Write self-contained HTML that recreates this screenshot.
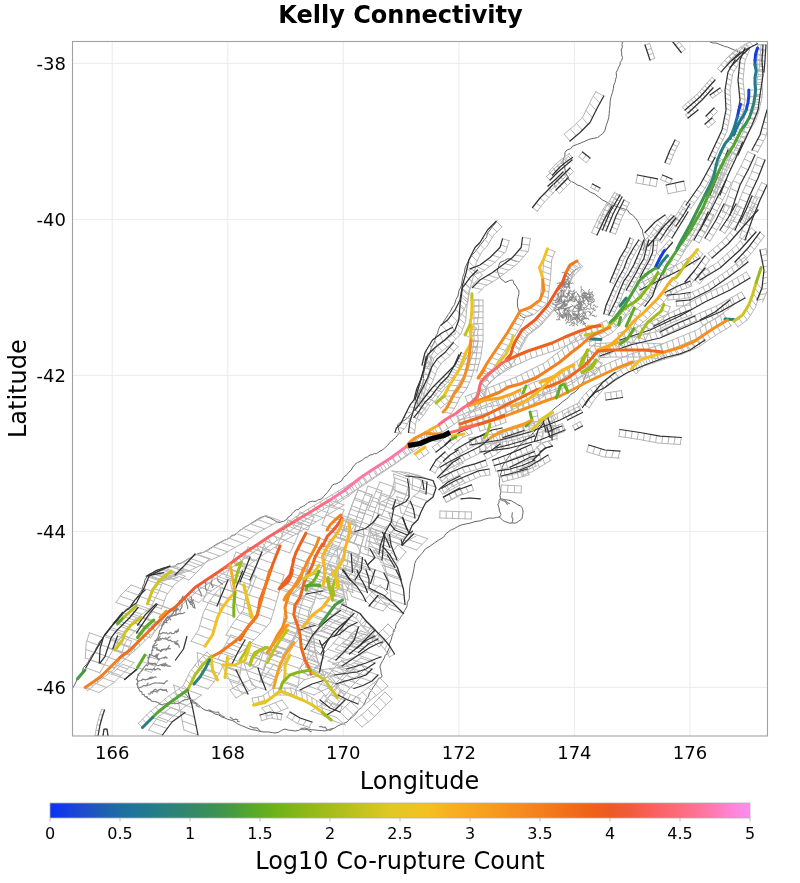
<!DOCTYPE html><html><head><meta charset="utf-8"><title>Kelly Connectivity</title><style>html,body{margin:0;padding:0;background:#fff;}svg{display:block}text{font-family:"DejaVu Sans","Liberation Sans",sans-serif;fill:#000}</style></head><body>
<svg width="800" height="883" viewBox="0 0 800 883">
<defs><linearGradient id="cb" x1="0" x2="1" y1="0" y2="0">
<stop offset="0.0000" stop-color="#0a32f5"/>
<stop offset="0.0500" stop-color="#1e4ec8"/>
<stop offset="0.1000" stop-color="#1d6ea2"/>
<stop offset="0.1500" stop-color="#237e88"/>
<stop offset="0.2000" stop-color="#33886a"/>
<stop offset="0.2500" stop-color="#40964a"/>
<stop offset="0.2860" stop-color="#55a82a"/>
<stop offset="0.3200" stop-color="#6cb21a"/>
<stop offset="0.3800" stop-color="#98ba1a"/>
<stop offset="0.4280" stop-color="#b8c01e"/>
<stop offset="0.4860" stop-color="#e0c824"/>
<stop offset="0.5400" stop-color="#f5c024"/>
<stop offset="0.5720" stop-color="#f8b020"/>
<stop offset="0.6200" stop-color="#f7a01f"/>
<stop offset="0.6800" stop-color="#f48820"/>
<stop offset="0.7140" stop-color="#f27a1c"/>
<stop offset="0.7720" stop-color="#ee621a"/>
<stop offset="0.8000" stop-color="#ec5a24"/>
<stop offset="0.8280" stop-color="#f05c3a"/>
<stop offset="0.8580" stop-color="#f8605a"/>
<stop offset="0.9000" stop-color="#fc6c7e"/>
<stop offset="0.9420" stop-color="#ff78a8"/>
<stop offset="0.9720" stop-color="#ff84d4"/>
<stop offset="1.0000" stop-color="#ff8cf4"/>
</linearGradient><clipPath id="ax"><rect x="72" y="41.5" width="695.5" height="694.5"/></clipPath></defs>
<text x="400.5" y="23" font-size="24" font-weight="bold" text-anchor="middle">Kelly Connectivity</text>
<path d="M112.2 41.5V736M227.8 41.5V736M343.3 41.5V736M458.9 41.5V736M574.4 41.5V736M690.0 41.5V736M72 63.4H767.5M72 219.4H767.5M72 375.4H767.5M72 531.4H767.5M72 687.4H767.5" stroke="#ebebeb" stroke-width="1" fill="none"/>
<g clip-path="url(#ax)" fill="none" stroke-linecap="round" stroke-linejoin="round">
<polyline points="622.5,41.5 622.0,44.4 622.3,47.1 621.2,50.0 621.7,52.6 621.6,55.0 622.5,57.5 621.8,60.4 620.3,62.2 620.0,65.0 618.2,67.9 617.8,69.4 616.2,72.5 616.5,76.5 615.6,79.3 615.0,82.5 613.7,85.2 613.4,88.6 612.5,92.5 611.2,96.3 610.2,100.8 610.0,105.0 609.5,109.6 609.2,113.5 608.8,117.5 607.5,121.9 606.2,125.5 605.0,130.0 603.2,133.2 600.5,135.3 597.5,137.5 593.1,138.4 588.9,139.4 585.0,141.2 581.2,142.8 577.2,144.4 572.5,146.2 570.6,148.8 566.8,150.0 565.0,152.5 564.9,155.0 564.3,157.4 563.0,160.0 563.1,163.5 564.7,166.3 565.0,170.0 565.7,173.1 568.1,177.0 568.8,180.0 571.1,181.3 574.0,182.7 577.5,185.0 581.2,186.2 584.2,188.3 587.5,190.0 589.6,191.7 592.0,192.9 595.0,194.0 597.0,195.9 599.6,197.7 602.5,200.0 607.3,202.4 610.6,204.5 615.0,206.0 618.8,207.2 623.8,208.9 627.5,210.0 629.4,213.2 632.1,214.7 635.0,217.5 637.9,221.4 639.7,225.2 642.5,230.0 642.8,233.4 643.8,236.8 645.0,240.0 644.2,243.3 644.3,246.6 643.0,250.0" stroke="#666" stroke-width="1"/>
<polyline points="709.0,41.5 712.8,43.0 715.9,43.0 720.0,44.5 724.6,46.4 727.6,47.1 732.0,49.0 735.7,50.6 738.2,51.6 742.0,52.0" stroke="#666" stroke-width="1"/>
<polyline points="516.2,261.2 513.9,260.6 510.3,259.0 507.5,258.8 504.4,260.6 502.1,261.5 500.0,262.5 498.8,265.5 498.5,267.2 497.5,270.0 497.9,272.8 498.6,274.6 500.0,277.5 501.7,279.7 503.5,280.5 505.0,282.5 508.1,281.3 509.3,280.5 512.5,280.0 513.3,281.1 513.7,283.1 515.0,285.0 516.4,286.2 517.3,288.9 518.8,290.0 519.0,293.6 518.2,296.8 517.5,300.0 517.4,302.7 517.7,307.2 518.8,310.0 519.4,312.3 518.9,313.5 520.0,315.0 521.6,316.2 523.1,317.4 525.0,317.5 526.7,316.4 530.0,315.7 532.0,314.0" stroke="#666" stroke-width="1"/>
<polyline points="499.5,517.0 496.3,517.6 492.9,518.2 489.0,518.0 484.1,519.4 480.2,520.9 475.0,521.5 470.2,523.1 466.2,523.9 461.0,525.0 457.7,526.6 454.1,528.7 450.5,530.2 446.0,533.7 443.4,537.3 438.8,540.0 434.6,542.8 430.1,546.1 425.2,549.0 422.1,553.3 418.6,557.0 416.1,560.4 414.7,563.6 414.5,566.1 413.8,569.5 412.9,574.0 411.7,579.1 410.4,583.0 409.7,587.6 409.4,593.8 409.3,598.9 407.4,602.2 406.9,606.7 404.8,610.2 402.5,614.5 400.0,618.0 398.0,621.6 396.0,624.5 395.4,628.2 393.4,630.6 393.2,633.5 392.0,636.4 391.2,639.7 389.6,643.5 389.4,647.7 387.8,651.0 387.0,653.9 385.2,655.1 384.4,657.8 382.8,660.5 381.0,663.7 379.9,666.9 380.8,669.9 381.1,673.4 382.1,676.0 381.3,677.4 378.5,678.3 377.6,680.5 376.6,682.1 374.9,685.1 373.1,687.3 371.3,690.7 369.4,692.9 368.5,696.4 366.2,699.5 364.4,703.6 361.7,707.7 358.2,710.1 355.9,713.7 352.7,716.8 349.8,719.3 347.1,721.9 343.6,723.5 340.8,724.6 337.5,726.1 334.5,728.1 330.6,729.0 328.5,729.6 325.0,731.0 321.3,730.5 318.6,730.4 315.0,730.0 311.8,729.7 308.2,729.1 305.0,728.0 302.2,728.4 298.9,730.3 295.0,731.0 291.1,730.3 288.5,730.2 285.0,729.0 281.5,730.4 278.9,732.1 275.0,733.0 272.3,732.6 268.5,731.9 265.0,732.0 262.0,731.8 258.5,731.0 255.0,730.0 251.3,729.6 249.0,728.7 245.0,727.0 241.7,725.7 238.1,724.2 235.0,722.0 232.2,720.5 227.7,719.3 225.0,718.0 221.7,717.0 218.3,714.7 215.0,714.0 212.1,712.1 208.8,710.9 205.0,710.0 201.8,708.1 198.5,704.8 196.0,703.0 193.4,701.3 191.1,699.3 188.0,697.0 186.6,695.3 184.6,693.1 182.0,692.0" stroke="#666" stroke-width="1"/>
<polyline points="499.5,517.0 500.9,518.5 502.7,520.3 504.8,521.5 506.7,522.1 508.7,522.8 510.0,523.2 512.1,522.8 515.2,523.2 517.0,522.4 518.3,521.4 521.2,519.5 522.2,518.0 522.6,515.2 522.9,513.3 523.1,511.0 522.4,508.6 522.0,507.5 520.5,505.8 518.0,505.0 515.9,503.4 513.5,502.2 511.4,500.8 508.9,500.4 506.5,499.6 505.1,499.9 502.1,499.0 500.4,498.8 499.0,500.4 499.1,502.8 497.8,504.0 498.8,507.2 499.5,511.2 501.0,514.5 501.1,514.8 500.4,515.5 499.5,517.0" stroke="#666" stroke-width="1"/>
<polyline points="500.4,498.8 500.0,495.5 500.7,492.7 500.4,490.0 499.9,487.3 499.2,484.5 499.5,481.2 499.6,478.3 500.3,475.0 501.2,472.5 501.9,470.1 502.2,467.7 503.0,465.5 505.4,461.5 507.3,458.7 510.0,455.0 513.5,451.7 517.2,448.5 520.0,445.0 523.8,441.6 527.0,439.4 530.0,436.0 533.9,432.1 536.4,429.3 540.0,425.0 542.3,423.0 545.9,419.2 548.0,417.0 550.0,414.3 552.3,410.4 555.0,408.0 558.8,405.2 562.1,402.1 565.0,400.0 568.2,397.6 571.0,394.2 575.0,392.0 577.9,389.2 581.0,384.8 583.0,382.0 584.7,377.7 586.3,372.9 588.0,368.0 587.6,362.7 587.4,358.0 588.0,354.0" stroke="#666" stroke-width="1"/>
<polyline points="497.0,221.0 494.7,224.0 492.4,226.5 490.0,230.0 487.6,232.9 486.5,237.4 484.0,240.0 482.6,242.1 479.4,246.0 478.0,248.0 475.3,251.7 472.4,254.6 470.0,258.0 468.4,261.2 466.8,264.0 465.0,268.0 464.3,273.1 462.6,277.3 462.0,282.0 461.0,286.5 458.9,290.9 458.0,296.0 456.0,299.3 454.6,304.4 452.0,308.0 450.3,311.8 448.2,314.5 446.0,318.0 444.1,320.7 442.7,323.8 440.0,326.0 438.3,329.9 437.7,333.1 436.0,336.0 435.1,339.2 433.9,343.2 432.0,346.0 430.9,349.7 429.7,352.5 428.0,356.0 427.3,359.4 425.8,364.0 425.0,368.0 423.5,373.5 423.5,379.5 422.5,385.0 420.5,389.0 419.4,391.4 417.5,395.0 417.7,398.4 417.5,401.5 417.5,405.0 416.5,407.7 414.4,410.4 412.5,412.5 410.7,414.3 407.7,417.8 405.0,420.0 402.2,421.5 399.4,422.9 397.5,425.0 398.2,426.9 398.8,430.6 400.0,432.5 397.6,435.0 395.7,437.6 392.5,440.0 392.4,441.0 391.3,441.1 390.0,442.5 387.6,445.4 384.4,448.1 382.5,450.0 379.9,451.2 377.9,452.5 376.2,453.8 374.3,453.5 372.7,454.5 370.0,455.0 367.5,456.8 364.8,458.0 362.5,460.0 361.1,460.9 358.9,462.0 357.5,462.5 355.1,464.3 353.0,466.9 351.2,470.0 348.7,472.4 346.9,474.7 345.0,476.2 343.3,477.7 341.5,481.0 338.8,482.5 336.1,483.9 334.5,484.1 332.5,485.0 330.7,488.0 327.5,492.3 325.0,495.0 323.6,496.5 322.3,498.4 320.0,499.5 318.5,499.6 316.8,500.8 315.0,501.5 312.3,501.2 310.4,501.6 308.0,502.5 306.9,503.7 305.9,504.2 305.0,505.5 303.4,506.1 302.1,506.9 300.0,507.5 298.7,509.5 296.3,509.8 294.0,511.5 292.1,513.5 291.7,514.7 290.0,516.0 288.1,517.2 286.9,519.1 285.0,520.5 283.5,521.4 282.0,521.4 280.0,522.5 277.0,522.0 275.2,520.7 272.0,519.0 269.0,517.4 267.0,516.9 265.0,516.0 261.8,517.1 258.4,518.7 255.0,521.0 251.1,523.2 248.4,525.2 245.0,527.0 242.2,529.0 239.3,530.8 237.0,533.0 235.0,535.0 231.7,535.5 230.0,537.5 227.1,539.3 223.7,540.4 220.0,542.5 215.7,544.7 212.1,547.3 207.5,550.0 203.5,552.4 198.9,553.4 195.0,555.0 192.0,557.6 188.2,558.8 185.0,561.0 181.1,563.2 177.7,563.7 175.0,566.0 171.8,566.6 168.6,567.1 165.0,568.0 162.9,568.1 159.6,569.6 157.5,570.0 154.4,571.1 152.8,572.9 150.0,574.0 148.4,574.8 147.1,577.0 146.0,578.0 144.8,580.1 144.3,583.4 143.0,586.0 141.9,589.9 140.2,592.6 138.0,596.0 136.4,598.4 133.7,601.2 132.0,604.0 129.9,607.2 126.3,609.1 124.0,612.0 121.1,614.5 118.5,617.2 116.0,620.0 113.6,622.8 112.4,625.4 110.0,628.0 108.5,630.8 105.5,633.7 104.0,636.0 102.5,638.7 99.3,642.0 98.0,645.0 96.1,648.4 94.7,651.9 92.0,655.0 90.4,657.7 88.1,662.1 86.0,665.0 83.4,667.7 82.3,672.2 80.0,675.0 78.1,677.5 76.8,680.0 76.0,682.0 74.9,684.3 72.9,687.7 72.0,690.0" stroke="#666" stroke-width="1"/>
<path d="M564.2 134.1 L573.9 125.9 L582.6 117.3 L589.5 103.4 L595.8 91.7 M570.0 141.0 L564.2 134.1 M576.2 135.7 L570.4 128.9 M582.3 130.2 L576.4 123.4 M588.0 124.5 L582.3 117.7 M592.4 117.7 L586.0 110.5 M596.1 110.4 L589.6 103.1 M599.9 103.2 L593.5 96.0 M603.8 96.0 L595.8 91.7 M649.7 43.4 L654.7 58.4 M645.0 45.0 L649.7 43.4 M646.7 50.0 L651.4 48.4 M648.3 55.0 L653.1 53.4 M650.0 60.0 L654.7 58.4 M676.4 38.4 L685.2 49.4 M672.5 41.5 L676.4 38.4 M675.4 45.2 L679.3 42.1 M678.3 48.8 L682.2 45.7 M681.2 52.5 L685.2 49.4 M669.6 164.4 L674.6 152.0 L679.5 142.2 M665.0 162.5 L669.6 164.4 M666.8 157.9 L671.5 159.8 M668.7 153.3 L673.3 155.2 M670.6 148.8 L675.2 150.7 M672.8 144.4 L677.5 146.3 M675.0 140.0 L679.5 142.2 M578.8 156.7 L586.3 162.7 M582.5 152.0 L578.8 156.7 M586.2 155.0 L582.5 159.7 M590.0 158.0 L586.3 162.7 M636.0 182.9 L656.0 186.6 M637.5 175.0 L636.0 182.9 M644.2 176.2 L642.7 184.1 M650.8 177.5 L649.4 185.4 M657.5 178.8 L656.0 186.6 M660.6 179.6 L670.1 183.6 M662.5 175.0 L660.6 179.6 M667.2 177.0 L665.3 181.6 M672.0 179.0 L670.1 183.6 M668.1 193.8 L685.6 190.1 M666.2 185.0 L668.1 193.8 M675.0 183.1 L676.9 191.9 M683.8 181.2 L685.6 190.1 M590.6 187.5 L598.1 191.5 M592.5 184.0 L590.6 187.5 M596.2 186.0 L594.4 189.5 M600.0 188.0 L598.1 191.5 M597.0 227.7 L604.6 209.3 L614.8 192.0 M602.5 230.0 L597.0 227.7 M604.4 225.5 L598.9 223.2 M606.3 220.9 L600.7 218.6 M608.2 216.4 L602.6 214.1 M610.1 211.9 L604.5 209.6 M612.5 207.7 L607.0 205.3 M615.0 203.5 L609.4 201.1 M617.5 199.2 L611.9 196.9 M620.0 195.0 L614.4 192.7 M600.5 228.7 L607.6 211.4 L616.7 194.2 M606.0 231.0 L600.5 228.7 M607.8 226.7 L602.2 224.4 M609.6 222.3 L604.0 220.0 M611.4 218.0 L605.8 215.7 M613.2 213.6 L607.6 211.3 M615.4 209.5 L609.8 207.2 M617.6 205.3 L612.0 203.0 M619.8 201.2 L614.2 198.9 M622.0 197.0 L616.4 194.7 M615.6 234.1 L621.5 218.4 L629.4 202.7 M610.0 232.0 L615.6 234.1 M611.8 227.3 L617.4 229.4 M613.5 222.6 L619.1 224.7 M615.3 218.0 L620.9 220.1 M617.3 213.4 L622.9 215.5 M619.5 208.9 L625.2 211.1 M621.8 204.5 L627.4 206.6 M624.0 200.0 L629.4 202.7 M591.6 232.5 L598.7 217.2 L606.8 203.0 M597.0 235.0 L591.6 232.5 M599.8 229.1 L594.3 226.5 M602.5 223.2 L597.1 220.6 M605.5 217.3 L600.1 214.8 M608.8 211.7 L603.3 209.1 M612.0 206.0 L606.5 203.5 M682.4 107.0 L697.2 94.2 L712.0 77.4 M685.0 110.0 L682.4 107.0 M687.9 107.5 L685.3 104.4 M690.8 104.9 L688.2 101.9 M693.8 102.4 L691.1 99.4 M696.7 99.9 L694.1 96.9 M699.6 97.3 L697.0 94.3 M702.2 94.5 L699.6 91.4 M704.8 91.6 L702.1 88.6 M707.3 88.7 L704.7 85.7 M709.9 85.8 L707.2 82.8 M712.4 82.9 L709.8 79.9 M715.0 80.0 L712.0 77.4 M685.3 110.1 L699.2 97.2 L710.1 85.3 M688.0 113.0 L685.3 110.1 M690.9 110.3 L688.2 107.4 M693.8 107.6 L691.0 104.7 M696.6 105.0 L693.9 102.0 M699.5 102.3 L696.8 99.4 M702.4 99.6 L699.6 96.7 M705.0 96.7 L702.3 93.8 M707.7 93.8 L705.0 90.9 M710.3 90.9 L707.6 88.0 M713.0 88.0 L710.1 85.3 M685.5 114.9 L695.5 106.9 M688.0 118.0 L685.5 114.9 M691.3 115.3 L688.8 112.2 M694.7 112.7 L692.2 109.5 M698.0 110.0 L695.5 106.9 M712.3 98.3 L722.3 91.3 M710.0 95.0 L712.3 98.3 M713.3 92.7 L715.6 95.9 M716.7 90.3 L719.0 93.6 M720.0 88.0 L722.3 91.3 M709.5 119.5 L717.5 111.5 M706.0 116.0 L709.5 119.5 M710.0 112.0 L713.5 115.5 M714.0 108.0 L717.5 111.5 M708.3 127.8 L715.3 121.8 M705.0 124.0 L708.3 127.8 M708.5 121.0 L711.8 124.8 M712.0 118.0 L715.3 121.8 M690.9 208.4 L705.1 188.1 L720.3 160.4 M686.0 205.0 L690.9 208.4 M689.6 199.9 L694.5 203.4 M693.1 194.9 L698.0 198.3 M696.7 189.8 L701.6 193.2 M700.2 184.7 L705.1 188.1 M703.1 179.2 L708.1 182.7 M706.1 173.8 L711.0 177.3 M709.1 168.4 L714.0 171.8 M712.0 162.9 L717.0 166.4 M715.0 157.5 L719.9 161.0 M650.8 238.0 L660.3 228.0 L669.6 221.6 M645.0 232.5 L650.8 238.0 M651.1 226.1 L656.9 231.6 M657.7 220.1 L663.6 225.7 M665.0 215.0 L669.6 221.6 M661.4 242.8 L670.1 231.2 L679.7 221.7 M655.0 238.0 L661.4 242.8 M659.4 232.2 L665.8 237.0 M663.7 226.3 L670.1 231.1 M668.8 221.2 L675.3 226.0 M674.0 216.0 L679.7 221.7 M666.9 234.9 L674.9 221.9 L682.9 208.9 M672.0 238.0 L666.9 234.9 M675.2 232.8 L670.1 229.7 M678.4 227.6 L673.3 224.5 M681.6 222.4 L676.5 219.3 M684.8 217.2 L679.7 214.1 M688.0 212.0 L682.9 208.9 M739.3 62.5 L732.7 73.6 L730.0 90.3 L731.0 110.4 L726.8 131.5 L719.5 147.1 L712.5 162.1 M735.0 60.0 L739.3 62.5 M732.5 64.3 L736.7 66.8 M729.9 68.7 L734.2 71.2 M727.8 73.2 L732.4 75.8 M727.0 78.1 L731.6 80.7 M726.1 83.1 L730.7 85.7 M725.3 88.1 L730.0 90.7 M725.2 93.1 L730.3 95.7 M725.4 98.1 L730.5 100.7 M725.7 103.1 L730.8 105.8 M725.9 108.2 L730.9 110.8 M725.4 113.1 L729.9 115.7 M724.4 118.1 L728.9 120.6 M723.4 123.0 L728.0 125.6 M722.4 127.9 L727.0 130.5 M720.8 132.6 L725.1 135.1 M718.6 137.2 L723.0 139.7 M716.5 141.8 L720.8 144.3 M714.4 146.3 L718.7 148.8 M712.3 150.9 L716.6 153.4 M710.1 155.4 L714.5 158.0 M708.0 160.0 L712.5 162.1 M749.6 49.9 L744.9 61.1 L743.0 80.0 L745.0 100.1 L741.9 118.8 M745.0 48.0 L749.6 49.9 M743.0 52.7 L747.6 54.6 M741.1 57.4 L745.6 59.3 M739.8 62.3 L744.6 64.3 M739.3 67.4 L744.1 69.3 M738.8 72.5 L743.6 74.4 M738.2 77.5 L743.1 79.5 M738.3 82.6 L743.5 84.6 M738.8 87.7 L744.0 89.6 M739.3 92.8 L744.5 94.7 M739.8 97.8 L745.0 99.8 M739.5 102.9 L744.2 104.8 M738.7 107.9 L743.4 109.9 M737.8 113.0 L742.6 114.9 M737.0 118.0 L741.9 118.8 M732.6 151.9 L726.6 166.9 L720.6 181.9 L714.6 196.9 M728.0 150.0 L732.6 151.9 M726.2 154.5 L730.8 156.4 M724.4 159.0 L729.0 160.9 M722.6 163.5 L727.2 165.4 M720.8 168.0 L725.4 169.9 M719.0 172.5 L723.6 174.4 M717.2 177.0 L721.8 178.9 M715.4 181.5 L720.0 183.4 M713.6 186.0 L718.2 187.9 M711.8 190.5 L716.4 192.4 M710.0 195.0 L714.6 196.9 M758.0 44.7 L757.0 60.0 L758.0 74.7 L755.1 94.3 L753.2 108.7 L747.4 123.0 L740.5 137.9 L733.5 152.9 M763.0 45.0 L758.0 44.7 M762.7 50.0 L757.7 49.6 M762.3 55.0 L757.4 54.6 M762.0 59.9 L757.0 59.6 M762.3 64.9 L757.3 64.6 M762.7 69.9 L757.7 69.5 M763.0 74.9 L758.0 74.5 M762.3 79.8 L757.3 79.4 M761.5 84.7 L756.5 84.4 M760.8 89.6 L755.8 89.3 M760.1 94.6 L755.1 94.2 M759.4 99.5 L754.4 99.2 M758.7 104.5 L753.8 104.1 M758.1 109.4 L753.0 109.1 M756.4 114.1 L751.2 113.7 M754.5 118.7 L749.3 118.3 M752.7 123.3 L747.4 122.9 M750.7 127.9 L745.3 127.4 M748.5 132.4 L743.2 132.0 M746.4 136.9 L741.1 136.5 M744.3 141.4 L739.0 141.0 M742.2 146.0 L736.9 145.5 M740.1 150.5 L734.8 150.0 M738.0 155.0 L733.5 152.9 M736.1 139.7 L728.6 157.1 L721.6 172.2 L713.5 192.4 M742.5 142.5 L736.1 139.7 M739.7 149.1 L733.3 146.3 M736.9 155.6 L730.4 152.9 M734.0 162.2 L727.6 159.4 M731.0 168.6 L724.5 165.9 M728.0 175.1 L721.5 172.4 M725.3 181.7 L718.9 179.0 M722.7 188.4 L716.2 185.6 M720.0 195.0 L713.6 192.2 M747.8 151.6 L740.8 166.4 L732.6 182.0 L722.4 212.5 M755.0 155.0 L747.8 151.6 M751.6 162.4 L744.3 159.0 M748.1 169.8 L740.9 166.4 M744.3 177.0 L737.0 173.6 M740.5 184.1 L733.2 180.8 M737.7 191.8 L730.4 188.4 M735.2 199.5 L727.9 196.1 M732.6 207.3 L725.3 203.9 M730.0 215.0 L722.7 211.6 M757.5 157.1 L750.6 174.8 L742.7 191.8 L734.6 211.8 L727.8 226.6 M765.0 160.0 L757.5 157.1 M762.2 167.1 L754.8 164.2 M759.5 174.2 L752.0 171.3 M756.5 181.2 L749.0 178.3 M753.2 188.1 L745.8 185.2 M750.0 195.0 L742.5 192.1 M747.2 202.1 L739.7 199.2 M744.3 209.1 L736.9 206.2 M741.4 216.2 L734.0 213.3 M738.2 223.1 L730.8 220.2 M735.0 230.0 L727.8 226.6 M761.6 182.5 L754.5 197.6 L746.4 217.9 L739.3 238.0 M767.0 185.0 L761.6 182.5 M763.9 191.7 L758.4 189.2 M760.7 198.4 L755.3 195.9 M757.9 205.3 L752.4 202.7 M755.1 212.2 L749.7 209.6 M752.4 219.0 L746.9 216.5 M749.9 226.0 L744.4 223.5 M747.4 233.0 L742.0 230.5 M745.0 240.0 L739.5 237.5 M772.8 111.6 L765.6 137.1 L757.3 152.8 M767.0 110.0 L772.8 111.6 M765.3 115.9 L771.1 117.5 M763.7 121.8 L769.5 123.4 M762.0 127.7 L767.8 129.3 M760.4 133.6 L766.1 135.3 M757.8 139.2 L763.6 140.8 M754.9 144.6 L760.8 146.3 M752.0 150.0 L757.9 151.7 M705.2 232.9 L715.3 214.8 L723.4 198.7 L731.4 182.7 M700.0 230.0 L705.2 232.9 M703.0 224.5 L708.3 227.4 M706.1 219.1 L711.3 222.0 M709.1 213.6 L714.4 216.5 M712.0 208.0 L717.2 210.9 M714.8 202.4 L720.0 205.3 M717.6 196.8 L722.8 199.7 M720.4 191.2 L725.6 194.1 M723.2 185.6 L728.4 188.5 M726.0 180.0 L731.2 182.9 M710.1 241.1 L721.2 222.9 L729.4 206.7 M705.0 238.0 L710.1 241.1 M708.4 232.5 L713.5 235.6 M711.8 226.9 L716.9 230.0 M715.2 221.4 L720.3 224.5 M718.2 215.6 L723.3 218.8 M721.1 209.8 L726.2 212.9 M724.0 204.0 L729.1 207.1 M699.2 243.0 L707.4 228.7 L713.5 214.4 M694.0 240.0 L699.2 243.0 M697.1 234.6 L702.3 237.5 M700.2 229.1 L705.4 232.1 M703.1 223.5 L708.3 226.5 M705.5 217.8 L710.8 220.8 M708.0 212.0 L713.2 215.0 M548.9 171.6 L556.5 163.4 L563.0 158.0 L569.7 153.4 M552.5 175.0 L548.9 171.6 M556.1 171.1 L552.5 167.7 M559.8 167.2 L556.2 163.8 M563.9 163.8 L560.2 160.3 M568.1 160.5 L564.4 157.0 M572.5 157.5 L568.8 154.0 M546.5 176.5 L554.6 168.3 L561.7 162.2 L568.7 156.2 M550.0 180.0 L546.5 176.5 M553.5 176.5 L550.0 173.0 M557.0 173.0 L553.5 169.5 M560.7 169.7 L557.2 166.1 M564.5 166.5 L560.9 162.9 M568.2 163.2 L564.7 159.7 M572.0 160.0 L568.5 156.5 M557.5 187.5 L565.5 179.5 L573.5 171.5 M554.0 184.0 L557.5 187.5 M557.2 180.8 L560.7 184.3 M560.4 177.6 L563.9 181.1 M563.6 174.4 L567.1 177.9 M566.8 171.2 L570.3 174.7 M570.0 168.0 L573.5 171.5 M551.3 189.8 L559.4 182.7 L566.5 175.5 M548.0 186.0 L551.3 189.8 M551.9 182.6 L555.2 186.4 M555.7 179.2 L559.0 183.0 M559.4 175.6 L562.7 179.4 M563.0 172.0 L566.3 175.8 M537.2 211.2 L544.5 201.9 L550.3 196.2 L556.9 189.1 M532.5 207.5 L537.2 211.2 M536.2 202.8 L540.9 206.5 M540.0 198.0 L544.7 201.8 M544.2 193.8 L549.0 197.5 M548.4 189.4 L553.1 193.1 M552.5 185.0 L556.9 189.1 M559.5 193.5 L565.5 187.5 L571.5 181.5 M556.0 190.0 L559.5 193.5 M560.0 186.0 L563.5 189.5 M564.0 182.0 L567.5 185.5 M568.0 178.0 L571.5 181.5 M717.5 68.6 L726.4 58.5 L736.6 48.9 M721.2 71.9 L717.5 68.6 M724.8 67.9 L721.1 64.5 M728.4 63.8 L724.7 60.5 M732.2 59.9 L728.4 56.6 M736.1 56.2 L732.3 52.9 M740.0 52.5 L736.2 49.2 M726.4 64.1 L736.5 53.5 L746.6 43.9 M730.0 67.5 L726.4 64.1 M733.3 64.1 L729.6 60.6 M736.5 60.7 L732.9 57.2 M739.8 57.3 L736.1 53.8 M743.2 54.0 L739.5 50.5 M746.6 50.7 L743.0 47.3 M750.0 47.5 L746.4 44.0 M729.4 56.1 L742.3 45.8 L755.3 39.3 M732.5 60.0 L729.4 56.1 M736.4 56.9 L733.3 53.0 M740.3 53.8 L737.2 49.9 M744.2 50.6 L741.1 46.7 M748.6 48.2 L745.4 44.2 M753.0 46.0 L749.9 42.0 M757.5 43.8 L754.3 39.8 M761.0 44.7 L760.0 59.6 L759.0 71.6 M766.0 45.0 L761.0 44.7 M765.6 50.4 L760.7 50.1 M765.3 55.8 L760.3 55.5 M764.9 61.2 L759.9 60.9 M764.4 66.6 L759.5 66.3 M764.0 72.0 L759.0 71.6 M501.9 226.9 L493.9 234.9 L486.5 247.1 L481.7 251.8 L476.3 262.6 L474.0 274.4 L470.3 286.8 L467.7 302.3 L461.8 314.2 L453.4 325.4 L446.2 331.2 M496.2 221.2 L501.9 226.9 M491.2 226.3 L496.9 231.9 M486.6 231.6 L492.4 237.3 M482.9 237.7 L488.7 243.4 M479.0 243.5 L484.5 249.1 M474.3 248.8 L480.3 254.7 M471.2 255.2 L477.1 261.0 M468.4 261.7 L475.3 267.8 M467.0 268.6 L473.9 274.8 M465.3 275.5 L471.9 281.6 M463.3 282.3 L470.0 288.4 M461.8 289.2 L468.8 295.4 M460.6 296.2 L467.6 302.4 M458.5 302.9 L464.5 308.8 M455.4 309.3 L461.2 315.0 M451.2 315.0 L456.9 320.7 M446.8 320.6 L452.4 326.2 M441.2 325.0 L446.9 330.7 M509.2 240.7 L505.8 251.4 L494.6 262.8 L483.4 271.1 L472.5 275.3 M502.5 238.8 L509.2 240.7 M500.7 245.1 L507.2 247.0 M497.1 250.4 L504.4 252.8 M492.4 255.1 L499.7 257.6 M487.4 259.5 L495.1 262.3 M482.1 263.4 L489.8 266.3 M476.2 266.4 L484.5 270.3 M470.0 268.8 L478.5 273.0 M530.4 238.5 L528.4 251.1 L518.0 263.3 L507.3 271.4 L496.9 279.2 L484.8 286.4 L478.2 293.2 M522.5 237.5 L530.4 238.5 M521.7 244.1 L529.4 245.1 M519.1 250.0 L528.0 251.6 M514.7 255.0 L523.7 256.6 M509.8 259.5 L519.3 261.7 M504.4 263.5 L514.3 266.1 M499.1 267.6 L509.0 270.1 M493.7 271.6 L503.6 274.1 M488.1 275.1 L498.3 278.2 M482.4 278.6 L492.6 281.7 M477.2 282.8 L486.9 285.2 M472.5 287.5 L481.8 289.4 M482.4 274.9 L475.3 282.1 L469.1 289.9 L467.0 305.8 L465.6 321.4 L460.8 334.0 L449.6 345.3 L439.6 352.8 L433.8 358.1 L430.5 371.8 L426.7 384.5 L421.7 401.9 M477.5 270.0 L482.4 274.9 M473.2 274.3 L478.2 279.2 M469.1 278.6 L474.1 283.6 M465.5 283.5 L470.3 288.3 M462.4 288.5 L468.6 293.8 M461.5 294.4 L467.8 299.8 M460.7 300.4 L467.0 305.8 M459.9 306.3 L466.4 311.8 M459.4 312.3 L465.9 317.8 M458.9 318.3 L464.7 323.6 M457.2 324.1 L462.6 329.2 M455.1 329.7 L460.1 334.6 M451.0 334.0 L455.9 338.9 M446.7 338.3 L451.6 343.2 M442.1 342.2 L447.1 347.1 M437.3 345.8 L442.3 350.8 M432.8 349.7 L437.6 354.6 M428.5 354.0 L433.6 358.9 M426.4 359.4 L432.2 364.7 M424.9 365.3 L430.8 370.6 M423.4 371.1 L429.1 376.4 M421.7 376.9 L427.4 382.1 M420.0 382.6 L425.7 387.9 M418.3 388.4 L424.1 393.7 M416.7 394.2 L422.4 399.5 M415.0 400.0 L421.7 401.9 M455.6 333.8 L446.2 338.4 L437.8 344.6 L431.5 355.2 L428.8 366.6 M452.5 327.5 L455.6 333.8 M446.0 330.8 L449.1 337.0 M439.8 334.6 L442.9 340.8 M433.9 338.9 L437.3 345.4 M429.7 344.7 L433.6 351.7 M425.9 351.0 L430.7 358.3 M423.7 357.9 L429.1 365.4 M422.0 365.0 L428.8 366.6 M467.5 355.6 L460.7 369.1 L449.9 379.9 L437.7 392.2 L428.0 404.3 L420.6 414.2 M461.2 352.5 L467.5 355.6 M458.5 358.0 L464.7 361.2 M455.7 363.6 L461.9 366.7 M451.7 368.3 L458.2 371.6 M447.4 372.6 L453.9 376.0 M443.0 377.0 L449.5 380.4 M438.6 381.4 L445.1 384.7 M434.2 385.8 L440.8 389.1 M430.2 390.4 L436.5 393.6 M426.3 395.3 L432.7 398.5 M422.4 400.1 L428.8 403.3 M418.7 405.0 L425.1 408.2 M415.0 410.0 L421.4 413.2 M483.0 300.0 L483.0 320.0 L483.0 340.5 L480.8 356.8 L476.7 372.3 M474.0 300.0 L483.0 300.0 M474.0 305.9 L483.0 305.9 M474.0 311.8 L483.0 311.8 M474.0 317.7 L483.0 317.7 M474.0 323.6 L483.0 323.6 M474.0 329.4 L483.0 329.4 M474.0 335.3 L483.0 335.3 M473.8 341.2 L482.9 341.2 M473.1 347.0 L482.1 347.0 M472.3 352.9 L481.3 352.9 M471.0 358.6 L480.3 358.7 M469.5 364.3 L478.8 364.4 M468.0 370.0 L477.3 370.1 M474.0 300.0 L474.0 320.0 L474.0 340.0 L472.0 355.0 L468.0 370.0 M555.0 251.6 L551.6 260.1 L550.5 278.2 L547.4 303.1 L533.9 314.5 L525.1 317.4 L521.9 324.1 L514.2 336.8 L504.2 351.9 L494.3 366.7 L485.7 381.5 M547.5 248.8 L555.0 251.6 M545.4 254.3 L552.8 257.1 M543.7 259.9 L551.5 262.7 M543.3 265.8 L551.1 268.6 M542.9 271.6 L550.7 274.5 M542.5 277.5 L550.2 280.4 M541.8 283.4 L549.5 286.2 M541.2 289.2 L548.7 292.1 M540.5 295.1 L548.0 297.9 M539.2 300.6 L546.8 303.5 M534.5 304.1 L542.3 307.3 M529.7 307.6 L537.8 311.2 M524.2 309.7 L533.2 314.7 M519.3 312.5 L527.6 316.6 M516.4 317.6 L523.7 320.4 M513.4 322.7 L521.0 325.6 M510.4 327.7 L517.9 330.6 M507.3 332.8 L514.9 335.7 M504.0 337.7 L511.7 340.6 M500.8 342.6 L508.4 345.6 M497.5 347.5 L505.1 350.5 M494.2 352.4 L501.9 355.4 M491.0 357.3 L498.6 360.3 M487.7 362.2 L495.3 365.2 M484.7 367.3 L492.3 370.2 M481.7 372.4 L489.3 375.3 M478.8 377.5 L486.3 380.4 M547.5 248.8 L543.8 258.8 L542.5 277.5 L540.0 300.0 L530.0 307.5 L520.0 311.2 L515.0 320.0 L507.5 332.5 L497.5 347.5 L487.5 362.5 L478.8 377.5 M582.8 266.5 L572.6 277.0 L564.0 293.9 L554.5 309.7 L540.5 325.8 L528.1 335.2 L520.0 349.9 M577.0 261.0 L582.8 266.5 M572.9 265.3 L578.6 270.8 M568.7 269.6 L574.5 275.1 M565.1 274.3 L571.1 280.0 M562.3 279.6 L568.4 285.3 M559.6 285.0 L565.6 290.6 M556.8 290.3 L562.8 295.9 M553.8 295.4 L559.7 301.0 M550.7 300.5 L556.6 306.1 M547.5 305.6 L553.3 311.1 M543.6 310.1 L549.4 315.6 M539.7 314.6 L545.4 320.1 M535.7 319.1 L541.5 324.6 M531.2 323.0 L537.0 328.5 M526.4 326.6 L532.2 332.1 M521.8 330.4 L527.7 335.9 M518.9 335.6 L524.8 341.2 M515.9 340.8 L521.9 346.4 M513.0 346.0 L520.0 349.9 M577.0 261.0 L566.0 272.5 L557.0 290.0 L548.0 305.0 L535.0 320.0 L522.0 330.0 L513.0 346.0 M604.1 332.7 L582.7 338.5 L554.9 350.5 L530.9 358.5 L511.3 367.3 M602.0 325.0 L604.1 332.7 M596.3 326.6 L598.4 334.3 M590.6 328.1 L592.7 335.8 M584.9 329.7 L587.0 337.4 M579.2 331.3 L581.4 339.1 M573.8 333.7 L575.9 341.4 M568.4 336.0 L570.5 343.8 M562.9 338.3 L565.1 346.1 M557.5 340.6 L559.6 348.4 M552.1 343.0 L554.2 350.7 M546.5 344.8 L548.6 352.6 M540.8 346.7 L542.9 354.4 M535.2 348.6 L537.3 356.3 M529.6 350.5 L531.7 358.2 M524.2 352.7 L526.3 360.5 M518.8 355.1 L520.9 363.0 M513.4 357.6 L515.5 365.4 M508.0 360.0 L511.3 367.3 M602.0 325.0 L580.0 331.0 L552.0 343.0 L528.0 351.0 L508.0 360.0 M512.2 366.8 L496.9 376.3 L486.8 386.2 L482.9 400.1 L469.9 413.8 L444.4 430.7 L411.0 453.1 L364.3 484.8 L304.4 520.7 L260.7 552.0 M508.0 360.0 L512.2 366.8 M502.0 363.7 L506.3 370.5 M496.1 367.5 L500.3 374.2 M490.4 371.6 L494.7 378.5 M485.4 376.6 L489.7 383.4 M480.4 381.6 L486.0 389.1 M478.2 388.2 L484.1 395.9 M476.3 394.9 L481.0 402.0 M471.9 400.3 L476.2 407.1 M467.0 405.4 L471.4 412.3 M461.6 409.8 L465.8 416.5 M455.7 413.6 L459.9 420.4 M449.8 417.5 L454.1 424.3 M443.9 421.4 L448.2 428.2 M438.1 425.3 L442.3 432.1 M432.2 429.2 L436.5 436.0 M426.4 433.1 L430.6 439.9 M420.5 437.1 L424.8 443.9 M414.7 441.0 L418.9 447.8 M408.9 444.9 L413.1 451.7 M403.0 448.9 L407.3 455.6 M397.2 452.8 L401.4 459.6 M391.4 456.8 L395.6 463.5 M385.5 460.7 L389.8 467.5 M379.7 464.7 L383.9 471.4 M373.9 468.6 L378.1 475.4 M368.0 472.6 L372.3 479.3 M362.2 476.5 L366.5 483.3 M356.2 480.3 L360.5 487.0 M350.2 483.9 L354.5 490.7 M344.2 487.5 L348.4 494.3 M338.1 491.1 L342.4 497.9 M332.1 494.7 L336.3 501.5 M326.1 498.4 L330.3 505.1 M320.0 502.0 L324.3 508.8 M314.0 505.6 L318.2 512.4 M307.9 509.2 L312.2 516.0 M301.9 512.9 L306.1 519.6 M296.1 516.8 L300.3 523.6 M290.4 520.9 L294.6 527.7 M284.6 525.0 L288.9 531.8 M278.9 529.1 L283.2 535.9 M273.2 533.2 L277.4 540.0 M267.5 537.3 L271.7 544.1 M261.7 541.4 L266.0 548.2 M256.0 545.5 L260.7 552.0 M508.0 360.0 L492.0 370.0 L480.0 382.0 L476.0 396.0 L465.0 407.5 L440.0 424.0 L406.5 446.5 L360.0 478.0 L300.0 514.0 L256.0 545.5 M258.3 548.8 L227.3 570.8 L197.5 590.7 L170.3 615.4 L140.3 645.4 L112.6 670.5 L87.5 690.6 M256.0 545.5 L258.3 548.8 M250.3 549.5 L252.6 552.8 M244.6 553.6 L247.0 556.8 M239.0 557.6 L241.3 560.9 M233.3 561.6 L235.6 564.9 M227.6 565.7 L229.9 568.9 M221.9 569.6 L224.2 572.9 M216.1 573.5 L218.4 576.7 M210.3 577.3 L212.6 580.6 M204.5 581.2 L206.8 584.4 M198.7 585.0 L201.0 588.3 M193.1 589.2 L195.5 592.5 M188.0 593.9 L190.3 597.2 M182.8 598.6 L185.1 601.9 M177.7 603.3 L180.0 606.5 M172.5 607.9 L174.8 611.2 M167.4 612.6 L169.7 615.9 M162.4 617.6 L164.8 620.9 M157.5 622.5 L159.9 625.8 M152.6 627.4 L154.9 630.7 M147.7 632.3 L150.0 635.6 M142.7 637.3 L145.1 640.6 M137.8 642.2 L140.2 645.5 M132.7 646.9 L135.0 650.2 M127.5 651.6 L129.9 654.8 M122.4 656.2 L124.7 659.5 M117.2 660.9 L119.6 664.2 M112.1 665.6 L114.4 668.9 M106.8 670.1 L109.1 673.4 M101.3 674.4 L103.6 677.7 M95.9 678.8 L98.2 682.1 M90.4 683.1 L92.8 686.4 M85.0 687.5 L87.5 690.6 M256.0 545.5 L225.0 567.5 L195.0 587.5 L167.5 612.5 L137.5 642.5 L110.0 667.5 L85.0 687.5 M465.2 396.5 L497.1 384.5 L516.7 376.7 L543.8 363.2 L567.1 345.7 L585.7 330.3 L606.6 320.3 M468.0 404.0 L465.2 396.5 M473.6 401.9 L470.8 394.4 M479.3 399.8 L476.5 392.3 M484.9 397.7 L482.1 390.2 M490.6 395.5 L487.7 388.1 M496.2 393.4 L493.4 385.9 M501.8 391.3 L499.0 383.8 M507.4 389.0 L504.6 381.5 M513.0 386.8 L510.2 379.3 M518.6 384.6 L515.8 377.1 M524.0 382.0 L521.2 374.5 M529.4 379.3 L526.6 371.8 M534.8 376.6 L532.0 369.1 M540.2 373.9 L537.4 366.4 M545.6 371.2 L542.8 363.7 M550.6 368.0 L547.7 360.3 M555.5 364.4 L552.5 356.7 M560.3 360.8 L557.3 353.0 M565.1 357.2 L562.1 349.4 M569.9 353.6 L566.9 345.8 M574.6 349.8 L571.6 342.0 M579.3 346.0 L576.2 338.1 M583.9 342.1 L580.8 334.3 M588.5 338.2 L585.5 330.4 M593.7 335.3 L590.9 327.8 M599.1 332.7 L596.3 325.2 M604.6 330.1 L601.7 322.6 M610.0 327.5 L606.6 320.3 M468.0 404.0 L500.0 392.0 L520.0 384.0 L548.0 370.0 L572.0 352.0 L590.0 337.0 L610.0 327.5 M457.0 416.6 L496.7 400.7 L532.8 382.7 L556.4 374.8 L578.9 359.8 L594.7 343.7 L627.6 342.0 L663.0 344.0 M460.0 424.0 L457.0 416.6 M465.6 421.8 L462.6 414.3 M471.2 419.5 L468.2 412.1 M476.8 417.3 L473.8 409.9 M482.3 415.1 L479.4 407.6 M487.9 412.8 L485.0 405.4 M493.5 410.6 L490.5 403.2 M499.1 408.4 L496.1 400.9 M504.5 405.7 L501.5 398.3 M509.9 403.1 L506.9 395.6 M515.3 400.4 L512.3 392.9 M520.6 397.7 L517.7 390.2 M526.0 395.0 L523.0 387.5 M531.4 392.3 L528.4 384.9 M536.8 389.7 L533.9 382.3 M542.5 387.8 L539.6 380.4 M548.2 385.9 L545.3 378.5 M554.0 384.0 L551.0 376.6 M559.7 382.1 L556.7 374.7 M564.7 378.9 L561.7 371.3 M569.7 375.5 L566.7 368.0 M574.7 372.2 L571.7 364.7 M579.7 368.9 L576.7 361.3 M584.6 365.4 L581.3 357.5 M588.6 360.9 L585.5 353.2 M592.7 356.5 L589.7 348.9 M596.8 352.0 L593.9 344.6 M602.4 351.0 L599.6 343.5 M608.4 350.8 L605.6 343.2 M614.4 350.5 L611.6 342.8 M620.5 350.3 L617.6 342.5 M626.5 350.0 L623.6 342.2 M632.5 350.3 L629.6 342.1 M638.5 350.6 L635.6 342.5 M644.5 351.0 L641.6 342.8 M650.5 351.3 L647.6 343.1 M656.5 351.7 L653.6 343.5 M662.5 352.0 L659.6 343.8 M460.0 424.0 L500.0 408.0 L536.0 390.0 L560.0 382.0 L584.0 366.0 L597.5 351.2 L627.5 350.0 L662.5 352.0 M458.1 420.2 L497.7 410.3 L529.2 398.5 L556.8 388.7 L581.5 375.8 L611.8 361.7 L629.9 354.4 L659.8 345.0 L696.4 330.3 L723.2 313.3 M460.0 428.0 L458.1 420.2 M465.9 426.5 L463.9 418.8 M471.7 425.1 L469.8 417.3 M477.6 423.6 L475.6 415.9 M483.4 422.1 L481.5 414.4 M489.3 420.7 L487.3 412.9 M495.1 419.2 L493.2 411.5 M501.0 417.6 L499.0 409.8 M506.6 415.5 L504.7 407.7 M512.3 413.4 L510.3 405.6 M517.9 411.3 L516.0 403.5 M523.6 409.2 L521.6 401.4 M529.2 407.0 L527.3 399.2 M534.9 405.0 L532.9 397.2 M540.6 402.9 L538.6 395.1 M546.3 400.9 L544.3 393.1 M551.9 398.9 L550.0 391.1 M557.6 396.9 L555.7 389.1 M563.1 394.4 L561.1 386.4 M568.5 391.6 L566.4 383.6 M573.8 388.8 L571.8 380.9 M579.2 386.0 L577.2 378.1 M584.5 383.2 L582.5 375.3 M590.0 380.7 L588.0 372.8 M595.5 378.1 L593.5 370.2 M600.9 375.6 L598.9 367.7 M606.4 373.0 L604.4 365.1 M611.9 370.5 L609.9 362.6 M617.4 368.0 L615.4 360.2 M623.0 365.8 L621.0 358.0 M628.6 363.6 L626.6 355.7 M634.3 361.4 L632.3 353.7 M640.0 359.6 L638.1 351.9 M645.8 357.8 L643.8 350.0 M651.5 356.0 L649.6 348.2 M657.3 354.2 L655.3 346.4 M663.0 352.3 L661.1 344.5 M668.6 350.1 L666.7 342.2 M674.2 347.8 L672.3 340.0 M679.8 345.6 L677.9 337.8 M685.4 343.3 L683.5 335.5 M691.0 341.1 L689.1 333.3 M696.6 338.8 L694.7 331.0 M702.0 336.2 L699.9 328.1 M707.1 333.0 L705.0 324.9 M712.2 329.7 L710.1 321.6 M717.3 326.5 L715.2 318.4 M722.4 323.2 L720.3 315.1 M727.5 320.0 L723.2 313.3 M460.0 428.0 L500.0 418.0 L532.0 406.0 L560.0 396.0 L585.0 383.0 L615.0 369.0 L632.5 362.0 L662.5 352.5 L700.0 337.5 L727.5 320.0 M468.8 438.1 L498.5 433.2 L527.8 425.4 L557.2 413.6 L576.9 403.7 M470.0 445.0 L468.8 438.1 M476.0 444.0 L474.9 437.1 M482.1 443.0 L480.9 436.1 M488.1 442.0 L486.9 435.1 M494.1 441.0 L493.0 434.1 M500.1 440.0 L499.0 433.0 M506.0 438.4 L504.9 431.5 M512.0 436.8 L510.8 429.9 M517.9 435.2 L516.7 428.3 M523.8 433.7 L522.6 426.7 M529.7 432.1 L528.5 425.1 M535.4 429.9 L534.2 422.8 M541.0 427.6 L539.8 420.5 M546.7 425.3 L545.5 418.3 M552.4 423.0 L551.2 416.0 M558.1 420.8 L556.9 413.7 M563.6 418.2 L562.3 411.0 M569.1 415.5 L567.8 408.3 M574.5 412.7 L573.3 405.5 M580.0 410.0 L576.9 403.7 M479.1 445.1 L508.6 441.1 L537.8 433.3 L562.4 423.5 M480.0 452.0 L479.1 445.1 M485.8 451.2 L484.9 444.3 M491.7 450.4 L490.7 443.5 M497.5 449.7 L496.6 442.7 M503.3 448.9 L502.4 442.0 M509.2 448.1 L508.2 441.2 M514.9 446.7 L513.9 439.7 M520.5 445.2 L519.6 438.2 M526.2 443.7 L525.3 436.7 M531.9 442.2 L531.0 435.2 M537.6 440.6 L536.7 433.7 M543.2 438.7 L542.2 431.6 M548.6 436.6 L547.6 429.4 M554.1 434.4 L553.1 427.2 M559.5 432.2 L558.5 425.0 M565.0 430.0 L562.4 423.5 M597.6 349.4 L628.0 338.3 L657.8 331.4 L687.2 318.6 L716.9 305.7 L741.6 291.9 M600.0 356.0 L597.6 349.4 M605.7 353.9 L603.3 347.4 M611.3 351.8 L608.9 345.3 M617.0 349.8 L614.6 343.2 M622.6 347.7 L620.2 341.1 M628.3 345.6 L625.9 339.1 M634.1 344.0 L631.7 337.4 M640.0 342.7 L637.6 336.1 M645.9 341.3 L643.4 334.7 M651.7 339.9 L649.3 333.3 M657.6 338.6 L655.2 332.0 M663.3 336.6 L660.9 330.0 M668.8 334.2 L666.4 327.6 M674.4 331.8 L671.9 325.2 M679.9 329.4 L677.5 322.8 M685.4 327.0 L683.0 320.4 M691.0 324.6 L688.5 318.0 M696.5 322.2 L694.1 315.6 M702.0 319.8 L699.6 313.2 M707.6 317.4 L705.1 310.8 M713.1 315.0 L710.7 308.4 M718.6 312.6 L716.2 306.0 M724.0 309.8 L721.5 303.1 M729.2 306.8 L726.8 300.2 M734.5 303.9 L732.0 297.2 M739.7 300.9 L737.3 294.3 M745.0 298.0 L741.6 291.9 M617.8 333.4 L647.4 323.5 L676.8 309.8 L701.8 295.8 L726.7 283.8 L746.4 272.0 M620.0 340.0 L617.8 333.4 M625.7 338.1 L623.5 331.5 M631.4 336.2 L629.2 329.6 M637.1 334.3 L634.9 327.7 M642.8 332.4 L640.6 325.8 M648.5 330.5 L646.3 323.9 M654.1 328.1 L651.8 321.4 M659.5 325.6 L657.3 318.9 M665.0 323.0 L662.7 316.3 M670.4 320.5 L668.2 313.8 M675.9 317.9 L673.6 311.2 M681.3 315.3 L679.0 308.5 M686.5 312.3 L684.3 305.6 M691.8 309.4 L689.5 302.7 M697.0 306.5 L694.8 299.7 M702.3 303.5 L700.0 296.8 M707.6 300.7 L705.4 294.1 M713.0 298.1 L710.8 291.4 M718.5 295.5 L716.2 288.8 M723.9 292.9 L721.7 286.2 M729.3 290.3 L727.1 283.6 M734.5 287.3 L732.2 280.5 M739.7 284.2 L737.4 277.4 M744.8 281.1 L742.6 274.3 M750.0 278.0 L746.4 272.0 M637.3 284.6 L657.3 274.6 L677.1 264.7 L696.9 252.9 M640.0 290.0 L637.3 284.6 M645.5 287.2 L642.8 281.9 M651.1 284.5 L648.4 279.1 M656.6 281.7 L653.9 276.3 M662.1 278.9 L659.4 273.6 M667.7 276.2 L665.0 270.8 M673.2 273.4 L670.5 268.0 M678.7 270.6 L676.0 265.3 M684.1 267.5 L681.4 262.2 M689.4 264.4 L686.7 259.0 M694.7 261.2 L692.0 255.8 M700.0 258.0 L696.9 252.9 M687.3 294.6 L706.9 284.9 L726.4 271.2 L744.3 257.3 M690.0 300.0 L687.3 294.6 M695.2 297.4 L692.5 292.0 M700.4 294.8 L697.7 289.5 M705.6 292.2 L702.9 286.9 M710.7 289.5 L708.0 284.1 M715.4 286.2 L712.7 280.8 M720.2 282.9 L717.5 277.5 M724.9 279.5 L722.2 274.1 M729.7 276.2 L726.9 270.8 M734.3 272.7 L731.5 267.2 M738.8 269.1 L736.1 263.7 M743.4 265.6 L740.7 260.1 M748.0 262.0 L744.3 257.3 M696.9 274.9 L716.4 263.2 L735.8 245.8 L751.5 228.0 M700.0 280.0 L696.9 274.9 M705.3 276.8 L702.2 271.7 M710.6 273.6 L707.5 268.5 M715.9 270.4 L712.9 265.3 M721.1 267.0 L717.9 261.8 M725.7 262.9 L722.5 257.7 M730.3 258.7 L727.1 253.5 M734.9 254.6 L731.7 249.4 M739.5 250.5 L736.3 245.2 M743.7 245.9 L740.4 240.5 M747.8 241.3 L744.5 235.9 M751.9 236.6 L748.6 231.3 M756.0 232.0 L751.5 228.0 M708.0 253.5 L723.8 239.8 L737.5 224.0 L753.5 206.0 M712.0 258.0 L708.0 253.5 M716.6 254.0 L712.6 249.5 M721.1 250.0 L717.2 245.5 M725.7 246.0 L721.7 241.5 M729.9 241.8 L726.0 237.2 M733.9 237.2 L730.0 232.7 M737.9 232.7 L733.9 228.1 M741.9 228.1 L737.9 223.6 M745.9 223.6 L741.9 219.0 M750.0 219.1 L746.0 214.5 M754.0 214.5 L750.0 210.0 M758.0 210.0 L753.5 206.0 M739.4 266.1 L752.6 251.8 L764.8 235.6 M735.0 262.0 L739.4 266.1 M738.8 257.9 L743.2 262.0 M742.6 253.8 L747.0 257.9 M746.4 249.7 L750.8 253.8 M749.9 245.4 L754.4 249.5 M753.3 240.9 L757.7 245.0 M756.6 236.5 L761.1 240.6 M760.0 232.0 L764.4 236.1 M765.9 248.8 L770.0 269.7 L767.8 289.4 L762.5 302.3 M760.0 250.0 L765.9 248.8 M761.1 255.6 L767.0 254.4 M762.2 261.2 L768.1 260.1 M763.4 266.8 L769.2 265.7 M763.7 272.5 L769.8 271.3 M763.1 278.2 L769.2 277.0 M762.5 283.9 L768.6 282.7 M761.4 289.4 L768.0 288.4 M759.2 294.7 L766.1 293.7 M757.0 300.0 L763.9 299.0 M702.8 325.3 L718.3 317.0 L733.7 304.7 M700.0 320.0 L702.8 325.3 M705.3 317.2 L708.1 322.4 M710.6 314.3 L713.5 319.6 M715.9 311.3 L718.7 316.7 M720.6 307.5 L723.4 312.9 M725.3 303.8 L728.2 309.1 M730.0 300.0 L732.9 305.4 M643.5 242.0 L650.3 234.3 L657.1 224.6 M648.0 246.0 L643.5 242.0 M651.8 241.7 L647.2 237.8 M655.5 237.4 L650.9 233.4 M658.7 232.7 L654.2 228.7 M662.0 228.0 L657.1 224.6 M655.0 236.7 L663.1 224.5 L671.3 214.3 M660.0 240.0 L655.0 236.7 M663.0 235.5 L658.0 232.1 M666.0 230.9 L661.1 227.6 M669.2 226.5 L664.2 223.2 M672.6 222.3 L667.6 218.9 M676.0 218.0 L671.0 214.7 M671.0 222.7 L678.9 210.8 L684.9 200.9 M676.0 226.0 L671.0 222.7 M679.6 220.6 L674.6 217.2 M683.2 215.1 L678.2 211.8 M686.6 209.6 L681.6 206.3 M690.0 204.0 L684.9 200.9 M699.6 283.8 L709.6 271.8 M695.0 280.0 L699.6 283.8 M698.3 276.0 L702.9 279.8 M701.7 272.0 L706.3 275.8 M705.0 268.0 L709.6 271.8 M725.0 233.3 L733.1 221.1 L741.2 207.0 M720.0 230.0 L725.0 233.3 M723.4 224.9 L728.4 228.2 M726.8 219.8 L731.8 223.2 M729.9 214.6 L734.9 217.9 M733.0 209.3 L738.0 212.6 M736.0 204.0 L741.0 207.3 M745.4 224.7 L751.4 212.5 L757.5 198.4 M740.0 222.0 L745.4 224.7 M742.6 216.9 L747.9 219.6 M745.1 211.8 L750.5 214.4 M747.5 206.5 L752.9 209.2 M749.7 201.3 L755.1 204.0 M752.0 196.0 L757.4 198.7 M689.6 285.8 L699.8 273.7 L709.9 259.5 M685.0 282.0 L689.6 285.8 M689.2 277.0 L693.8 280.8 M693.4 271.9 L698.0 275.8 M697.4 266.7 L702.0 270.5 M701.2 261.3 L705.8 265.2 M705.0 256.0 L709.6 259.9 M642.1 242.2 L637.2 249.6 L631.1 260.5 L627.4 270.4 L622.3 279.4 L617.4 289.2 L613.7 297.8 L610.0 306.3 L607.6 314.8 M638.8 240.0 L642.1 242.2 M635.9 244.3 L639.2 246.5 M633.2 248.6 L636.5 250.8 M630.7 253.1 L634.0 255.3 M628.2 257.5 L631.5 259.8 M626.2 262.2 L629.6 264.5 M624.4 267.0 L627.8 269.3 M622.1 271.6 L625.4 273.8 M619.6 276.1 L622.9 278.3 M617.2 280.6 L620.6 282.8 M614.9 285.2 L618.3 287.4 M612.8 289.8 L616.1 292.1 M610.7 294.5 L614.1 296.8 M608.7 299.2 L612.1 301.5 M606.7 303.9 L610.1 306.2 M605.2 308.8 L608.7 311.1 M603.8 313.8 L607.6 314.8 M647.5 241.3 L645.0 248.9 L641.2 257.8 L637.3 266.8 L632.2 275.8 L627.3 283.1 L623.7 291.5 L619.9 301.6 L616.1 309.3 L612.3 316.8 M643.8 240.0 L647.5 241.3 M642.2 244.6 L646.0 245.9 M640.5 249.2 L644.3 250.5 M638.6 253.7 L642.4 255.0 M636.7 258.2 L640.5 259.5 M634.7 262.7 L638.6 263.9 M632.6 267.0 L636.4 268.3 M630.2 271.3 L634.0 272.6 M627.6 275.4 L631.5 276.8 M624.9 279.5 L628.8 280.8 M622.7 283.8 L626.4 285.1 M620.7 288.3 L624.5 289.6 M618.9 292.8 L622.7 294.1 M617.2 297.4 L621.0 298.7 M615.3 301.9 L619.1 303.2 M613.1 306.3 L616.9 307.5 M610.9 310.6 L614.8 311.9 M608.8 315.0 L612.6 316.3 M652.6 241.1 L650.1 249.8 L647.5 260.2 L643.5 266.9 L639.8 274.4 L634.7 283.2 L629.7 292.0 M648.8 240.0 L652.6 241.1 M647.4 244.8 L651.2 245.9 M646.0 249.7 L649.9 250.8 M644.8 254.5 L648.6 255.6 M643.4 259.3 L647.3 260.5 M640.8 263.6 L644.8 264.8 M638.5 268.1 L642.4 269.2 M636.2 272.6 L640.1 273.7 M633.7 276.9 L637.7 278.1 M631.2 281.3 L635.2 282.4 M628.7 285.6 L632.7 286.8 M626.2 290.0 L630.2 291.2 M657.7 240.4 L656.4 253.4 L652.3 263.0 L647.3 271.9 L643.6 279.3 M653.8 240.0 L657.7 240.4 M653.2 245.0 L657.2 245.4 M652.7 250.1 L656.7 250.5 M651.5 254.9 L655.6 255.4 M649.5 259.6 L653.6 260.0 M647.1 264.1 L651.4 264.6 M644.6 268.5 L648.9 269.0 M642.3 273.0 L646.5 273.5 M640.0 277.5 L644.2 278.0 M633.7 239.5 L629.6 249.8 L623.6 259.8 L618.7 271.5 L613.7 283.5 M630.0 238.0 L633.7 239.5 M628.2 242.5 L631.9 244.0 M626.4 247.0 L630.1 248.5 M624.1 251.2 L627.8 252.7 M621.6 255.4 L625.3 256.9 M619.3 259.6 L623.0 261.1 M617.5 264.1 L621.2 265.6 M615.6 268.6 L619.3 270.1 M613.7 273.1 L617.4 274.5 M611.9 277.5 L615.6 279.0 M610.0 282.0 L613.7 283.5 M669.5 239.9 L663.0 247.3 L657.1 253.5 M672.5 242.5 L669.5 239.9 M669.5 246.0 L666.4 243.4 M666.4 249.5 L663.4 246.9 M663.2 252.9 L660.2 250.3 M660.0 256.2 L657.1 253.5 M657.6 273.3 L652.3 284.5 L649.0 294.3 L641.8 303.9 M661.2 275.0 L657.6 273.3 M659.1 279.6 L655.5 277.9 M656.9 284.2 L653.3 282.4 M655.0 288.9 L651.4 287.1 M653.4 293.7 L649.8 292.0 M651.1 298.1 L647.4 296.4 M648.0 302.2 L644.4 300.4 M645.0 306.2 L641.8 303.9 M667.2 297.0 L680.1 290.6 L691.8 285.9 M665.0 292.5 L667.2 297.0 M669.9 290.0 L672.1 294.5 M674.8 287.6 L677.1 292.1 M679.8 285.3 L682.0 289.8 M684.9 283.3 L687.1 287.8 M690.0 281.2 L691.8 285.9 M667.9 300.0 L680.6 299.0 L690.7 297.4 M667.5 295.0 L667.9 300.0 M673.1 294.5 L673.5 299.5 M678.8 294.1 L679.2 299.1 M684.4 293.3 L684.8 298.3 M690.0 292.5 L690.4 297.5 M676.7 306.2 L690.5 305.0 M676.2 301.2 L676.7 306.2 M683.1 300.6 L683.6 305.6 M690.0 300.0 L690.5 305.0 M656.0 330.7 L672.0 322.6 L691.9 314.6 M653.8 326.2 L656.0 330.7 M658.8 323.7 L661.1 328.1 M663.9 321.1 L666.1 325.6 M668.9 318.5 L671.2 323.0 M674.2 316.3 L676.4 320.8 M679.5 314.2 L681.7 318.7 M684.7 312.1 L687.0 316.6 M690.0 310.0 L691.9 314.6 M662.2 336.5 L678.1 328.5 L696.9 320.6 M660.0 332.0 L662.2 336.5 M665.7 329.1 L668.0 333.6 M671.5 326.3 L673.7 330.7 M677.3 323.5 L679.5 328.0 M683.2 321.0 L685.4 325.5 M689.1 318.5 L691.3 323.0 M695.0 316.0 L696.9 320.6 M619.0 436.4 L638.8 439.4 L659.2 443.2 L680.8 444.5 M620.0 429.5 L619.0 436.4 M626.1 430.4 L625.1 437.3 M632.2 431.3 L631.2 438.3 M638.4 432.3 L637.3 439.2 M644.4 433.3 L643.4 440.3 M650.5 434.5 L649.5 441.4 M656.6 435.6 L655.6 442.5 M662.7 436.4 L661.7 443.3 M668.9 436.8 L667.9 443.7 M675.1 437.1 L674.0 444.1 M681.2 437.5 L680.2 444.5 M586.7 451.7 L603.6 456.9 L619.4 458.2 M588.8 445.0 L586.7 451.7 M594.9 446.9 L592.8 453.6 M601.0 448.8 L599.0 455.4 M607.2 450.2 L605.1 457.0 M613.6 450.7 L611.5 457.5 M620.0 451.2 L617.9 458.1 M605.0 393.1 L621.5 390.6 M606.0 400.0 L605.0 393.1 M611.5 399.2 L610.5 392.2 M617.0 398.3 L616.0 391.4 M622.5 397.5 L621.5 390.6 M564.4 413.7 L579.4 406.2 M567.5 420.0 L564.4 413.7 M572.5 417.5 L569.4 411.2 M577.5 415.0 L574.4 408.7 M582.5 412.5 L579.4 406.2 M572.6 425.6 L580.1 421.6 M575.0 430.0 L572.6 425.6 M578.8 428.0 L576.4 423.6 M582.5 426.0 L580.1 421.6 M536.7 447.0 L543.4 442.6 L550.7 440.3 M540.0 452.0 L536.7 447.0 M545.8 448.1 L542.5 443.2 M552.5 446.0 L549.1 440.8 M552.7 416.4 L556.9 429.1 L557.0 440.0 M548.0 418.0 L552.7 416.4 M549.4 422.3 L554.2 420.7 M550.9 426.6 L555.6 425.0 M552.0 430.9 L556.9 429.3 M552.0 435.5 L557.0 433.9 M552.0 440.0 L557.0 438.4 M547.9 418.8 L550.9 430.8 M543.0 420.0 L547.9 418.8 M544.5 426.0 L549.4 424.8 M546.0 432.0 L550.9 430.8 M701.7 335.0 L687.1 344.7 L678.3 348.0 L663.2 351.8 L642.8 359.4 L624.8 367.1 L611.7 375.0 L601.8 382.4 L591.5 387.6 L582.9 396.2 L577.5 404.2 M705.0 340.0 L701.7 335.0 M700.1 343.3 L696.7 338.3 M695.1 346.6 L691.8 341.6 M690.2 349.9 L686.8 344.8 M684.7 352.0 L681.3 346.9 M679.1 354.0 L675.6 348.7 M673.3 355.4 L669.9 350.1 M667.5 356.9 L664.1 351.6 M661.9 358.7 L658.5 353.5 M656.3 360.7 L653.0 355.6 M650.8 362.8 L647.4 357.7 M645.2 364.9 L641.9 359.8 M639.8 367.2 L636.4 362.2 M634.3 369.6 L630.9 364.5 M628.9 371.9 L625.5 366.8 M623.7 374.8 L620.4 369.8 M618.6 377.8 L615.3 372.9 M613.6 381.1 L610.3 376.1 M608.8 384.6 L605.5 379.6 M604.0 388.0 L600.7 383.0 M598.7 390.7 L595.4 385.7 M593.7 393.8 L590.4 388.8 M589.5 398.0 L586.1 392.9 M585.8 402.6 L582.1 397.3 M582.5 407.5 L578.8 402.2 M618.1 376.4 L606.0 386.0 L593.9 400.6 L589.2 407.8 M615.0 372.5 L618.1 376.4 M610.0 376.5 L613.1 380.4 M605.1 380.5 L608.2 384.3 M600.5 384.9 L603.7 388.8 M596.5 389.8 L599.6 393.7 M592.4 394.6 L595.6 398.6 M588.5 399.7 L591.8 403.8 M585.0 405.0 L589.2 407.8 M444.7 493.5 L456.7 486.6 L468.6 481.5 L480.3 476.5 L490.0 474.9 M441.8 488.2 L444.7 493.5 M446.7 485.4 L449.7 490.6 M451.7 482.6 L454.6 487.8 M456.8 480.1 L459.8 485.3 M462.0 477.8 L465.0 483.0 M467.3 475.6 L470.3 480.8 M472.5 473.3 L475.5 478.5 M477.8 471.1 L480.8 476.4 M483.4 469.9 L486.4 475.5 M489.0 469.0 L490.0 474.9 M442.7 483.1 L453.0 477.9 L464.8 472.9 L476.8 469.5 L487.4 465.9 M440.0 477.8 L442.7 483.1 M445.5 475.0 L448.1 480.4 M450.9 472.3 L453.6 477.7 M456.6 469.9 L459.2 475.3 M462.2 467.5 L464.9 472.9 M468.0 465.7 L470.7 471.2 M473.9 464.1 L476.6 469.5 M479.7 462.2 L482.4 467.6 M485.5 460.2 L487.4 465.9 M443.1 472.4 L451.6 467.3 L461.9 462.1 L472.4 456.9 L483.5 451.3 L492.7 443.9 M440.0 467.2 L443.1 472.4 M445.4 464.0 L448.5 469.2 M450.9 460.9 L454.0 466.1 M456.5 458.1 L459.6 463.3 M462.1 455.3 L465.2 460.5 M467.8 452.5 L470.9 457.7 M473.4 449.7 L476.5 454.8 M479.0 446.9 L482.1 452.0 M484.1 443.2 L487.2 448.4 M489.0 439.2 L492.1 444.4 M446.2 502.4 L459.9 495.5 L473.6 490.4 M443.5 497.0 L446.2 502.4 M449.0 494.3 L451.7 499.6 M454.4 491.5 L457.1 496.9 M460.0 489.0 L462.7 494.4 M465.8 486.9 L468.5 492.3 M471.5 484.8 L473.6 490.4 M494.6 465.9 L508.7 460.6 L521.1 455.3 L533.4 450.0 M492.5 460.2 L494.6 465.9 M498.1 458.2 L500.2 463.8 M503.6 456.1 L505.7 461.7 M509.1 453.9 L511.3 459.5 M514.6 451.5 L516.7 457.1 M520.1 449.2 L522.2 454.8 M525.5 446.8 L527.6 452.5 M531.0 444.5 L533.1 450.1 M495.9 471.3 L508.4 467.7 L522.6 462.4 L536.6 457.1 M494.2 465.5 L495.9 471.3 M500.1 463.8 L501.8 469.6 M506.0 462.2 L507.6 467.9 M511.7 460.1 L513.3 465.8 M517.4 457.9 L519.0 463.7 M523.1 455.8 L524.7 461.6 M528.8 453.6 L530.5 459.4 M534.5 451.5 L536.2 457.3 M498.6 476.7 L511.3 474.9 L524.3 471.2 L536.9 465.8 M497.8 470.8 L498.6 476.7 M504.1 469.8 L504.9 475.8 M510.4 468.9 L511.3 474.9 M516.6 467.1 L517.4 473.1 M522.7 465.3 L523.6 471.3 M528.6 462.8 L529.5 468.9 M534.5 460.2 L535.4 466.4 M502.7 481.8 L516.8 478.3 L529.1 474.8 M501.2 476.0 L502.7 481.8 M506.5 474.7 L508.0 480.5 M511.8 473.4 L513.2 479.2 M517.0 472.0 L518.5 477.8 M522.3 470.5 L523.7 476.3 M527.5 469.0 L529.0 474.8 M494.5 442.2 L508.5 438.7 L520.2 435.3 L532.1 430.2 M496.0 448.0 L494.5 442.2 M501.6 446.6 L500.2 440.8 M507.2 445.2 L505.8 439.4 M512.8 443.7 L511.4 437.9 M518.4 442.1 L516.9 436.3 M523.9 440.3 L522.4 434.4 M529.2 438.0 L527.7 432.1 M534.5 435.8 L532.1 430.2 M501.1 431.8 L511.6 428.3 L522.1 424.8 M503.0 437.5 L501.1 431.8 M508.2 435.8 L506.4 430.1 M513.5 434.0 L511.6 428.3 M518.8 432.2 L516.9 426.6 M524.0 430.5 L522.1 424.8 M512.7 472.6 L523.2 467.4 L533.1 462.4 L540.9 460.9 M510.0 467.2 L512.7 472.6 M515.8 464.4 L518.5 469.7 M521.6 461.5 L524.3 466.8 M527.4 458.6 L530.1 463.9 M533.4 456.3 L536.1 461.8 M539.8 455.0 L540.9 460.9 M528.5 456.0 L541.5 443.1 L550.5 440.4 M532.8 460.2 L528.5 456.0 M537.1 455.9 L532.9 451.7 M541.4 451.6 L537.2 447.4 M546.0 447.7 L541.6 443.1 M552.0 446.2 L547.5 441.3 M540.2 442.9 L543.4 433.2 L548.0 427.1 M534.5 441.0 L540.2 442.9 M536.6 434.7 L542.2 436.6 M539.3 428.8 L545.2 430.8 M543.2 423.5 L548.0 427.1 M552.4 425.1 L555.9 435.6 M546.8 427.0 L552.4 425.1 M548.5 432.2 L554.2 430.4 M550.2 437.5 L555.9 435.6 M461.0 498.8 L470.0 498.0 L480.2 498.8 M461.0 498.8 L461.0 498.8 M480.2 498.8 L480.2 498.8 M439.8 518.0 L471.3 519.0 M440.0 511.0 L439.8 518.0 M446.3 511.2 L446.1 518.2 M452.6 511.4 L452.4 518.4 M458.9 511.6 L458.7 518.6 M465.2 511.8 L465.0 518.8 M471.5 512.0 L471.3 519.0 M440.0 511.0 L471.5 512.0 M500.9 492.0 L521.1 493.0 M501.2 485.0 L500.9 492.0 M508.0 485.3 L507.6 492.3 M514.7 485.7 L514.3 492.7 M521.4 486.0 L521.1 493.0 M501.2 485.0 L521.4 486.0 M449.2 449.2 L455.9 442.5 L462.9 437.2 L472.2 433.6 M445.0 445.0 L449.2 449.2 M449.3 440.7 L453.6 444.9 M453.9 436.6 L458.2 440.8 M458.8 432.9 L463.1 437.2 M464.3 430.3 L468.8 434.9 M470.0 428.0 L472.2 433.6 M458.1 455.1 L468.0 449.2 L478.6 443.4 L488.2 439.6 M455.0 450.0 L458.1 455.1 M460.0 447.0 L463.1 452.1 M465.0 444.0 L468.1 449.2 M470.1 441.2 L473.2 446.4 M475.2 438.4 L478.3 443.6 M480.6 436.2 L483.7 441.4 M486.0 434.0 L488.2 439.6 M472.2 445.6 L482.5 441.5 L494.1 435.6 L503.2 433.9 M470.0 440.0 L472.2 445.6 M475.3 437.9 L477.5 443.4 M480.6 435.7 L482.9 441.3 M485.7 433.1 L488.0 438.7 M490.9 430.6 L493.1 436.1 M496.4 429.1 L498.6 434.8 M502.0 428.0 L503.2 433.9 M486.7 459.4 L495.2 455.1 L503.6 448.8 M484.0 454.0 L486.7 459.4 M489.6 451.2 L492.3 456.5 M494.9 447.8 L497.7 453.2 M500.0 444.0 L502.7 449.4 M435.1 473.1 L440.6 463.8 L449.0 456.5 M430.0 470.0 L435.1 473.1 M433.0 464.9 L438.2 468.0 M436.1 459.9 L441.4 463.1 M440.6 455.9 L445.9 459.2 M445.0 452.0 L449.0 456.5 M522.2 475.6 L532.7 471.4 L543.1 465.1 L551.2 460.1 M520.0 470.0 L522.2 475.6 M525.9 467.6 L528.1 473.2 M531.7 465.0 L534.0 470.6 M537.2 461.7 L539.4 467.3 M542.6 458.4 L544.9 464.0 M548.0 455.0 L550.3 460.7 M550.7 437.4 L558.4 433.5 L563.9 431.7 M548.0 432.0 L550.7 437.4 M552.6 429.7 L555.2 435.1 M557.2 427.6 L559.9 433.0 M562.0 426.0 L563.9 431.7 M385.3 527.5 L391.8 535.0 L407.1 541.0 L416.1 536.0 M390.0 523.8 L385.3 527.5 M394.3 529.2 L389.8 532.8 M400.4 532.2 L395.4 536.5 M406.9 534.7 L401.9 539.0 M412.5 531.2 L408.3 540.3 M388.5 512.5 L393.5 525.0 M402.5 517.5 L388.5 512.5 M407.5 530.0 L393.5 525.0 M368.5 527.5 L372.2 533.8 L376.0 542.5 M382.5 532.5 L368.5 527.5 M386.7 539.8 L372.7 534.8 M390.0 547.5 L376.0 542.5 M368.5 541.2 L376.0 550.0 L383.5 562.5 L387.2 575.0 M382.5 546.2 L368.5 541.2 M388.9 553.7 L374.9 548.7 M394.1 561.9 L380.1 556.9 M398.4 570.6 L384.4 565.6 M401.2 580.0 L387.2 575.0 M373.5 550.0 L381.0 562.5 M387.5 555.0 L373.5 550.0 M391.2 561.2 L377.2 556.2 M395.0 567.5 L381.0 562.5 M356.0 543.8 L361.0 552.5 L353.5 560.0 M370.0 548.8 L356.0 543.8 M374.8 557.7 L360.8 552.7 M367.5 565.0 L353.5 560.0 M337.2 548.8 L338.5 567.5 M351.2 553.8 L337.2 548.8 M351.9 563.1 L337.9 558.1 M352.5 572.5 L338.5 567.5 M348.5 552.5 L347.2 565.0 L341.0 575.0 M362.5 557.5 L348.5 552.5 M361.7 565.6 L347.7 560.6 M359.3 573.1 L345.3 568.1 M355.0 580.0 L341.0 575.0 M351.0 555.0 L356.0 565.0 M365.0 560.0 L351.0 555.0 M370.0 570.0 L356.0 565.0 M328.5 565.0 L336.0 575.0 M342.5 570.0 L328.5 565.0 M350.0 580.0 L336.0 575.0 M387.2 535.0 L388.5 540.0 M401.2 540.0 L387.2 535.0 M402.5 545.0 L388.5 540.0 M416.5 550.0 L427.8 538.8 M402.5 545.0 L416.5 550.0 M408.1 539.4 L422.1 544.4 M413.8 533.8 L427.8 538.8 M372.0 495.0 L366.0 510.0 L360.0 527.0 L354.0 543.0 M358.0 490.0 L372.0 495.0 M354.2 499.5 L368.2 504.5 M350.6 509.1 L364.6 514.1 M347.1 518.8 L361.1 523.8 M343.6 528.4 L357.6 533.4 M340.0 538.0 L354.0 543.0 M358.0 490.0 L352.0 505.0 L346.0 522.0 L340.0 538.0 M394.0 487.0 L388.0 501.0 L382.0 515.0 M380.0 482.0 L394.0 487.0 M376.0 491.3 L390.0 496.3 M372.0 500.7 L386.0 505.7 M368.0 510.0 L382.0 515.0 M380.0 482.0 L374.0 496.0 L368.0 510.0 M409.0 483.0 L406.0 495.0 L402.0 505.0 M395.0 478.0 L409.0 483.0 M392.2 489.2 L406.2 494.2 M388.0 500.0 L402.0 505.0 M395.0 478.0 L392.0 490.0 L388.0 500.0 M392.0 471.0 L407.0 472.5 L419.0 475.5 L422.0 483.0 L419.0 492.0 L411.5 498.0 L407.0 507.0 L404.0 514.5 L398.0 520.5 L395.0 528.0 L390.5 534.0 L387.5 540.0 M406.0 476.0 L392.0 471.0 M414.6 476.9 L400.6 471.9 M423.1 478.0 L409.1 473.0 M431.5 480.1 L417.5 475.1 M435.6 487.1 L421.6 482.1 M433.6 495.2 L419.6 490.2 M427.7 501.2 L413.7 496.2 M422.9 508.2 L408.9 503.2 M419.4 516.0 L405.4 511.0 M414.5 523.0 L400.5 518.0 M410.1 530.2 L396.1 525.2 M405.7 537.5 L391.7 532.5 M401.5 545.0 L387.5 540.0 M393.5 474.0 L395.0 483.0 L395.0 492.0 L392.0 496.5 L386.0 499.5 L380.0 502.5 L378.5 510.0 L377.0 517.5 L372.5 525.0 L369.5 531.0 L366.5 540.0 L365.0 549.0 M407.5 479.0 L393.5 474.0 M408.9 487.5 L394.9 482.5 M409.0 496.1 L395.0 491.1 M403.9 502.6 L389.9 497.6 M396.2 506.4 L382.2 501.4 M392.8 513.6 L378.8 508.6 M391.1 522.0 L377.1 517.0 M386.8 529.5 L372.8 524.5 M383.1 537.3 L369.1 532.3 M380.4 545.5 L366.4 540.5 M379.0 554.0 L365.0 549.0 M381.5 495.0 L378.5 504.0 M395.5 500.0 L381.5 495.0 M392.5 509.0 L378.5 504.0 M393.0 520.0 L387.0 527.5 L379.5 533.5 L369.0 536.5 M379.0 515.0 L393.0 520.0 M372.7 522.8 L386.7 527.8 M364.7 528.7 L378.7 533.7 M355.0 531.5 L369.0 536.5 M389.0 513.0 L392.0 522.0 L395.0 528.0 M403.0 518.0 L389.0 513.0 M405.6 525.7 L391.6 520.7 M409.0 533.0 L395.0 528.0 M396.5 496.5 L399.5 504.0 L401.0 513.0 M410.5 501.5 L396.5 496.5 M413.6 509.5 L399.6 504.5 M415.0 518.0 L401.0 513.0 M408.5 475.5 L410.0 484.5 M422.5 480.5 L408.5 475.5 M424.0 489.5 L410.0 484.5 M413.0 477.0 L412.0 489.0 M427.0 482.0 L413.0 477.0 M426.0 494.0 L412.0 489.0 M441.7 481.7 L449.2 474.2 L456.2 467.2 L463.1 463.1 M437.5 477.5 L441.7 481.7 M441.7 473.3 L446.0 477.5 M446.0 469.0 L450.2 473.3 M450.2 464.8 L454.4 469.0 M454.9 461.1 L459.2 465.4 M460.0 458.0 L463.1 463.1 M442.8 494.1 L451.2 487.0 L462.7 481.4 M439.0 489.5 L442.8 494.1 M443.8 485.5 L447.7 490.1 M448.8 481.6 L452.7 486.3 M454.4 478.8 L458.3 483.5 M460.0 476.0 L462.7 481.4 M446.5 502.2 L456.9 496.3 L462.7 493.4 M443.5 497.0 L446.5 502.2 M448.9 493.9 L451.9 499.1 M454.4 490.8 L457.4 496.0 M460.0 488.0 L462.7 493.4 M447.6 465.4 L453.6 459.8 L461.2 455.1 M443.5 461.0 L447.6 465.4 M448.0 456.9 L452.0 461.3 M452.8 453.2 L457.0 457.7 M458.0 450.0 L461.2 455.1 M432.4 447.2 L440.3 441.3 L447.1 435.4 M436.0 452.0 L432.4 447.2 M441.1 448.2 L437.5 443.4 M446.1 444.2 L442.5 439.4 M451.0 440.0 L447.1 435.4 M371.0 528.0 L369.5 540.0 L368.0 555.0 M385.0 533.0 L371.0 528.0 M383.9 542.0 L369.9 537.0 M382.9 551.0 L368.9 546.0 M382.0 560.0 L368.0 555.0 M375.5 529.5 L377.0 540.0 L383.0 555.0 M389.5 534.5 L375.5 529.5 M390.8 543.3 L376.8 538.3 M393.7 551.7 L379.7 546.7 M397.0 560.0 L383.0 555.0 M432.1 357.5 L429.3 371.3 L426.4 381.4 L422.4 390.8 L419.5 402.1 L415.1 408.2 L409.9 418.8 L405.4 427.5 L401.3 431.6 L400.7 434.2 M426.2 356.3 L432.1 357.5 M425.0 362.1 L430.9 363.3 M423.9 368.0 L429.8 369.2 M422.4 373.8 L428.3 374.9 M420.8 379.5 L426.7 380.7 M418.4 385.0 L424.4 386.2 M416.3 390.5 L422.2 391.7 M414.9 396.3 L420.7 397.5 M412.6 401.7 L418.8 403.1 M409.2 406.6 L415.3 407.9 M406.6 411.9 L412.6 413.2 M403.9 417.3 L410.0 418.5 M401.2 422.6 L407.3 423.8 M397.5 427.1 L404.1 428.8 M395.0 432.4 L400.9 433.5 M457.9 346.6 L449.4 356.4 L441.5 363.0 L437.0 369.9 L433.1 380.4 L428.9 388.9 L424.8 396.8 L421.0 405.9 L418.3 415.2 L415.8 422.8 L414.5 433.2 M453.4 342.7 L457.9 346.6 M449.5 347.3 L454.0 351.2 M445.5 351.8 L450.0 355.7 M440.9 355.8 L445.5 359.7 M436.5 359.8 L441.1 363.8 M433.2 364.9 L437.7 368.8 M430.5 370.2 L435.3 374.3 M428.4 375.9 L433.3 380.0 M425.9 381.4 L430.6 385.4 M423.2 386.8 L427.9 390.8 M420.5 392.2 L425.2 396.2 M418.0 397.6 L422.8 401.7 M415.6 403.2 L420.6 407.3 M413.9 409.0 L418.9 413.1 M412.2 414.7 L417.1 418.9 M410.2 420.5 L415.5 424.7 M409.3 426.4 L414.8 430.6 M408.5 432.4 L414.5 433.2 M464.3 357.4 L458.8 369.9 L452.6 380.4 L444.4 388.7 L436.2 399.6 L429.5 406.3 L424.3 414.2 L418.7 421.2 M458.8 355.0 L464.3 357.4 M456.4 360.4 L461.9 362.9 M454.0 365.9 L459.5 368.3 M451.1 371.1 L456.6 373.6 M448.1 376.3 L453.6 378.7 M444.0 380.6 L449.8 383.2 M439.8 384.8 L445.6 387.4 M436.2 389.5 L441.8 392.0 M432.7 394.3 L438.3 396.8 M428.6 398.7 L434.4 401.3 M424.5 403.0 L430.2 405.5 M421.2 407.9 L426.8 410.4 M417.7 412.8 L423.4 415.3 M414.0 417.4 L419.7 419.9 M183.8 571.3 L172.7 576.1 L163.2 580.8 L158.5 592.0 L153.7 601.5 L150.6 607.8 L144.2 612.5 L137.9 617.3 L131.5 625.2 L125.2 631.6 L118.9 639.5 L112.5 650.6 L106.2 661.7 L99.8 672.8 M169.8 566.3 L183.8 571.3 M161.5 569.9 L175.5 574.9 M153.3 573.8 L167.3 578.8 M147.5 580.0 L161.5 585.0 M143.9 588.3 L157.9 593.3 M139.8 596.4 L153.8 601.4 M135.1 603.9 L149.1 608.9 M127.8 609.3 L141.8 614.3 M121.3 615.5 L135.3 620.5 M115.3 622.4 L129.3 627.4 M109.2 629.1 L123.2 634.1 M103.8 636.3 L117.8 641.3 M99.3 644.2 L113.3 649.2 M94.8 652.1 L108.8 657.1 M90.3 659.9 L104.3 664.9 M85.8 667.8 L99.8 672.8 M161.7 580.8 L177.5 577.7 M147.7 575.8 L161.7 580.8 M155.6 574.2 L169.6 579.2 M163.5 572.7 L177.5 577.7 M152.1 612.5 L144.2 622.0 L136.3 630.0 L130.0 636.3 L125.2 642.7 L122.0 652.2 L118.9 661.7 L114.1 668.0 M138.1 607.5 L152.1 612.5 M132.6 614.1 L146.6 619.1 M126.9 620.4 L140.9 625.4 M120.8 626.5 L134.8 631.5 M115.0 632.7 L129.0 637.7 M110.5 639.9 L124.5 644.9 M107.8 648.0 L121.8 653.0 M105.1 656.1 L119.1 661.1 M100.1 663.0 L114.1 668.0 M171.2 609.4 L163.2 618.9 L156.9 628.4 L150.6 637.9 M157.2 604.4 L171.2 609.4 M151.5 611.1 L165.5 616.1 M146.3 618.2 L160.3 623.2 M141.5 625.6 L155.5 630.6 M136.6 632.9 L150.6 637.9 M126.8 653.7 L131.5 641.0 M112.8 648.7 L126.8 653.7 M115.2 642.4 L129.2 647.4 M117.5 636.0 L131.5 641.0 M122.6 664.3 L111.5 673.9 M136.6 669.3 L122.6 664.3 M131.1 674.1 L117.0 669.1 M125.5 678.9 L111.5 673.9 M89.3 632.7 L86.1 643.7 L85.3 658.0 M103.3 637.7 L89.3 632.7 M100.9 646.0 L86.9 641.0 M99.8 654.4 L85.8 649.4 M99.3 663.0 L85.3 658.0 M280.0 520.6 L259.0 532.0 L246.5 541.0 L234.0 548.0 L221.5 555.5 L209.0 560.5 L199.0 566.0 L189.0 571.0 L179.0 574.0 L164.0 580.6 M266.0 515.6 L280.0 520.6 M258.3 519.8 L272.3 524.8 M250.6 523.9 L264.6 528.9 M243.1 528.4 L257.1 533.4 M236.0 533.5 L250.0 538.5 M228.7 538.1 L242.7 543.1 M221.0 542.4 L235.0 547.4 M213.5 546.9 L227.5 551.9 M205.9 551.1 L219.9 556.1 M197.8 554.4 L211.8 559.4 M190.0 558.3 L204.0 563.3 M182.3 562.4 L196.3 567.4 M174.4 566.2 L188.4 571.2 M166.0 568.7 L180.0 573.7 M158.0 572.1 L172.0 577.1 M150.0 575.6 L164.0 580.6 M266.0 515.6 L245.0 527.0 L232.5 536.0 L220.0 543.0 L207.5 550.5 L195.0 555.5 L185.0 561.0 L175.0 566.0 L165.0 569.0 L150.0 575.6 M209.0 559.0 L199.0 570.0 L189.0 580.0 M195.0 554.0 L209.0 559.0 M188.5 561.2 L202.5 566.2 M181.8 568.2 L195.8 573.2 M175.0 575.0 L189.0 580.0 M160.2 581.2 L171.5 575.0 L184.0 571.2 M146.2 576.2 L160.2 581.2 M153.8 572.1 L167.8 577.1 M161.7 568.7 L175.7 573.7 M170.0 566.2 L184.0 571.2 M131.0 585.0 L121.0 595.0 L116.0 602.5 M145.0 590.0 L131.0 585.0 M139.5 595.5 L125.5 590.5 M134.3 601.1 L120.3 596.1 M130.0 607.5 L116.0 602.5 M136.5 617.5 L126.5 630.0 L119.0 640.0 M122.5 612.5 L136.5 617.5 M116.6 619.9 L130.6 624.9 M110.7 627.4 L124.7 632.4 M105.0 635.0 L119.0 640.0 M170.2 608.8 L159.0 620.0 L151.5 630.0 M156.2 603.8 L170.2 608.8 M149.6 610.4 L163.6 615.4 M143.2 617.4 L157.2 622.4 M137.5 625.0 L151.5 630.0 M256.5 576.2 L249.0 595.0 M242.5 571.2 L256.5 576.2 M238.8 580.6 L252.8 585.6 M235.0 590.0 L249.0 595.0 M320.0 538.0 L310.0 557.5 L306.5 575.0 L301.5 587.5 L293.0 594.0 M306.0 533.0 L320.0 538.0 M301.8 541.1 L315.8 546.1 M297.7 549.3 L311.7 554.3 M294.9 557.9 L308.9 562.9 M293.1 566.8 L307.1 571.8 M290.3 575.5 L304.3 580.5 M286.3 583.5 L300.3 588.5 M279.0 589.0 L293.0 594.0 M306.0 533.0 L296.0 552.5 L292.5 570.0 L287.5 582.5 L279.0 589.0 M333.0 543.0 L326.5 557.5 L316.5 577.5 L302.8 600.0 L299.0 612.5 L296.5 632.5 L281.5 657.5 M319.0 538.0 L333.0 543.0 M315.3 546.3 L329.3 551.3 M311.5 554.5 L325.5 559.5 M307.4 562.6 L321.4 567.6 M303.4 570.7 L317.4 575.7 M298.8 578.6 L312.8 583.6 M294.1 586.3 L308.1 591.3 M289.3 594.0 L303.3 599.0 M286.5 602.6 L300.5 607.6 M284.5 611.4 L298.5 616.4 M283.4 620.4 L297.4 625.4 M281.5 629.2 L295.5 634.2 M276.8 636.9 L290.8 641.9 M272.2 644.7 L286.2 649.7 M267.5 652.5 L281.5 657.5 M319.0 538.0 L312.5 552.5 L302.5 572.5 L288.8 595.0 L285.0 607.5 L282.5 627.5 L267.5 652.5 M356.5 525.0 L349.0 541.0 L340.0 554.0 L338.0 570.0 L338.0 586.0 M342.5 520.0 L356.5 525.0 M338.5 528.5 L352.5 533.5 M334.4 536.9 L348.4 541.9 M329.1 544.6 L343.1 549.6 M325.5 553.0 L339.5 558.0 M324.3 562.3 L338.3 567.3 M324.0 571.6 L338.0 576.6 M324.0 581.0 L338.0 586.0 M342.5 520.0 L335.0 536.0 L326.0 549.0 L324.0 565.0 L324.0 581.0 M363.0 528.0 L364.0 536.0 L359.0 554.0 L354.0 570.0 L346.5 579.0 M349.0 523.0 L363.0 528.0 M349.7 532.1 L363.7 537.1 M347.2 541.0 L361.2 546.0 M344.7 549.8 L358.7 554.8 M342.0 558.6 L356.0 563.6 M338.4 566.9 L352.4 571.9 M332.5 574.0 L346.5 579.0 M349.0 523.0 L350.0 531.0 L345.0 549.0 L340.0 565.0 L332.5 574.0 M266.0 541.0 L258.5 560.0 L253.5 575.0 L246.0 595.0 L243.5 610.0 L233.5 622.5 L226.0 635.0 M280.0 546.0 L266.0 541.0 M276.5 554.7 L262.5 549.7 M273.1 563.5 L259.1 558.5 M270.0 572.4 L256.0 567.4 M267.0 581.3 L253.0 576.3 M263.7 590.1 L249.7 585.1 M260.4 598.9 L246.4 593.9 M258.7 608.1 L244.7 603.1 M256.0 616.9 L242.0 611.9 M250.1 624.2 L236.1 619.2 M244.8 631.9 L230.8 626.9 M240.0 640.0 L226.0 635.0 M280.0 546.0 L272.5 565.0 L267.5 580.0 L260.0 600.0 L257.5 615.0 L247.5 627.5 L240.0 640.0 M284.0 575.0 L279.0 592.5 L274.0 610.0 L270.2 622.5 L261.5 632.5 L244.0 650.0 L225.0 662.0 M270.0 570.0 L284.0 575.0 M267.5 578.8 L281.5 583.8 M265.0 587.6 L279.0 592.6 M262.4 596.4 L276.4 601.4 M259.9 605.2 L273.9 610.2 M257.3 614.0 L271.3 619.0 M252.6 621.7 L266.6 626.7 M246.5 628.5 L260.5 633.5 M240.0 635.0 L254.0 640.0 M233.5 641.5 L247.5 646.5 M226.5 647.2 L240.5 652.2 M218.7 652.1 L232.7 657.1 M211.0 657.0 L225.0 662.0 M270.0 570.0 L265.0 587.5 L260.0 605.0 L256.2 617.5 L247.5 627.5 L230.0 645.0 L211.0 657.0 M221.0 587.5 L216.0 592.5 L208.5 602.5 L203.5 612.5 L198.5 630.0 L191.0 641.2 M235.0 592.5 L221.0 587.5 M228.9 599.0 L214.9 594.0 M223.5 606.1 L209.5 601.1 M219.3 613.9 L205.3 608.9 M216.1 622.3 L202.1 617.3 M213.7 630.8 L199.7 625.8 M210.0 638.8 L196.0 633.8 M205.0 646.2 L191.0 641.2 M235.0 592.5 L230.0 597.5 L222.5 607.5 L217.5 617.5 L212.5 635.0 L205.0 646.2 M238.5 612.5 L233.5 595.0 L229.8 580.0 M252.5 617.5 L238.5 612.5 M250.2 609.4 L236.2 604.4 M247.9 601.3 L233.9 596.3 M245.8 593.2 L231.8 588.2 M243.8 585.0 L229.8 580.0 M252.5 617.5 L247.5 600.0 L243.8 585.0 M219.8 611.2 L219.8 600.0 L221.0 587.5 M233.8 616.2 L219.8 611.2 M233.8 608.3 L219.8 603.3 M234.2 600.4 L220.2 595.4 M235.0 592.5 L221.0 587.5 M233.8 616.2 L233.8 605.0 L235.0 592.5 M314.0 602.5 L307.8 620.0 L311.5 630.0 L314.0 640.0 L315.2 652.5 L319.0 665.0 L324.0 675.0 M300.0 597.5 L314.0 602.5 M296.8 606.5 L310.8 611.5 M293.9 615.5 L307.9 620.5 M297.3 624.4 L311.3 629.4 M299.7 633.7 L313.7 638.7 M300.8 643.1 L314.8 648.1 M302.7 652.4 L316.7 657.4 M305.7 661.5 L319.7 666.5 M310.0 670.0 L324.0 675.0 M300.0 597.5 L293.8 615.0 L297.5 625.0 L300.0 635.0 L301.2 647.5 L305.0 660.0 L310.0 670.0 M252.2 698.2 L262.0 696.2 L273.0 688.3 L291.3 688.1 L305.8 693.8 L326.2 706.6 M253.8 705.0 L252.2 698.2 M259.5 703.7 L258.0 697.0 M265.1 702.4 L263.4 695.2 M269.8 698.9 L268.2 691.8 M274.5 695.4 L272.9 688.3 M280.2 695.0 L278.8 688.2 M286.1 695.0 L284.6 688.2 M291.8 695.7 L290.5 688.1 M297.2 697.9 L296.0 690.0 M302.7 700.1 L301.4 692.1 M307.6 703.2 L306.8 694.4 M312.6 706.3 L311.7 697.5 M317.5 709.4 L316.7 700.6 M322.5 712.5 L321.7 703.7 M253.8 705.0 L265.0 702.5 L275.0 695.0 L290.0 695.0 L302.5 700.0 L322.5 712.5 M197.2 652.5 L198.5 665.0 L203.5 675.0 M211.2 657.5 L197.2 652.5 M212.0 665.4 L198.0 660.4 M214.0 672.9 L200.0 667.9 M217.5 680.0 L203.5 675.0 M211.2 657.5 L212.5 670.0 L217.5 680.0 M207.0 652.0 L198.0 661.1 L189.9 671.9 L183.1 686.0 L166.3 697.8 L148.5 713.1 L138.3 723.3 M211.2 656.2 L207.0 652.0 M207.1 660.4 L202.8 656.2 M202.9 664.6 L198.7 660.4 M199.3 669.3 L195.0 665.0 M195.8 674.0 L191.5 669.7 M192.9 679.1 L188.5 674.8 M190.3 684.4 L185.9 680.1 M187.6 689.7 L183.3 685.4 M183.0 693.2 L178.8 689.0 M178.2 696.7 L173.9 692.4 M173.4 700.1 L169.1 695.8 M168.7 703.7 L164.4 699.4 M164.2 707.5 L159.9 703.2 M159.7 711.3 L155.5 707.1 M155.2 715.2 L151.0 710.9 M150.8 719.2 L146.6 714.9 M146.7 723.3 L142.5 719.1 M142.5 727.5 L138.3 723.2 M211.2 656.2 L202.5 665.0 L195.0 675.0 L187.5 690.0 L170.0 702.5 L152.5 717.5 L142.5 727.5 M262.2 672.5 L259.8 682.5 L266.0 660.0 L271.0 650.0 M276.2 677.5 L262.2 672.5 M274.1 686.2 L260.1 681.2 M275.8 680.2 L261.8 675.2 M278.2 671.5 L264.2 666.5 M281.0 663.0 L267.0 658.0 M285.0 655.0 L271.0 650.0 M276.2 677.5 L273.8 687.5 L280.0 665.0 L285.0 655.0 M316.1 666.5 L329.9 675.1 L343.2 693.4 M312.5 672.5 L316.1 666.5 M317.7 675.6 L321.2 669.7 M322.8 678.7 L326.3 672.8 M327.0 682.8 L331.0 676.5 M330.5 687.7 L334.5 681.4 M334.0 692.6 L338.0 686.2 M337.5 697.5 L341.5 691.1 M312.5 672.5 L325.0 680.0 L337.5 697.5 M372.0 495.0 L366.0 510.0 L360.0 527.0 L354.0 543.0 M358.0 490.0 L372.0 495.0 M354.8 497.9 L368.8 502.9 M351.7 505.9 L365.7 510.9 M348.8 513.9 L362.8 518.9 M346.0 522.0 L360.0 527.0 M343.0 530.0 L357.0 535.0 M340.0 538.0 L354.0 543.0 M358.0 490.0 L352.0 505.0 L346.0 522.0 L340.0 538.0 M382.0 491.0 L376.0 507.0 L370.0 525.0 M368.0 486.0 L382.0 491.0 M364.8 494.4 L378.8 499.4 M361.7 502.9 L375.7 507.9 M358.9 511.4 L372.9 516.4 M356.0 520.0 L370.0 525.0 M368.0 486.0 L362.0 502.0 L356.0 520.0 M344.0 510.0 L340.0 520.0 L336.0 530.0 M330.0 505.0 L344.0 510.0 M326.0 515.0 L340.0 520.0 M322.0 525.0 L336.0 530.0 M330.0 505.0 L326.0 515.0 L322.0 525.0 M302.0 525.0 L296.0 540.0 L290.0 553.0 M288.0 520.0 L302.0 525.0 M284.2 529.4 L298.2 534.4 M280.3 538.8 L294.3 543.8 M276.0 548.0 L290.0 553.0 M288.0 520.0 L282.0 535.0 L276.0 548.0 M314.0 517.0 L308.0 530.0 M300.0 512.0 L314.0 517.0 M297.0 518.5 L311.0 523.5 M294.0 525.0 L308.0 530.0 M300.0 512.0 L294.0 525.0 M248.0 547.0 L242.0 561.0 L236.0 575.0 M262.0 552.0 L248.0 547.0 M258.0 561.3 L244.0 556.3 M254.0 570.7 L240.0 565.7 M250.0 580.0 L236.0 575.0 M236.0 552.0 L231.0 565.0 L226.0 577.0 M250.0 557.0 L236.0 552.0 M246.8 565.4 L232.8 560.4 M243.5 573.7 L229.5 568.7 M240.0 582.0 L226.0 577.0 M214.0 575.0 L208.0 589.0 L203.0 601.0 M228.0 580.0 L214.0 575.0 M224.3 588.6 L210.3 583.6 M220.6 597.3 L206.6 592.3 M217.0 606.0 L203.0 601.0 M231.0 635.0 L224.0 647.0 L218.0 659.0 M245.0 640.0 L231.0 635.0 M240.4 647.9 L226.4 642.9 M236.1 655.9 L222.1 650.9 M232.0 664.0 L218.0 659.0 M222.0 665.0 L228.0 677.0 L234.0 689.0 M236.0 670.0 L222.0 665.0 M240.0 678.0 L226.0 673.0 M244.0 686.0 L230.0 681.0 M248.0 694.0 L234.0 689.0 M244.0 663.0 L248.0 675.0 L252.0 685.0 M258.0 668.0 L244.0 663.0 M260.5 675.4 L246.5 670.4 M263.1 682.8 L249.1 677.8 M266.0 690.0 L252.0 685.0 M173.5 685.0 L178.0 700.0 L181.0 715.0 L184.0 730.0 M187.5 690.0 L173.5 685.0 M190.2 698.9 L176.2 693.9 M192.6 707.8 L178.6 702.8 M194.4 716.9 L180.4 711.9 M196.2 725.9 L182.2 720.9 M198.0 735.0 L184.0 730.0 M148.5 730.0 L158.0 717.0 L171.0 707.5 M162.5 735.0 L148.5 730.0 M167.2 728.5 L153.2 723.5 M172.0 722.0 L158.0 717.0 M178.5 717.2 L164.5 712.2 M185.0 712.5 L171.0 707.5 M95.0 735.5 L97.1 724.3 L99.6 715.1 L101.7 709.1 M98.0 736.0 L95.0 735.5 M99.0 730.7 L96.0 730.2 M99.9 725.4 L97.0 724.9 M101.3 720.3 L98.4 719.7 M102.8 715.1 L99.8 714.5 M104.5 710.0 L101.5 709.5 M103.0 736.0 L104.0 729.0 L107.0 729.0 L108.0 736.0 M103.0 736.0 L103.0 736.0 M108.0 736.0 L108.0 736.0 M329.5 565.0 L335.5 574.0 L343.0 581.5 L349.0 590.5 L352.0 596.5 M343.5 570.0 L329.5 565.0 M348.9 578.1 L334.9 573.1 M355.6 585.1 L341.6 580.1 M361.3 593.0 L347.3 588.0 M366.0 601.5 L352.0 596.5 M339.3 609.9 L348.3 614.4 L356.3 618.2 L361.6 625.0 L370.8 634.2 L379.6 643.0 L385.1 649.9 L389.4 657.1 M342.0 604.5 L339.3 609.9 M347.5 607.2 L344.8 612.6 M353.0 610.0 L350.3 615.3 M358.4 612.7 L355.8 618.0 M362.7 616.9 L359.7 622.6 M366.6 621.6 L363.8 627.2 M371.0 626.0 L368.1 631.6 M375.3 630.3 L372.4 635.9 M379.6 634.6 L376.8 640.2 M384.0 639.0 L380.9 644.7 M387.8 643.8 L384.7 649.5 M391.3 648.7 L387.9 654.7 M394.5 654.0 L389.4 657.1 M352.0 565.0 L355.0 574.0 L355.0 583.0 L361.0 586.0 L370.0 590.5 L379.0 598.0 L389.5 608.5 M366.0 570.0 L352.0 565.0 M368.8 578.4 L354.8 573.4 M369.0 587.2 L355.0 582.2 M376.2 591.6 L362.2 586.6 M384.1 595.5 L370.1 590.5 M390.8 601.2 L376.8 596.2 M397.3 607.3 L383.3 602.3 M403.5 613.5 L389.5 608.5 M343.0 565.0 L346.0 572.5 L350.5 580.0 L353.5 587.5 M357.0 570.0 L343.0 565.0 M360.1 577.7 L346.1 572.7 M364.4 584.8 L350.4 579.8 M367.5 592.5 L353.5 587.5 M361.0 565.0 L358.0 574.0 L356.5 578.5 M375.0 570.0 L361.0 565.0 M372.8 576.8 L358.8 571.8 M370.5 583.5 L356.5 578.5 M370.0 568.0 L374.5 577.0 L373.0 584.5 M384.0 573.0 L370.0 568.0 M388.0 580.9 L374.0 575.9 M387.0 589.5 L373.0 584.5 M382.0 565.0 L386.5 574.0 L389.5 584.5 L391.0 599.5 M396.0 570.0 L382.0 565.0 M400.0 578.1 L386.0 573.1 M402.7 586.7 L388.7 581.7 M404.1 595.5 L390.1 590.5 M405.0 604.5 L391.0 599.5 M383.0 611.0 L392.0 600.5 M369.0 606.0 L383.0 611.0 M373.5 600.8 L387.5 605.8 M378.0 595.5 L392.0 600.5 M290.5 644.5 L298.0 631.0 L305.5 622.0 L316.0 613.0 L326.5 605.5 M304.5 649.5 L290.5 644.5 M308.9 641.6 L294.9 636.6 M313.6 634.1 L299.6 629.1 M319.4 627.2 L305.4 622.2 M326.2 621.3 L312.2 616.3 M333.2 615.7 L319.2 610.7 M340.5 610.5 L326.5 605.5 M307.0 649.0 L313.0 637.0 L319.0 628.0 L325.0 622.0 L334.0 614.5 L340.0 608.5 M321.0 654.0 L307.0 649.0 M324.9 646.1 L310.9 641.1 M329.3 638.5 L315.3 633.5 M334.6 631.4 L320.6 626.4 M341.0 625.4 L327.0 620.4 M347.7 619.7 L333.7 614.7 M354.0 613.5 L340.0 608.5 M320.5 631.0 L328.0 622.0 L335.5 613.0 M334.5 636.0 L320.5 631.0 M339.5 630.0 L325.5 625.0 M344.5 624.0 L330.5 619.0 M349.5 618.0 L335.5 613.0 M308.5 640.0 L316.0 632.5 L325.0 629.5 L334.0 622.0 L343.0 617.5 M322.5 645.0 L308.5 640.0 M328.4 639.1 L314.4 634.1 M335.8 635.6 L321.8 630.6 M342.9 631.3 L328.9 626.3 M349.5 626.2 L335.5 621.2 M357.0 622.5 L343.0 617.5 M322.0 655.0 L331.0 646.0 L340.0 635.5 L344.5 622.0 M336.0 660.0 L322.0 655.0 M341.8 654.2 L327.8 649.2 M347.3 648.3 L333.3 643.3 M352.6 642.1 L338.6 637.1 M355.9 634.7 L341.9 629.7 M358.5 627.0 L344.5 622.0 M328.0 661.0 L337.0 655.0 L346.0 649.0 L355.0 643.0 L364.0 638.5 L368.5 637.0 M342.0 666.0 L328.0 661.0 M349.9 660.8 L335.9 655.8 M357.7 655.5 L343.7 650.5 M365.6 650.3 L351.6 645.3 M373.8 645.6 L359.8 640.6 M382.5 642.0 L368.5 637.0 M335.5 649.0 L346.0 640.0 L355.0 631.0 L361.0 625.0 M349.5 654.0 L335.5 649.0 M356.2 648.3 L342.2 643.3 M362.6 642.4 L348.6 637.4 M368.8 636.2 L354.8 631.2 M375.0 630.0 L361.0 625.0 M343.0 643.0 L352.0 635.5 L361.0 631.0 M357.0 648.0 L343.0 643.0 M365.4 641.0 L351.4 636.0 M375.0 636.0 L361.0 631.0 M344.5 647.5 L355.0 638.5 L364.0 634.0 M358.5 652.5 L344.5 647.5 M364.5 647.3 L350.5 642.3 M370.9 642.6 L356.9 637.6 M378.0 639.0 L364.0 634.0 M332.5 664.0 L343.0 661.0 L352.0 658.0 L362.5 653.5 L367.0 652.0 M346.5 669.0 L332.5 664.0 M355.3 666.5 L341.3 661.5 M364.0 663.7 L350.0 658.7 M372.5 660.2 L358.5 655.2 M381.0 657.0 L367.0 652.0 M320.5 670.0 L331.0 668.5 L343.0 667.0 L352.0 664.0 L361.0 658.0 M334.5 675.0 L320.5 670.0 M343.0 673.8 L329.0 668.8 M351.5 672.7 L337.5 667.7 M359.9 671.0 L345.9 666.0 M367.8 667.8 L353.8 662.8 M375.0 663.0 L361.0 658.0 M322.0 679.0 L331.0 676.0 L343.0 673.0 L352.0 670.0 L358.0 664.0 M336.0 684.0 L322.0 679.0 M345.5 680.9 L331.5 675.9 M355.1 678.5 L341.1 673.5 M364.6 675.5 L350.6 670.5 M372.0 669.0 L358.0 664.0 M340.0 683.5 L349.0 680.5 L358.0 676.0 L364.0 670.0 M354.0 688.5 L340.0 683.5 M362.9 685.5 L348.9 680.5 M371.2 681.4 L357.2 676.4 M378.0 675.0 L364.0 670.0 M305.5 635.5 L310.0 646.0 L305.5 667.0 M319.5 640.5 L305.5 635.5 M322.7 648.1 L308.7 643.1 M322.9 655.9 L308.9 650.9 M321.2 664.0 L307.2 659.0 M319.5 672.0 L305.5 667.0 M286.0 625.0 L295.0 622.0 L301.0 620.5 M300.0 630.0 L286.0 625.0 M307.4 627.5 L293.4 622.5 M315.0 625.5 L301.0 620.5 M320.0 599.0 L336.5 596.0 M306.0 594.0 L320.0 599.0 M314.2 592.5 L328.2 597.5 M322.5 591.0 L336.5 596.0 M340.7 689.6 L350.5 694.5 L360.2 698.4 M338.0 695.0 L340.7 689.6 M342.9 697.5 L345.6 692.1 M347.8 699.9 L350.5 694.5 M352.9 702.0 L355.6 696.6 M358.0 704.0 L360.2 698.4 M323.7 695.3 L333.1 702.9 L342.2 706.4 M320.0 700.0 L323.7 695.3 M324.6 703.7 L328.3 699.0 M329.2 707.4 L332.9 702.7 M334.5 709.8 L338.4 704.9 M340.0 712.0 L342.2 706.4 M314.0 695.0 L326.0 689.0 L339.0 685.0 M300.0 690.0 L314.0 695.0 M308.1 686.0 L322.1 691.0 M316.4 682.6 L330.4 687.6 M325.0 680.0 L339.0 685.0 M286.9 717.1 L297.5 723.5 L310.1 727.7 M290.0 712.0 L286.9 717.1 M295.2 715.1 L292.1 720.3 M300.5 718.2 L297.4 723.4 M306.2 720.1 L303.1 725.3 M312.0 722.0 L308.9 727.3 M261.7 720.7 L270.3 718.0 L281.0 719.9 M260.0 715.0 L261.7 720.7 M265.4 713.4 L267.1 719.0 M270.9 712.1 L272.6 718.4 M276.4 713.1 L278.1 719.4 M282.0 714.0 L281.0 719.9 M331.0 695.0 L321.0 705.0 L311.0 711.0 M345.0 700.0 L331.0 695.0 M338.9 706.1 L324.9 701.1 M332.4 711.6 L318.4 706.6 M325.0 716.0 L311.0 711.0 M334.0 708.0 L342.0 698.0 L350.0 688.0 L358.0 680.0 L368.0 672.0 M326.0 700.0 L334.0 708.0 M331.2 693.5 L339.2 701.5 M336.4 687.1 L344.4 695.1 M341.5 680.6 L349.5 688.6 M347.3 674.7 L355.3 682.7 M353.5 669.2 L361.5 677.2 M360.0 664.0 L368.0 672.0 M326.0 700.0 L334.0 690.0 L342.0 680.0 L350.0 672.0 L360.0 664.0 M348.0 720.0 L358.0 710.0 L368.0 702.0 L378.0 694.0 L388.0 686.0 M340.0 712.0 L348.0 720.0 M345.3 706.7 L353.3 714.7 M350.7 701.5 L358.7 709.5 M356.5 696.8 L364.5 704.8 M362.4 692.1 L370.4 700.1 M368.3 687.4 L376.3 695.4 M374.1 682.7 L382.1 690.7 M380.0 678.0 L388.0 686.0 M340.0 712.0 L350.0 702.0 L360.0 694.0 L370.0 686.0 L380.0 678.0 M326.0 696.0 L334.0 686.0 L342.0 676.0 L350.0 668.0 M318.0 688.0 L326.0 696.0 M322.6 682.2 L330.6 690.2 M327.2 676.5 L335.2 684.5 M331.8 670.7 L339.8 678.7 M336.8 665.2 L344.8 673.2 M342.0 660.0 L350.0 668.0 M318.0 688.0 L326.0 678.0 L334.0 668.0 L342.0 660.0 M362.0 727.0 L372.0 719.0 L382.0 709.0 L392.0 699.0 M355.0 720.0 L362.0 727.0 M361.4 714.9 L368.4 721.9 M367.6 709.4 L374.6 716.4 M373.4 703.6 L380.4 710.6 M379.2 697.8 L386.2 704.8 M385.0 692.0 L392.0 699.0 M355.0 720.0 L365.0 712.0 L375.0 702.0 L385.0 692.0 M308.0 676.0 L316.0 668.0 L324.0 658.0 M300.0 668.0 L308.0 676.0 M305.7 662.3 L313.7 670.3 M311.0 656.3 L319.0 664.3 M316.0 650.0 L324.0 658.0 M300.0 668.0 L308.0 660.0 L316.0 650.0 M268.0 716.0 L278.0 712.0 L288.0 708.0 M262.0 708.0 L268.0 716.0 M268.7 705.3 L274.7 713.3 M275.3 702.7 L281.3 710.7 M282.0 700.0 L288.0 708.0 M262.0 708.0 L272.0 704.0 L282.0 700.0 M236.0 698.0 L246.0 692.0 L256.0 688.0 M230.0 690.0 L236.0 698.0 M236.4 686.2 L242.4 694.2 M243.1 682.8 L249.1 690.8 M250.0 680.0 L256.0 688.0 M230.0 690.0 L240.0 684.0 L250.0 680.0 M270.0 686.0 L276.0 678.0 L282.0 670.0 M262.0 680.0 L270.0 686.0 M268.0 672.0 L276.0 678.0 M274.0 664.0 L282.0 670.0 M262.0 680.0 L268.0 672.0 L274.0 664.0 M358.0 643.0 L366.0 636.0 L374.0 628.0 M350.0 635.0 L358.0 643.0 M355.5 630.2 L363.5 638.2 M360.8 625.2 L368.8 633.2 M366.0 620.0 L374.0 628.0 M350.0 635.0 L358.0 628.0 L366.0 620.0 M379.0 647.0 L387.0 639.0 L395.0 631.0 M372.0 640.0 L379.0 647.0 M377.3 634.7 L384.3 641.7 M382.7 629.3 L389.7 636.3 M388.0 624.0 L395.0 631.0 M372.0 640.0 L380.0 632.0 L388.0 624.0 M373.0 608.0 L380.0 600.0 L388.0 593.0 M365.0 600.0 L373.0 608.0 M369.7 594.7 L377.7 602.7 M374.7 589.7 L382.7 597.7 M380.0 585.0 L388.0 593.0 M365.0 600.0 L372.0 592.0 L380.0 585.0 M393.0 567.0 L400.0 559.0 L406.0 552.0 M385.0 560.0 L393.0 567.0 M391.5 552.5 L399.5 559.5 M398.0 545.0 L406.0 552.0 M385.0 560.0 L392.0 552.0 L398.0 545.0 M764.2 50.1 L762.5 55.4 L762.0 60.7 M757.5 48.0 L764.2 50.1 M755.6 53.9 L762.4 56.0 M755.0 60.0 L762.0 60.7 M757.5 48.0 L755.6 54.0 L755.0 60.0 M761.9 63.6 L763.2 71.0 L762.0 78.2 L762.0 83.7 L762.6 90.0 L762.0 96.7 M755.0 65.0 L761.9 63.6 M756.2 71.1 L763.0 69.7 M755.0 77.3 L762.4 75.9 M755.0 83.5 L762.0 82.1 M755.6 89.8 L762.4 88.4 M755.0 96.0 L762.2 94.6 M755.0 65.0 L756.2 71.0 L755.0 77.5 L755.0 84.0 L755.6 90.0 L755.0 96.0 M761.9 97.3 L760.6 104.0 L758.6 111.9 L756.0 119.7 M755.0 96.0 L761.9 97.3 M753.9 101.5 L760.8 102.8 M752.7 106.9 L759.6 108.2 M751.2 112.2 L758.1 113.6 M749.4 117.5 L756.3 118.8 M755.0 96.0 L753.8 102.5 L751.9 110.0 L749.4 117.5 M755.4 121.0 L750.9 128.8 L746.9 134.2 M749.4 117.5 L755.4 121.0 M745.6 123.9 L751.7 127.5 M741.2 130.0 L747.3 133.6 M749.4 117.5 L745.0 125.0 L741.2 130.0 M747.5 133.1 L743.8 140.6 L739.9 148.4 L735.9 155.0 L731.0 162.3 L727.5 169.4 L723.9 176.7 L720.2 185.3 L716.4 194.0 L712.7 202.8 L708.8 211.9 L703.6 221.0 L698.6 229.6 L696.5 233.8 L689.5 244.0 L685.8 248.9 L682.2 255.0 L677.1 262.6 L672.3 269.8 L668.8 276.9 M741.2 130.0 L747.5 133.1 M738.5 135.4 L744.8 138.6 M735.8 140.9 L742.1 144.0 M733.0 146.3 L739.3 149.4 M729.8 151.5 L736.1 154.6 M726.5 156.6 L732.8 159.7 M723.5 161.8 L729.7 165.0 M720.7 167.3 L727.0 170.4 M718.0 172.7 L724.3 175.9 M715.6 178.3 L721.8 181.4 M713.2 183.9 L719.4 187.0 M710.8 189.5 L717.0 192.6 M708.4 195.1 L714.6 198.2 M706.0 200.7 L712.2 203.8 M703.6 206.3 L709.8 209.4 M700.8 211.7 L707.1 214.8 M697.8 217.0 L704.1 220.1 M694.8 222.3 L701.1 225.4 M691.8 227.6 L698.1 230.7 M688.7 232.8 L695.0 235.9 M685.3 237.8 L691.6 241.0 M681.7 242.7 L688.0 245.9 M678.3 247.8 L684.6 250.9 M675.1 253.0 L681.4 256.1 M671.7 258.0 L678.0 261.2 M668.4 263.1 L674.7 266.3 M665.2 268.3 L671.5 271.4 M662.5 273.8 L668.8 276.9 M741.2 130.0 L737.5 137.5 L733.8 145.0 L730.0 151.2 L725.0 158.8 L721.2 166.2 L717.5 173.8 L713.8 182.5 L710.0 191.2 L706.2 200.0 L702.5 208.8 L697.5 217.5 L692.5 226.2 L690.6 230.0 L683.8 240.0 L680.0 245.0 L676.2 251.2 L671.2 258.8 L666.2 266.2 L662.5 273.8 M755.8 90.0 L755.7 96.4 L754.9 103.7 L753.1 111.6 M748.8 90.0 L755.8 90.0 M748.7 96.7 L755.7 96.7 M747.8 103.4 L754.9 103.4 M746.2 110.0 L753.4 110.0 M748.8 90.0 L748.8 96.0 L748.0 102.5 L746.2 110.0 M747.2 106.6 L745.5 111.8 L744.4 117.6 M740.6 104.4 L747.2 106.6 M738.7 110.2 L745.4 112.4 M737.5 116.2 L744.4 117.6 M740.6 104.4 L738.8 110.0 L737.5 116.2 M744.2 118.2 L741.7 127.1 L739.1 134.9 L736.5 141.3 M737.5 116.2 L744.2 118.2 M735.9 122.0 L742.6 123.9 M734.1 127.6 L740.9 129.6 M732.2 133.2 L739.0 135.2 M730.0 138.8 L736.8 140.7 M737.5 116.2 L735.0 125.0 L732.5 132.5 L730.0 138.8 M740.0 133.1 L735.9 141.3 L730.9 147.5 L727.6 154.2 L724.1 162.3 L722.4 169.1 L720.6 177.7 M733.8 130.0 L740.0 133.1 M730.9 135.7 L737.1 138.8 M727.3 140.9 L733.6 144.1 M723.8 146.2 L730.0 149.3 M721.0 151.9 L727.2 155.0 M718.5 157.8 L724.7 160.9 M716.5 163.8 L722.9 167.0 M715.1 170.0 L721.5 173.2 M713.8 176.2 L720.6 177.7 M733.8 130.0 L730.0 137.5 L725.0 143.8 L721.2 151.2 L717.5 160.0 L715.6 167.5 L713.8 176.2 M720.2 179.0 L716.3 188.0 L711.3 198.1 M713.8 176.2 L720.2 179.0 M711.0 182.6 L717.5 185.3 M708.1 188.8 L714.5 191.6 M705.0 195.0 L711.4 197.8 M713.8 176.2 L710.0 185.0 L705.0 195.0 M711.3 198.1 L706.3 208.1 L701.3 218.1 L696.2 228.3 L691.1 237.4 L686.2 246.3 L683.3 252.1 M705.0 195.0 L711.3 198.1 M702.3 200.4 L708.5 203.6 M699.6 205.9 L705.8 209.0 M696.8 211.3 L703.1 214.5 M694.1 216.8 L700.4 219.9 M691.4 222.2 L697.7 225.3 M688.6 227.6 L694.8 230.7 M685.6 232.9 L691.9 236.0 M682.7 238.2 L688.9 241.4 M679.7 243.6 L686.0 246.7 M677.0 249.0 L683.3 252.1 M705.0 195.0 L700.0 205.0 L695.0 215.0 L690.0 225.0 L685.0 234.0 L680.0 243.0 L677.0 249.0 M664.1 276.0 L659.6 283.9 L654.2 290.6 L649.3 296.8 L644.9 302.4 L637.8 308.2 L631.4 312.1 L627.4 314.9 L623.0 320.6 L618.0 326.9 M658.0 272.5 L664.1 276.0 M654.9 277.9 L661.0 281.4 M651.4 283.0 L657.5 286.5 M647.5 287.8 L653.6 291.3 M643.6 292.7 L649.8 296.2 M639.8 297.6 L646.0 301.1 M635.0 301.5 L641.4 305.3 M629.8 304.9 L636.4 309.0 M624.6 308.4 L631.1 312.3 M620.3 312.8 L626.4 316.3 M616.4 317.6 L622.5 321.1 M612.5 322.5 L618.7 326.0 M658.0 272.5 L653.8 280.0 L648.8 286.2 L643.8 292.5 L640.0 297.5 L633.8 302.5 L627.5 306.2 L622.5 310.0 L617.5 316.2 L612.5 322.5 M617.4 327.4 L611.7 333.1 L605.6 336.3 L600.0 339.1 L593.9 340.6 L586.2 341.9 M612.5 322.5 L617.4 327.4 M608.1 326.9 L613.0 331.8 M602.7 329.9 L607.8 335.1 M597.2 332.6 L602.3 337.9 M591.1 334.0 L596.5 339.9 M585.0 335.0 L590.4 341.2 M612.5 322.5 L607.5 327.5 L602.5 330.0 L597.5 332.5 L592.5 333.8 L585.0 335.0 M672.8 260.2 L667.6 266.3 L663.8 271.9 M667.5 255.6 L672.8 260.2 M664.1 259.6 L669.4 264.1 M660.9 263.7 L666.2 268.2 M658.0 268.0 L663.8 271.9 M667.5 255.6 L662.0 262.0 L658.0 268.0 M659.4 273.9 L652.9 278.2 L647.1 282.8 L644.4 285.3 L642.4 289.6 L638.5 296.1 L634.8 302.4 L630.7 309.0 L625.5 315.6 L620.2 322.2 L614.9 327.4 M655.6 268.0 L659.4 273.9 M650.6 271.3 L654.4 277.1 M645.8 274.9 L649.6 280.7 M641.2 278.8 L645.1 284.7 M637.6 283.5 L642.2 289.9 M634.7 288.8 L639.1 295.0 M631.7 293.9 L636.0 300.2 M628.6 299.1 L633.0 305.3 M625.5 304.2 L629.7 310.3 M621.8 309.0 L625.9 315.0 M618.1 313.6 L622.2 319.7 M614.2 318.3 L618.2 324.2 M610.0 322.5 L614.9 327.4 M655.6 268.0 L648.8 272.5 L642.5 277.5 L638.8 281.2 L636.2 286.2 L632.5 292.5 L628.8 298.8 L625.0 305.0 L620.0 311.2 L615.0 317.5 L610.0 322.5 M631.8 302.3 L625.5 310.3 M626.2 298.0 L631.8 302.3 M623.1 302.0 L628.6 306.3 M620.0 306.0 L625.5 310.3 M626.2 298.0 L620.0 306.0 M702.9 253.9 L698.4 259.5 L694.1 264.5 M697.5 249.5 L702.9 253.9 M693.2 254.8 L698.6 259.2 M688.8 260.0 L694.2 264.4 M697.5 249.5 L693.0 255.0 L688.8 260.0 M678.0 283.1 L673.2 289.1 L668.2 296.6 L662.7 303.4 L657.4 308.7 L652.4 313.7 L647.1 319.0 L642.1 322.8 L637.7 327.2 L632.7 333.4 L626.2 339.9 L621.0 345.2 L610.8 353.7 L599.2 356.8 M672.5 278.8 L678.0 283.1 M668.8 283.3 L674.3 287.7 M665.4 288.1 L670.9 292.5 M662.2 292.9 L667.6 297.3 M658.5 297.5 L664.0 301.9 M654.5 301.7 L660.0 306.1 M650.4 305.9 L655.9 310.3 M646.2 310.0 L651.7 314.4 M642.0 314.1 L647.6 318.5 M637.4 317.6 L643.0 322.1 M633.2 321.8 L638.7 326.1 M629.5 326.2 L635.0 330.6 M625.6 330.6 L631.1 335.0 M621.5 334.8 L627.0 339.2 M617.4 338.9 L622.9 343.3 M613.0 342.8 L618.5 347.2 M608.6 346.6 L614.0 351.0 M603.2 348.6 L609.2 354.1 M597.5 350.0 L603.6 355.6 M672.5 278.8 L667.5 285.0 L662.5 292.5 L657.5 298.8 L652.5 303.8 L647.5 308.8 L642.5 313.8 L637.5 317.5 L632.5 322.5 L627.5 328.8 L621.2 335.0 L616.2 340.0 L607.5 347.5 L597.5 350.0 M640.8 310.9 L632.6 329.1 M634.4 308.0 L640.8 310.9 M631.7 314.1 L638.1 316.9 M629.0 320.2 L635.4 323.0 M626.2 326.2 L632.6 329.1 M634.4 308.0 L626.2 326.2 M639.7 332.5 L632.7 343.4 L624.0 349.7 M633.8 328.8 L639.7 332.5 M630.0 334.7 L635.9 338.4 M625.7 340.0 L631.9 344.0 M620.0 344.0 L626.3 348.1 M633.8 328.8 L627.5 338.8 L620.0 344.0 M670.3 306.8 L666.9 315.4 L659.4 321.7 L652.7 327.2 L648.5 333.5 L645.0 340.6 M663.8 304.4 L670.3 306.8 M661.7 310.1 L668.1 312.4 M657.5 314.3 L664.7 317.2 M652.8 318.1 L660.0 321.1 M648.1 322.0 L655.4 325.0 M644.6 326.9 L651.3 329.4 M641.5 332.1 L648.1 334.5 M638.8 337.5 L645.4 339.9 M663.8 304.4 L661.2 311.2 L655.0 316.2 L647.5 322.5 L642.5 330.0 L638.8 337.5 M589.6 345.7 L600.6 346.4 M590.0 338.8 L589.6 345.7 M595.5 339.1 L595.1 346.1 M601.0 339.4 L600.6 346.4 M590.0 338.8 L601.0 339.4 M737.8 326.9 L747.6 319.7 L755.0 308.1 L759.1 297.2 L763.0 284.5 M733.8 321.2 L737.8 326.9 M738.5 317.9 L742.5 323.5 M742.9 314.3 L747.2 320.1 M746.0 309.4 L750.4 315.4 M749.0 304.4 L753.5 310.5 M751.0 299.0 L756.1 305.3 M752.9 293.6 L758.1 299.9 M754.6 288.0 L760.0 294.5 M756.2 282.5 L761.6 288.9 M733.8 321.2 L742.5 315.0 L748.8 305.0 L752.5 295.0 L756.2 282.5 M731.1 326.0 L718.7 333.4 L708.9 339.8 L698.3 347.2 L682.3 354.1 L664.4 359.2 M727.5 320.0 L731.1 326.0 M722.3 323.1 L725.9 329.1 M717.0 326.3 L720.6 332.3 M711.9 329.5 L715.5 335.5 M706.7 332.9 L710.4 338.9 M701.7 336.3 L705.3 342.3 M696.7 339.8 L700.3 345.8 M691.3 342.6 L694.9 348.6 M685.7 345.0 L689.3 351.1 M680.1 347.5 L683.7 353.5 M674.2 349.1 L677.9 355.4 M668.4 350.8 L672.1 357.0 M662.5 352.5 L666.2 358.7 M727.5 320.0 L715.0 327.5 L705.0 334.0 L695.0 341.0 L680.0 347.5 L662.5 352.5 M664.7 359.1 L657.2 361.6 L643.5 366.1 L636.2 373.7 M662.5 352.5 L664.7 359.1 M656.8 354.4 L659.0 361.0 M651.1 356.3 L653.3 362.9 M645.4 358.2 L647.6 364.8 M639.8 360.2 L642.3 367.3 M635.5 364.5 L638.1 371.7 M631.2 368.8 L636.2 373.7 M662.5 352.5 L655.0 355.0 L640.0 360.0 L631.2 368.8 M594.1 352.5 L590.2 362.8 L586.3 370.6 M587.5 350.0 L594.1 352.5 M585.3 356.0 L591.8 358.4 M582.8 361.8 L589.4 364.3 M580.0 367.5 L586.6 370.0 M587.5 350.0 L583.8 360.0 L580.0 367.5 M601.6 364.5 L594.7 372.7 L586.4 378.3 M596.2 360.0 L601.6 364.5 M592.2 364.8 L597.6 369.3 M587.7 369.0 L593.2 373.7 M582.5 372.5 L588.0 377.2 M596.2 360.0 L590.0 367.5 L582.5 372.5 M575.6 371.3 L566.2 375.9 L555.9 383.6 L542.6 389.0 M572.5 365.0 L575.6 371.3 M567.0 367.8 L570.1 374.0 M561.5 370.7 L564.7 377.0 M556.6 374.4 L559.8 380.7 M551.5 377.9 L554.6 384.1 M545.7 380.2 L548.9 386.5 M540.0 382.5 L543.1 388.8 M572.5 365.0 L562.5 370.0 L552.5 377.5 L540.0 382.5 M543.6 426.0 L556.1 418.5 M540.0 420.0 L543.6 426.0 M546.2 416.2 L549.9 422.3 M552.5 412.5 L556.1 418.5 M540.0 420.0 L552.5 412.5 M462.2 430.6 L474.2 426.6 L486.8 422.4 L503.1 414.3 L515.1 408.3 L527.1 402.3 L538.5 396.5 L552.2 392.6 L562.8 388.4 L571.7 383.9 L580.2 377.6 L588.6 371.3 L597.2 362.7 L600.3 357.6 L610.3 357.0 L627.5 357.0 L644.6 357.0 L661.7 359.0 M460.0 424.0 L462.2 430.6 M465.7 422.1 L467.9 428.7 M471.4 420.2 L473.6 426.8 M477.1 418.3 L479.4 424.9 M482.9 416.4 L485.1 423.0 M488.3 413.8 L490.6 420.5 M493.7 411.1 L495.9 417.8 M499.1 408.5 L501.3 415.2 M504.5 405.8 L506.7 412.5 M509.9 403.1 L512.1 409.8 M515.3 400.4 L517.5 407.1 M520.6 397.7 L522.9 404.4 M526.0 395.0 L528.3 401.7 M531.4 392.3 L533.7 399.0 M536.9 389.8 L539.1 396.4 M542.7 388.1 L544.9 394.7 M548.5 386.4 L550.7 393.1 M554.1 384.4 L556.3 391.0 M559.7 382.1 L561.9 388.8 M565.1 379.5 L567.3 386.1 M570.2 376.3 L572.6 383.3 M575.0 372.7 L577.4 379.7 M579.9 369.1 L582.3 376.0 M584.6 365.4 L587.1 372.4 M588.9 361.1 L591.5 368.4 M593.0 356.8 L595.8 364.1 M596.8 352.1 L599.3 359.3 M602.4 350.8 L604.4 357.4 M608.4 350.2 L610.4 357.0 M614.4 350.0 L616.5 357.0 M620.4 350.0 L622.5 357.0 M626.5 350.0 L628.5 357.0 M632.5 350.0 L634.5 357.0 M638.5 350.0 L640.6 357.0 M644.5 350.0 L646.6 357.2 M650.5 350.6 L652.6 357.9 M656.5 351.3 L658.5 358.6 M662.5 352.0 L661.7 359.0 M460.0 424.0 L472.0 420.0 L484.0 416.0 L500.0 408.0 L512.0 402.0 L524.0 396.0 L536.0 390.0 L550.0 386.0 L560.0 382.0 L568.0 378.0 L576.0 372.0 L584.0 366.0 L592.0 358.0 L597.5 351.2 L610.0 350.0 L627.5 350.0 L645.0 350.0 L662.5 352.0 M513.7 412.8 L522.8 410.4 L534.0 403.7 L544.7 395.2 L552.6 387.3 L560.2 381.6 L567.7 376.0 L577.1 371.3 M512.0 406.0 L513.7 412.8 M517.6 404.6 L519.3 411.3 M522.9 402.3 L524.7 409.3 M527.8 399.3 L529.6 406.3 M532.5 396.0 L534.5 403.3 M537.0 392.4 L539.1 399.7 M541.4 388.6 L543.6 396.1 M545.5 384.5 L547.8 392.1 M549.8 380.6 L551.9 388.0 M554.4 377.2 L556.4 384.4 M559.1 373.7 L561.0 381.0 M563.7 370.2 L565.6 377.5 M568.8 367.6 L570.6 374.5 M574.0 365.0 L575.8 371.9 M512.0 406.0 L520.0 404.0 L530.0 398.0 L540.0 390.0 L548.0 382.0 L556.0 376.0 L564.0 370.0 L574.0 365.0 M470.2 412.6 L487.7 406.8 L501.6 404.8 L514.6 400.5 L523.1 396.3 M468.0 406.0 L470.2 412.6 M473.8 404.1 L476.0 410.7 M479.5 402.2 L481.7 408.8 M485.3 400.2 L487.5 406.9 M491.3 399.2 L493.5 406.0 M497.3 398.4 L499.5 405.1 M503.2 396.9 L505.4 403.6 M509.0 395.0 L511.2 401.6 M514.6 392.7 L516.8 399.4 M520.0 390.0 L522.2 396.7 M468.0 406.0 L486.0 400.0 L500.0 398.0 L512.0 394.0 L520.0 390.0 M511.4 364.5 L517.3 357.1 L519.6 348.4 L522.1 343.4 L527.1 334.8 L539.7 325.2 L547.3 316.6 L553.6 309.2 L557.0 303.6 L562.8 293.8 L568.7 285.7 L572.6 274.8 M506.0 360.0 L511.4 364.5 M509.8 355.4 L515.1 359.8 M512.0 349.9 L517.9 354.6 M513.9 344.3 L519.5 348.8 M516.6 338.9 L522.1 343.4 M519.7 333.8 L525.1 338.2 M523.3 329.0 L528.7 333.6 M528.0 325.4 L533.5 329.9 M532.8 321.7 L538.3 326.3 M537.1 317.6 L542.5 322.0 M541.1 313.1 L546.4 317.5 M545.0 308.5 L550.4 313.0 M548.7 303.8 L554.1 308.3 M551.8 298.7 L557.2 303.2 M554.9 293.5 L560.3 298.1 M558.1 288.5 L563.5 293.0 M561.7 283.6 L567.0 288.1 M564.0 278.2 L569.8 282.8 M566.0 272.5 L571.8 277.2 M506.0 360.0 L511.0 354.0 L513.0 346.0 L516.0 340.0 L522.0 330.0 L535.0 320.0 L542.0 312.0 L548.0 305.0 L551.0 300.0 L557.0 290.0 L562.5 282.5 L566.0 272.5 M572.2 275.8 L575.1 269.8 L580.5 267.1 M566.0 272.5 L572.2 275.8 M568.6 267.6 L574.6 270.8 M572.2 263.7 L579.0 267.8 M577.0 261.0 L580.5 267.1 M566.0 272.5 L570.0 265.0 L577.0 261.0 M594.0 353.6 L588.3 363.1 L586.6 368.2 M588.0 350.0 L594.0 353.6 M584.9 355.1 L590.9 358.7 M581.9 360.3 L588.0 364.0 M580.0 366.0 L586.6 368.2 M588.0 350.0 L582.0 360.0 L580.0 366.0 M602.3 363.1 L596.6 373.3 L584.6 378.5 M596.0 360.0 L602.3 363.1 M593.1 365.9 L599.0 368.9 M588.1 369.6 L595.2 373.9 M582.0 372.0 L589.2 376.5 M596.0 360.0 L592.0 368.0 L582.0 372.0 M536.8 410.3 L538.7 421.9 L530.9 430.9 M530.0 412.0 L536.8 410.3 M531.4 417.4 L537.7 415.8 M529.9 422.1 L538.6 421.3 M526.0 426.0 L535.5 425.7 M530.0 412.0 L532.0 420.0 L526.0 426.0 M493.6 444.0 L502.9 438.4 L514.2 434.6 L526.6 430.5 L535.1 426.3 M490.0 438.0 L493.6 444.0 M494.9 435.0 L498.5 441.0 M499.8 432.1 L503.5 438.2 M505.3 430.2 L508.9 436.4 M510.7 428.4 L514.4 434.6 M516.2 426.6 L519.8 432.8 M521.6 424.8 L525.3 430.9 M526.9 422.6 L530.5 428.6 M532.0 420.0 L535.1 426.3 M490.0 438.0 L500.0 432.0 L512.0 428.0 L524.0 424.0 L532.0 420.0 M99.0 692.5 L106.5 687.5 L114.0 682.5 L124.0 672.5 L134.0 662.5 M85.0 687.5 L99.0 692.5 M92.7 682.4 L106.7 687.4 M100.4 677.1 L114.4 682.1 M106.9 670.6 L120.9 675.6 M113.5 664.0 L127.5 669.0 M120.0 657.5 L134.0 662.5 M85.0 687.5 L92.5 682.5 L100.0 677.5 L110.0 667.5 L120.0 657.5 M199.0 602.5 L209.0 592.5 L224.0 582.5 L239.0 572.5 M185.0 597.5 L199.0 602.5 M190.9 591.6 L204.9 596.6 M197.2 586.1 L211.2 591.1 M204.1 581.4 L218.1 586.4 M211.1 576.8 L225.1 581.8 M218.0 572.1 L232.0 577.1 M225.0 567.5 L239.0 572.5 M185.0 597.5 L195.0 587.5 L210.0 577.5 L225.0 567.5 M239.0 572.5 L259.0 557.5 L270.0 550.5 M225.0 567.5 L239.0 572.5 M232.6 561.8 L246.6 566.8 M240.2 556.1 L254.2 561.1 M248.0 550.6 L262.0 555.6 M256.0 545.5 L270.0 550.5 M225.0 567.5 L245.0 552.5 L256.0 545.5 M270.0 550.5 L284.0 541.0 L296.5 533.8 L309.0 526.0 M256.0 545.5 L270.0 550.5 M263.6 540.3 L277.6 545.3 M271.3 535.2 L285.3 540.2 M279.3 530.6 L293.3 535.6 M287.2 525.9 L301.2 530.9 M295.0 521.0 L309.0 526.0 M256.0 545.5 L270.0 536.0 L282.5 528.8 L295.0 521.0 M309.0 526.0 L321.5 518.8 L334.0 511.0 L344.0 505.0 M295.0 521.0 L309.0 526.0 M302.1 516.9 L316.1 521.9 M309.1 512.8 L323.1 517.8 M316.0 508.5 L330.0 513.5 M323.0 504.2 L337.0 509.2 M330.0 500.0 L344.0 505.0 M295.0 521.0 L307.5 513.8 L320.0 506.0 L330.0 500.0 M333.9 505.8 L349.1 495.6 L364.1 483.6 L378.8 473.9 L393.9 464.3 L410.6 452.2 M330.0 500.0 L333.9 505.8 M334.9 496.8 L338.7 502.6 M339.7 493.5 L343.6 499.3 M344.6 490.3 L348.5 496.1 M349.2 486.7 L353.1 492.5 M353.7 483.0 L357.6 488.9 M358.3 479.4 L362.2 485.2 M363.0 476.0 L366.9 481.8 M367.9 472.7 L371.8 478.6 M372.7 469.5 L376.6 475.3 M377.6 466.3 L381.5 472.2 M382.6 463.2 L386.5 469.0 M387.5 460.1 L391.4 465.9 M392.3 456.8 L396.2 462.6 M397.1 453.4 L400.9 459.2 M401.8 449.9 L405.7 455.8 M406.5 446.5 L410.4 452.3 M330.0 500.0 L345.0 490.0 L360.0 478.0 L375.0 468.0 L390.0 458.5 L406.5 446.5 M412.0 450.8 L414.9 446.9 L418.8 443.9 L424.1 441.3 L428.1 439.3 M406.5 446.5 L412.0 450.8 M410.1 441.9 L415.7 446.3 M414.6 438.3 L420.5 443.1 M419.8 435.6 L425.7 440.5 M425.0 433.0 L428.1 439.3 M406.5 446.5 L410.0 442.0 L415.0 438.0 L421.0 435.0 L425.0 433.0 M428.6 439.0 L433.6 436.0 L438.4 433.1 L442.1 431.3 M425.0 433.0 L428.6 439.0 M429.6 430.2 L433.2 436.2 M434.2 427.5 L437.8 433.5 M439.0 425.0 L442.1 431.3 M425.0 433.0 L430.0 430.0 L435.0 427.0 L439.0 425.0 M424.1 439.9 L432.6 441.0 L441.0 441.0 M425.0 433.0 L424.1 439.9 M430.3 433.7 L429.4 440.6 M435.6 434.0 L434.8 441.0 M441.0 434.0 L440.1 441.0 M425.0 433.0 L433.0 434.0 L441.0 434.0 M476.5 407.7 L482.4 401.6 L485.8 394.1 L486.6 387.8 L487.3 385.3 L489.9 382.2 L495.4 377.4 L501.4 372.9 L505.9 368.8 L511.1 366.3 M471.5 402.8 L476.5 407.7 M475.6 398.6 L480.6 403.5 M478.5 393.6 L483.7 398.7 M479.6 387.8 L485.9 393.2 M481.1 382.2 L486.7 387.4 M484.7 377.6 L489.7 382.5 M489.1 373.7 L494.1 378.6 M493.7 370.0 L498.7 375.0 M498.3 366.4 L503.2 371.3 M502.7 362.6 L507.9 367.8 M508.0 360.0 L511.1 366.3 M471.5 402.8 L476.8 397.5 L479.0 392.3 L479.8 386.3 L481.2 381.8 L485.0 377.2 L491.0 372.0 L497.0 367.5 L502.0 363.0 L508.0 360.0 M480.1 431.2 L494.3 426.6 L506.5 422.1 M478.0 424.5 L480.1 431.2 M483.2 422.8 L485.4 429.5 M488.5 421.1 L490.6 427.8 M493.7 419.4 L495.8 426.0 M498.8 417.4 L501.0 424.1 M504.0 415.5 L506.1 422.2 M478.0 424.5 L492.0 420.0 L504.0 415.5 M419.0 459.7 L429.0 452.7 M415.0 454.0 L419.0 459.7 M420.0 450.5 L424.0 456.2 M425.0 447.0 L429.0 452.7 M415.0 454.0 L425.0 447.0 M478.9 300.0 L478.9 310.3 L478.2 318.5 L477.0 323.2 L478.9 325.8 L477.6 332.8 L478.2 340.3 L476.4 347.8 L472.3 355.0 L469.5 362.5 L465.3 373.1 L460.0 381.7 L454.1 391.4 L450.3 399.1 M471.9 300.0 L478.9 300.0 M471.9 306.1 L478.9 306.1 M471.7 312.2 L478.7 312.2 M471.1 318.2 L478.2 318.2 M470.3 324.1 L477.5 324.0 M471.2 329.6 L478.2 329.6 M470.9 335.6 L477.8 335.6 M470.8 341.6 L477.9 341.6 M468.7 347.3 L476.5 347.5 M465.8 352.6 L473.5 352.9 M463.6 358.3 L471.1 358.4 M461.4 364.0 L468.9 364.1 M459.2 369.6 L466.6 369.8 M456.0 374.8 L464.0 375.2 M452.8 380.0 L460.8 380.4 M449.7 385.2 L457.6 385.6 M446.7 390.6 L454.5 390.8 M444.0 396.0 L451.7 396.2 M471.9 300.0 L471.9 310.0 L471.2 317.5 L470.0 323.8 L471.9 326.2 L470.6 332.5 L471.2 340.0 L470.0 345.0 L466.0 352.0 L463.0 360.0 L459.0 370.0 L454.0 378.0 L448.0 388.0 L444.0 396.0 M448.6 401.3 L440.6 408.3 M444.0 396.0 L448.6 401.3 M440.0 399.5 L444.6 404.8 M436.0 403.0 L440.6 408.3 M444.0 396.0 L436.0 403.0 M476.3 328.1 L471.3 338.1 M470.0 325.0 L476.3 328.1 M467.5 330.0 L473.8 333.1 M465.0 335.0 L471.3 338.1 M470.0 325.0 L465.0 335.0 M478.0 340.7 L477.0 350.8 L475.9 359.1 L474.9 364.4 L473.3 371.8 L470.5 380.6 L465.9 389.7 L459.9 397.7 L456.2 405.3 L451.7 413.0 L447.9 416.9 M471.0 340.0 L478.0 340.7 M470.4 346.0 L477.4 346.7 M469.7 352.1 L476.7 352.8 M469.0 358.1 L476.0 358.8 M467.8 364.1 L474.8 364.8 M466.5 370.0 L473.5 370.7 M464.7 375.8 L471.8 376.5 M462.3 381.4 L469.7 382.2 M459.5 386.7 L467.0 387.6 M455.8 391.6 L463.7 392.7 M452.6 396.7 L460.0 397.6 M449.9 402.1 L457.3 403.0 M446.9 407.4 L454.4 408.3 M443.0 412.0 L451.3 413.5 M471.0 340.0 L470.0 350.0 L469.0 358.0 L468.0 363.0 L466.5 370.0 L464.0 378.0 L460.0 386.0 L454.0 394.0 L450.0 402.0 L446.0 409.0 L443.0 412.0 M483.6 382.2 L489.6 374.2 M478.0 378.0 L483.6 382.2 M481.0 374.0 L486.6 378.2 M484.0 370.0 L489.6 374.2 M478.0 378.0 L484.0 370.0 M320.0 538.0 L315.0 547.5 L310.0 557.5 L307.0 566.0 L307.8 565.0 L304.0 580.0 L294.0 592.5 M306.0 533.0 L320.0 538.0 M301.8 541.0 L315.8 546.0 M297.7 549.2 L311.7 554.2 M294.2 557.6 L308.2 562.6 M292.7 564.1 L306.7 569.1 M290.5 572.9 L304.5 577.9 M285.7 580.4 L299.7 585.4 M280.0 587.5 L294.0 592.5 M306.0 533.0 L301.0 542.5 L296.0 552.5 L293.0 561.0 L293.8 560.0 L290.0 575.0 L280.0 587.5 M317.0 574.0 L315.0 582.5 L311.5 589.0 L305.0 595.0 L300.0 601.0 L298.0 605.0 M303.0 569.0 L317.0 574.0 M300.7 578.0 L314.7 583.0 M295.7 585.7 L309.7 590.7 M289.1 592.3 L303.1 597.3 M284.0 600.0 L298.0 605.0 M303.0 569.0 L301.0 577.5 L297.5 584.0 L291.0 590.0 L286.0 596.0 L284.0 600.0 M336.5 549.0 L333.0 555.0 L329.0 562.5 L326.5 570.0 L324.0 575.0 L319.0 585.0 L314.0 602.5 L309.0 610.0 L307.8 620.0 L311.5 630.0 L314.0 640.0 L315.2 652.5 L319.0 665.0 L324.0 675.0 L325.2 678.8 M322.5 544.0 L336.5 549.0 M317.9 552.1 L331.9 557.1 M314.0 560.4 L328.0 565.4 M310.5 569.0 L324.5 574.0 M306.3 577.3 L320.3 582.3 M303.3 586.0 L317.3 591.0 M300.7 594.9 L314.7 599.9 M296.3 603.0 L310.3 608.0 M294.1 611.8 L308.1 616.8 M295.9 620.7 L309.9 625.7 M298.6 629.5 L312.6 634.5 M300.4 638.6 L314.4 643.6 M301.4 647.8 L315.4 652.8 M304.0 656.7 L318.0 661.7 M307.6 665.2 L321.6 670.2 M311.2 673.8 L325.2 678.8 M322.5 544.0 L319.0 550.0 L315.0 557.5 L312.5 565.0 L310.0 570.0 L305.0 580.0 L300.0 597.5 L295.0 605.0 L293.8 615.0 L297.5 625.0 L300.0 635.0 L301.2 647.5 L305.0 660.0 L310.0 670.0 L311.2 673.8 M355.0 520.0 L349.0 525.0 L344.0 530.0 L341.0 535.0 M341.0 515.0 L355.0 520.0 M333.2 521.8 L347.2 526.8 M327.0 530.0 L341.0 535.0 M341.0 515.0 L335.0 520.0 L330.0 525.0 L327.0 530.0 M356.0 523.0 L351.5 530.0 L346.5 536.0 L341.5 541.0 L339.0 546.0 L337.0 551.0 M342.0 518.0 L356.0 523.0 M337.4 525.2 L351.4 530.2 M331.8 531.7 L345.8 536.7 M326.4 538.2 L340.4 543.2 M323.0 546.0 L337.0 551.0 M342.0 518.0 L337.5 525.0 L332.5 531.0 L327.5 536.0 L325.0 541.0 L323.0 546.0 M356.5 525.0 L354.0 534.0 L349.0 541.0 L344.0 547.5 L340.0 554.0 L336.5 561.0 L338.0 570.0 L339.0 577.5 L338.0 586.0 L337.0 591.0 M342.5 520.0 L356.5 525.0 M340.1 528.7 L354.1 533.7 M335.0 536.0 L349.0 541.0 M329.6 543.2 L343.6 548.2 M325.0 551.0 L339.0 556.0 M323.1 559.3 L337.1 564.3 M324.4 568.2 L338.4 573.2 M324.5 577.1 L338.5 582.1 M323.0 586.0 L337.0 591.0 M342.5 520.0 L340.0 529.0 L335.0 536.0 L330.0 542.5 L326.0 549.0 L322.5 556.0 L324.0 565.0 L325.0 572.5 L324.0 581.0 L323.0 586.0 M363.0 528.0 L364.0 536.0 L361.5 545.0 L359.0 554.0 L358.0 562.5 L354.0 570.0 L349.0 576.0 L346.5 579.0 M349.0 523.0 L363.0 528.0 M349.7 532.1 L363.7 537.1 M347.2 541.1 L361.2 546.1 M344.9 550.0 L358.9 555.0 M343.2 559.0 L357.2 564.0 M338.4 566.9 L352.4 571.9 M332.5 574.0 L346.5 579.0 M349.0 523.0 L350.0 531.0 L347.5 540.0 L345.0 549.0 L344.0 557.5 L340.0 565.0 L335.0 571.0 L332.5 574.0 M346.5 579.0 L351.5 585.0 L353.0 592.5 M332.5 574.0 L346.5 579.0 M337.4 579.9 L351.4 584.9 M339.0 587.5 L353.0 592.5 M332.5 574.0 L337.5 580.0 L339.0 587.5 M333.0 570.0 L330.0 575.0 L326.5 579.0 L321.5 581.0 L318.0 584.0 M319.0 565.0 L333.0 570.0 M312.9 573.6 L326.9 578.6 M304.0 579.0 L318.0 584.0 M319.0 565.0 L316.0 570.0 L312.5 574.0 L307.5 576.0 L304.0 579.0 M333.0 576.0 L330.0 582.5 L326.5 587.5 L321.5 591.0 L320.0 595.0 M319.0 571.0 L333.0 576.0 M315.6 578.1 L329.6 583.1 M310.5 583.9 L324.5 588.9 M306.0 590.0 L320.0 595.0 M319.0 571.0 L316.0 577.5 L312.5 582.5 L307.5 586.0 L306.0 590.0 M320.0 591.0 L326.0 590.0 L334.0 590.6 M306.0 586.0 L320.0 591.0 M313.0 585.1 L327.0 590.1 M320.0 585.6 L334.0 590.6 M306.0 586.0 L312.0 585.0 L320.0 585.6 M342.0 582.5 L343.0 590.0 L345.0 597.5 L346.5 605.0 M328.0 577.5 L342.0 582.5 M329.0 585.1 L343.0 590.1 M331.0 592.5 L345.0 597.5 M332.5 600.0 L346.5 605.0 M328.0 577.5 L329.0 585.0 L331.0 592.5 L332.5 600.0 M349.0 585.0 L346.5 592.5 L348.0 600.0 M335.0 580.0 L349.0 585.0 M332.5 587.4 L346.5 592.4 M334.0 595.0 L348.0 600.0 M335.0 580.0 L332.5 587.5 L334.0 595.0 M341.5 585.0 L344.0 595.0 L346.5 605.0 M327.5 580.0 L341.5 585.0 M330.0 590.0 L344.0 595.0 M332.5 600.0 L346.5 605.0 M327.5 580.0 L330.0 590.0 L332.5 600.0 M344.0 602.5 L336.5 612.5 L326.5 620.0 L316.5 632.5 M330.0 597.5 L344.0 602.5 M325.1 604.1 L339.1 609.1 M319.4 609.8 L333.4 614.8 M312.8 614.8 L326.8 619.8 M307.6 621.1 L321.6 626.1 M302.5 627.5 L316.5 632.5 M330.0 597.5 L322.5 607.5 L312.5 615.0 L302.5 627.5 M301.5 630.0 L294.0 640.0 L286.5 650.0 L281.5 657.5 M287.5 625.0 L301.5 630.0 M282.4 631.8 L296.4 636.8 M277.3 638.6 L291.3 643.6 M272.2 645.4 L286.2 650.4 M267.5 652.5 L281.5 657.5 M287.5 625.0 L280.0 635.0 L272.5 645.0 L267.5 652.5 M301.5 635.0 L294.0 645.0 L286.5 657.5 L281.5 667.5 M287.5 630.0 L301.5 635.0 M281.8 637.7 L295.8 642.7 M276.6 645.7 L290.6 650.7 M271.8 653.9 L285.8 658.9 M267.5 662.5 L281.5 667.5 M287.5 630.0 L280.0 640.0 L272.5 652.5 L267.5 662.5 M279.0 652.5 L269.0 657.5 L265.2 665.0 L264.0 670.0 M265.0 647.5 L279.0 652.5 M257.6 651.2 L271.6 656.2 M252.6 657.2 L266.6 662.2 M250.0 665.0 L264.0 670.0 M265.0 647.5 L255.0 652.5 L251.2 660.0 L250.0 665.0 M264.0 647.5 L259.0 657.5 L254.0 665.0 M250.0 642.5 L264.0 647.5 M245.5 651.5 L259.5 656.5 M240.0 660.0 L254.0 665.0 M250.0 642.5 L245.0 652.5 L240.0 660.0 M304.0 660.0 L299.0 670.0 L299.0 680.0 L297.8 687.5 M290.0 655.0 L304.0 660.0 M285.7 663.6 L299.7 668.6 M285.0 673.0 L299.0 678.0 M283.8 682.5 L297.8 687.5 M290.0 655.0 L285.0 665.0 L285.0 675.0 L283.8 682.5 M324.0 675.0 L311.5 677.5 L304.0 680.0 L296.5 687.5 L294.0 695.0 M310.0 670.0 L324.0 675.0 M300.4 671.9 L314.4 676.9 M291.0 674.7 L305.0 679.7 M283.8 681.2 L297.8 686.2 M280.0 690.0 L294.0 695.0 M310.0 670.0 L297.5 672.5 L290.0 675.0 L282.5 682.5 L280.0 690.0 M336.5 717.5 L345.2 725.0 M322.5 712.5 L336.5 717.5 M331.2 720.0 L345.2 725.0 M322.5 712.5 L331.2 720.0 M129.0 655.0 L136.5 645.0 L139.0 637.5 L145.2 630.0 L155.2 622.5 M115.0 650.0 L129.0 655.0 M120.1 643.2 L134.1 648.2 M123.9 635.7 L137.9 640.7 M128.3 628.5 L142.3 633.5 M134.4 622.6 L148.4 627.6 M141.2 617.5 L155.2 622.5 M115.0 650.0 L122.5 640.0 L125.0 632.5 L131.2 625.0 L141.2 617.5 M161.5 608.8 L166.5 595.0 L174.0 585.0 L185.2 576.2 M147.5 603.8 L161.5 608.8 M150.3 596.0 L164.3 601.0 M153.7 588.5 L167.7 593.5 M158.6 581.8 L172.6 586.8 M164.7 576.3 L178.7 581.3 M171.2 571.2 L185.2 576.2 M147.5 603.8 L152.5 590.0 L160.0 580.0 L171.2 571.2 M151.5 672.5 L159.0 660.0 M137.5 667.5 L151.5 672.5 M141.2 661.2 L155.2 666.2 M145.0 655.0 L159.0 660.0 M137.5 667.5 L145.0 655.0 M255.2 567.5 L251.5 577.5 L249.0 587.5 M241.2 562.5 L255.2 567.5 M237.6 572.3 L251.6 577.3 M235.0 582.5 L249.0 587.5 M241.2 562.5 L237.5 572.5 L235.0 582.5 M241.5 662.5 L239.0 682.5 M227.5 657.5 L241.5 662.5 M226.2 667.5 L240.2 672.5 M225.0 677.5 L239.0 682.5 M227.5 657.5 L225.0 677.5 M236.5 670.0 L249.0 670.0 L259.0 665.0 L264.0 650.0 M222.5 665.0 L236.5 670.0 M232.4 665.0 L246.4 670.0 M241.5 661.8 L255.5 666.8 M246.9 654.4 L260.9 659.4 M250.0 645.0 L264.0 650.0 M222.5 665.0 L235.0 665.0 L245.0 660.0 L250.0 645.0 M264.0 670.0 L266.5 662.5 L274.0 655.0 L281.5 652.5 M250.0 665.0 L264.0 670.0 M253.1 656.9 L267.1 661.9 M259.4 650.6 L273.4 655.6 M267.5 647.5 L281.5 652.5 M250.0 665.0 L252.5 657.5 L260.0 650.0 L267.5 647.5 M223.5 665.0 L219.5 673.0 L214.0 682.0 L208.0 689.0 M209.5 660.0 L223.5 665.0 M205.2 668.5 L219.2 673.5 M200.2 676.7 L214.2 681.7 M194.0 684.0 L208.0 689.0 M209.5 660.0 L205.5 668.0 L200.0 677.0 L194.0 684.0 M201.5 695.0 L184.0 707.5 L171.5 717.5 L166.5 722.5 M187.5 690.0 L201.5 695.0 M180.2 695.2 L194.2 700.2 M173.0 700.4 L187.0 705.4 M165.9 705.8 L179.9 710.8 M158.9 711.3 L172.9 716.3 M152.5 717.5 L166.5 722.5 M187.5 690.0 L170.0 702.5 L157.5 712.5 L152.5 717.5" stroke="#b6b6b6" stroke-width="1"/>
<polyline points="570.0,141.0 580.0,132.5 590.0,122.5 597.5,107.5 603.8,96.0" stroke="#333" stroke-width="1.25"/>
<polyline points="645.0,45.0 650.0,60.0" stroke="#333" stroke-width="1.25"/>
<polyline points="672.5,41.5 681.2,52.5" stroke="#333" stroke-width="1.25"/>
<polyline points="665.0,162.5 670.0,150.0 675.0,140.0" stroke="#333" stroke-width="1.25"/>
<polyline points="582.5,152.0 590.0,158.0" stroke="#333" stroke-width="1.25"/>
<polyline points="637.5,175.0 657.5,178.8" stroke="#333" stroke-width="1.25"/>
<polyline points="662.5,175.0 672.0,179.0" stroke="#333" stroke-width="1.25"/>
<polyline points="666.2,185.0 683.8,181.2" stroke="#333" stroke-width="1.25"/>
<polyline points="592.5,184.0 600.0,188.0" stroke="#333" stroke-width="1.25"/>
<polyline points="602.5,230.0 610.0,212.0 620.0,195.0" stroke="#333" stroke-width="1.25"/>
<polyline points="606.0,231.0 613.0,214.0 622.0,197.0" stroke="#333" stroke-width="1.25"/>
<polyline points="610.0,232.0 616.0,216.0 624.0,200.0" stroke="#333" stroke-width="1.25"/>
<polyline points="597.0,235.0 604.0,220.0 612.0,206.0" stroke="#333" stroke-width="1.25"/>
<polyline points="685.0,110.0 700.0,97.0 715.0,80.0" stroke="#333" stroke-width="1.25"/>
<polyline points="688.0,113.0 702.0,100.0 713.0,88.0" stroke="#333" stroke-width="1.25"/>
<polyline points="688.0,118.0 698.0,110.0" stroke="#333" stroke-width="1.25"/>
<polyline points="710.0,95.0 720.0,88.0" stroke="#333" stroke-width="1.25"/>
<polyline points="706.0,116.0 714.0,108.0" stroke="#333" stroke-width="1.25"/>
<polyline points="705.0,124.0 712.0,118.0" stroke="#333" stroke-width="1.25"/>
<polyline points="686.0,205.0 700.0,185.0 715.0,157.5" stroke="#333" stroke-width="1.25"/>
<polyline points="645.0,232.5 655.0,222.0 665.0,215.0" stroke="#333" stroke-width="1.25"/>
<polyline points="655.0,238.0 664.0,226.0 674.0,216.0" stroke="#333" stroke-width="1.25"/>
<polyline points="672.0,238.0 680.0,225.0 688.0,212.0" stroke="#333" stroke-width="1.25"/>
<polyline points="735.0,60.0 728.0,72.0 725.0,90.0 726.0,110.0 722.0,130.0 715.0,145.0 708.0,160.0" stroke="#333" stroke-width="1.25"/>
<polyline points="745.0,48.0 740.0,60.0 738.0,80.0 740.0,100.0 737.0,118.0" stroke="#333" stroke-width="1.25"/>
<polyline points="728.0,150.0 722.0,165.0 716.0,180.0 710.0,195.0" stroke="#333" stroke-width="1.25"/>
<polyline points="763.0,45.0 762.0,60.0 763.0,75.0 760.0,95.0 758.0,110.0 752.0,125.0 745.0,140.0 738.0,155.0" stroke="#333" stroke-width="1.25"/>
<polyline points="742.5,142.5 735.0,160.0 728.0,175.0 720.0,195.0" stroke="#333" stroke-width="1.25"/>
<polyline points="755.0,155.0 748.0,170.0 740.0,185.0 730.0,215.0" stroke="#333" stroke-width="1.25"/>
<polyline points="765.0,160.0 758.0,178.0 750.0,195.0 742.0,215.0 735.0,230.0" stroke="#333" stroke-width="1.25"/>
<polyline points="767.0,185.0 760.0,200.0 752.0,220.0 745.0,240.0" stroke="#333" stroke-width="1.25"/>
<polyline points="767.0,110.0 760.0,135.0 752.0,150.0" stroke="#333" stroke-width="1.25"/>
<polyline points="700.0,230.0 710.0,212.0 718.0,196.0 726.0,180.0" stroke="#333" stroke-width="1.25"/>
<polyline points="705.0,238.0 716.0,220.0 724.0,204.0" stroke="#333" stroke-width="1.25"/>
<polyline points="694.0,240.0 702.0,226.0 708.0,212.0" stroke="#333" stroke-width="1.25"/>
<polyline points="552.5,175.0 560.0,167.0 566.0,162.0 572.5,157.5" stroke="#333" stroke-width="1.25"/>
<polyline points="550.0,180.0 558.0,172.0 565.0,166.0 572.0,160.0" stroke="#333" stroke-width="1.25"/>
<polyline points="554.0,184.0 562.0,176.0 570.0,168.0" stroke="#333" stroke-width="1.25"/>
<polyline points="548.0,186.0 556.0,179.0 563.0,172.0" stroke="#333" stroke-width="1.25"/>
<polyline points="532.5,207.5 540.0,198.0 546.0,192.0 552.5,185.0" stroke="#333" stroke-width="1.25"/>
<polyline points="556.0,190.0 562.0,184.0 568.0,178.0" stroke="#333" stroke-width="1.25"/>
<polyline points="721.2,71.9 730.0,62.0 740.0,52.5" stroke="#333" stroke-width="1.25"/>
<polyline points="730.0,67.5 740.0,57.0 750.0,47.5" stroke="#333" stroke-width="1.25"/>
<polyline points="732.5,60.0 745.0,50.0 757.5,43.8" stroke="#333" stroke-width="1.25"/>
<polyline points="766.0,45.0 765.0,60.0 764.0,72.0" stroke="#333" stroke-width="1.25"/>
<polyline points="496.2,221.2 487.5,230.0 480.0,242.5 475.0,247.5 468.8,260.0 466.2,272.5 462.5,285.0 460.0,300.0 455.0,310.0 447.5,320.0 441.2,325.0" stroke="#333" stroke-width="1.25"/>
<polyline points="502.5,238.8 500.0,247.5 490.0,257.5 480.0,265.0 470.0,268.8" stroke="#333" stroke-width="1.25"/>
<polyline points="522.5,237.5 521.2,247.5 512.5,257.5 502.5,265.0 492.5,272.5 480.0,280.0 472.5,287.5" stroke="#333" stroke-width="1.25"/>
<polyline points="477.5,270.0 470.0,277.5 462.5,287.5 460.0,305.0 458.8,320.0 455.0,330.0 445.0,340.0 435.0,347.5 427.5,355.0 423.8,370.0 420.0,382.5 415.0,400.0" stroke="#333" stroke-width="1.25"/>
<polyline points="452.5,327.5 442.5,332.5 432.5,340.0 425.0,352.5 422.0,365.0" stroke="#333" stroke-width="1.25"/>
<polyline points="461.2,352.5 455.0,365.0 445.0,375.0 432.5,387.5 422.5,400.0 415.0,410.0" stroke="#333" stroke-width="1.25"/>
<polyline points="470.0,445.0 500.0,440.0 530.0,432.0 560.0,420.0 580.0,410.0" stroke="#333" stroke-width="1.25"/>
<polyline points="480.0,452.0 510.0,448.0 540.0,440.0 565.0,430.0" stroke="#333" stroke-width="1.25"/>
<polyline points="600.0,356.0 630.0,345.0 660.0,338.0 690.0,325.0 720.0,312.0 745.0,298.0" stroke="#333" stroke-width="1.25"/>
<polyline points="620.0,340.0 650.0,330.0 680.0,316.0 705.0,302.0 730.0,290.0 750.0,278.0" stroke="#333" stroke-width="1.25"/>
<polyline points="640.0,290.0 660.0,280.0 680.0,270.0 700.0,258.0" stroke="#333" stroke-width="1.25"/>
<polyline points="690.0,300.0 710.0,290.0 730.0,276.0 748.0,262.0" stroke="#333" stroke-width="1.25"/>
<polyline points="700.0,280.0 720.0,268.0 740.0,250.0 756.0,232.0" stroke="#333" stroke-width="1.25"/>
<polyline points="712.0,258.0 728.0,244.0 742.0,228.0 758.0,210.0" stroke="#333" stroke-width="1.25"/>
<polyline points="735.0,262.0 748.0,248.0 760.0,232.0" stroke="#333" stroke-width="1.25"/>
<polyline points="760.0,250.0 764.0,270.0 762.0,288.0 757.0,300.0" stroke="#333" stroke-width="1.25"/>
<polyline points="700.0,320.0 715.0,312.0 730.0,300.0" stroke="#333" stroke-width="1.25"/>
<polyline points="648.0,246.0 655.0,238.0 662.0,228.0" stroke="#333" stroke-width="1.25"/>
<polyline points="660.0,240.0 668.0,228.0 676.0,218.0" stroke="#333" stroke-width="1.25"/>
<polyline points="676.0,226.0 684.0,214.0 690.0,204.0" stroke="#333" stroke-width="1.25"/>
<polyline points="695.0,280.0 705.0,268.0" stroke="#333" stroke-width="1.25"/>
<polyline points="720.0,230.0 728.0,218.0 736.0,204.0" stroke="#333" stroke-width="1.25"/>
<polyline points="740.0,222.0 746.0,210.0 752.0,196.0" stroke="#333" stroke-width="1.25"/>
<polyline points="685.0,282.0 695.0,270.0 705.0,256.0" stroke="#333" stroke-width="1.25"/>
<polyline points="638.8,240.0 633.8,247.5 627.5,258.8 623.8,268.8 618.8,277.5 613.8,287.5 610.0,296.2 606.2,305.0 603.8,313.8" stroke="#333" stroke-width="1.25"/>
<polyline points="643.8,240.0 641.2,247.5 637.5,256.2 633.8,265.0 628.8,273.8 623.8,281.2 620.0,290.0 616.2,300.0 612.5,307.5 608.8,315.0" stroke="#333" stroke-width="1.25"/>
<polyline points="648.8,240.0 646.2,248.8 643.8,258.8 640.0,265.0 636.2,272.5 631.2,281.2 626.2,290.0" stroke="#333" stroke-width="1.25"/>
<polyline points="653.8,240.0 652.5,252.5 648.8,261.2 643.8,270.0 640.0,277.5" stroke="#333" stroke-width="1.25"/>
<polyline points="630.0,238.0 626.0,248.0 620.0,258.0 615.0,270.0 610.0,282.0" stroke="#333" stroke-width="1.25"/>
<polyline points="672.5,242.5 666.0,250.0 660.0,256.2" stroke="#333" stroke-width="1.25"/>
<polyline points="661.2,275.0 656.0,286.0 652.5,296.2 645.0,306.2" stroke="#333" stroke-width="1.25"/>
<polyline points="665.0,292.5 678.0,286.0 690.0,281.2" stroke="#333" stroke-width="1.25"/>
<polyline points="667.5,295.0 680.0,294.0 690.0,292.5" stroke="#333" stroke-width="1.25"/>
<polyline points="676.2,301.2 690.0,300.0" stroke="#333" stroke-width="1.25"/>
<polyline points="653.8,326.2 670.0,318.0 690.0,310.0" stroke="#333" stroke-width="1.25"/>
<polyline points="660.0,332.0 676.0,324.0 695.0,316.0" stroke="#333" stroke-width="1.25"/>
<polyline points="620.0,429.5 640.0,432.5 660.0,436.2 681.2,437.5" stroke="#333" stroke-width="1.25"/>
<polyline points="588.8,445.0 605.0,450.0 620.0,451.2" stroke="#333" stroke-width="1.25"/>
<polyline points="606.0,400.0 622.5,397.5" stroke="#333" stroke-width="1.25"/>
<polyline points="567.5,420.0 582.5,412.5" stroke="#333" stroke-width="1.25"/>
<polyline points="575.0,430.0 582.5,426.0" stroke="#333" stroke-width="1.25"/>
<polyline points="540.0,452.0 546.0,448.0 552.5,446.0" stroke="#333" stroke-width="1.25"/>
<polyline points="548.0,418.0 552.0,430.0 552.0,440.0" stroke="#333" stroke-width="1.25"/>
<polyline points="543.0,420.0 546.0,432.0" stroke="#333" stroke-width="1.25"/>
<polyline points="705.0,340.0 690.0,350.0 680.0,353.8 665.0,357.5 645.0,365.0 627.5,372.5 615.0,380.0 605.0,387.5 595.0,392.5 587.5,400.0 582.5,407.5" stroke="#333" stroke-width="1.25"/>
<polyline points="615.0,372.5 602.5,382.5 590.0,397.5 585.0,405.0" stroke="#333" stroke-width="1.25"/>
<polyline points="441.8,488.2 454.0,481.2 466.2,476.0 478.5,470.8 489.0,469.0" stroke="#333" stroke-width="1.25"/>
<polyline points="440.0,477.8 450.5,472.5 462.8,467.2 475.0,463.8 485.5,460.2" stroke="#333" stroke-width="1.25"/>
<polyline points="440.0,467.2 448.8,462.0 459.2,456.8 469.8,451.5 480.2,446.2 489.0,439.2" stroke="#333" stroke-width="1.25"/>
<polyline points="443.5,497.0 457.5,490.0 471.5,484.8" stroke="#333" stroke-width="1.25"/>
<polyline points="492.5,460.2 506.5,455.0 518.8,449.8 531.0,444.5" stroke="#333" stroke-width="1.25"/>
<polyline points="494.2,465.5 506.5,462.0 520.5,456.8 534.5,451.5" stroke="#333" stroke-width="1.25"/>
<polyline points="497.8,470.8 510.0,469.0 522.2,465.5 534.5,460.2" stroke="#333" stroke-width="1.25"/>
<polyline points="501.2,476.0 515.2,472.5 527.5,469.0" stroke="#333" stroke-width="1.25"/>
<polyline points="496.0,448.0 510.0,444.5 522.2,441.0 534.5,435.8" stroke="#333" stroke-width="1.25"/>
<polyline points="503.0,437.5 513.5,434.0 524.0,430.5" stroke="#333" stroke-width="1.25"/>
<polyline points="510.0,467.2 520.5,462.0 531.0,456.8 539.8,455.0" stroke="#333" stroke-width="1.25"/>
<polyline points="532.8,460.2 545.0,448.0 552.0,446.2" stroke="#333" stroke-width="1.25"/>
<polyline points="534.5,441.0 538.0,430.5 543.2,423.5" stroke="#333" stroke-width="1.25"/>
<polyline points="546.8,427.0 550.2,437.5" stroke="#333" stroke-width="1.25"/>
<polyline points="461.0,498.8 470.0,498.0 480.2,498.8" stroke="#333" stroke-width="1.25"/>
<polyline points="445.0,445.0 452.0,438.0 460.0,432.0 470.0,428.0" stroke="#333" stroke-width="1.25"/>
<polyline points="455.0,450.0 465.0,444.0 476.0,438.0 486.0,434.0" stroke="#333" stroke-width="1.25"/>
<polyline points="470.0,440.0 480.0,436.0 492.0,430.0 502.0,428.0" stroke="#333" stroke-width="1.25"/>
<polyline points="484.0,454.0 492.0,450.0 500.0,444.0" stroke="#333" stroke-width="1.25"/>
<polyline points="430.0,470.0 436.0,460.0 445.0,452.0" stroke="#333" stroke-width="1.25"/>
<polyline points="520.0,470.0 530.0,466.0 540.0,460.0 548.0,455.0" stroke="#333" stroke-width="1.25"/>
<polyline points="548.0,432.0 556.0,428.0 562.0,426.0" stroke="#333" stroke-width="1.25"/>
<polyline points="390.0,523.8 395.0,530.0 407.5,535.0 412.5,531.2" stroke="#333" stroke-width="1.25"/>
<polyline points="402.5,517.5 407.5,530.0" stroke="#333" stroke-width="1.25"/>
<polyline points="382.5,532.5 386.2,538.8 390.0,547.5" stroke="#333" stroke-width="1.25"/>
<polyline points="382.5,546.2 390.0,555.0 397.5,567.5 401.2,580.0" stroke="#333" stroke-width="1.25"/>
<polyline points="387.5,555.0 395.0,567.5" stroke="#333" stroke-width="1.25"/>
<polyline points="370.0,548.8 375.0,557.5 367.5,565.0" stroke="#333" stroke-width="1.25"/>
<polyline points="351.2,553.8 352.5,572.5" stroke="#333" stroke-width="1.25"/>
<polyline points="362.5,557.5 361.2,570.0 355.0,580.0" stroke="#333" stroke-width="1.25"/>
<polyline points="365.0,560.0 370.0,570.0" stroke="#333" stroke-width="1.25"/>
<polyline points="342.5,570.0 350.0,580.0" stroke="#333" stroke-width="1.25"/>
<polyline points="401.2,540.0 402.5,545.0" stroke="#333" stroke-width="1.25"/>
<polyline points="402.5,545.0 413.8,533.8" stroke="#333" stroke-width="1.25"/>
<polyline points="406.0,476.0 421.0,477.5 433.0,480.5 436.0,488.0 433.0,497.0 425.5,503.0 421.0,512.0 418.0,519.5 412.0,525.5 409.0,533.0 404.5,539.0 401.5,545.0" stroke="#333" stroke-width="1.25"/>
<polyline points="407.5,479.0 409.0,488.0 409.0,497.0 406.0,501.5 400.0,504.5 394.0,507.5 392.5,515.0 391.0,522.5 386.5,530.0 383.5,536.0 380.5,545.0 379.0,554.0" stroke="#333" stroke-width="1.25"/>
<polyline points="395.5,500.0 392.5,509.0" stroke="#333" stroke-width="1.25"/>
<polyline points="379.0,515.0 373.0,522.5 365.5,528.5 355.0,531.5" stroke="#333" stroke-width="1.25"/>
<polyline points="403.0,518.0 406.0,527.0 409.0,533.0" stroke="#333" stroke-width="1.25"/>
<polyline points="410.5,501.5 413.5,509.0 415.0,518.0" stroke="#333" stroke-width="1.25"/>
<polyline points="422.5,480.5 424.0,489.5" stroke="#333" stroke-width="1.25"/>
<polyline points="427.0,482.0 426.0,494.0" stroke="#333" stroke-width="1.25"/>
<polyline points="437.5,477.5 445.0,470.0 452.5,462.5 460.0,458.0" stroke="#333" stroke-width="1.25"/>
<polyline points="439.0,489.5 448.0,482.0 460.0,476.0" stroke="#333" stroke-width="1.25"/>
<polyline points="443.5,497.0 454.0,491.0 460.0,488.0" stroke="#333" stroke-width="1.25"/>
<polyline points="443.5,461.0 450.0,455.0 458.0,450.0" stroke="#333" stroke-width="1.25"/>
<polyline points="436.0,452.0 444.0,446.0 451.0,440.0" stroke="#333" stroke-width="1.25"/>
<polyline points="385.0,533.0 383.5,545.0 382.0,560.0" stroke="#333" stroke-width="1.25"/>
<polyline points="389.5,534.5 391.0,545.0 397.0,560.0" stroke="#333" stroke-width="1.25"/>
<polyline points="426.2,356.3 423.5,369.9 420.8,379.4 416.7,388.9 414.0,399.8 409.9,405.2 404.5,416.1 400.4,424.2 396.3,428.3 395.0,432.4" stroke="#333" stroke-width="1.25"/>
<polyline points="453.4,342.7 445.2,352.2 437.1,359.0 431.6,367.2 427.6,378.0 423.5,386.2 419.4,394.3 415.3,403.9 412.6,413.4 409.9,421.5 408.5,432.4" stroke="#333" stroke-width="1.25"/>
<polyline points="458.8,355.0 453.4,367.2 447.9,376.7 439.8,384.8 431.6,395.7 424.8,402.5 419.4,410.7 414.0,417.4" stroke="#333" stroke-width="1.25"/>
<polyline points="169.8,566.3 158.7,571.1 149.2,575.8 144.5,587.0 139.7,596.5 136.6,602.8 130.2,607.5 123.9,612.3 117.5,620.2 111.2,626.6 104.9,634.5 98.5,645.6 92.2,656.7 85.8,667.8" stroke="#333" stroke-width="1.25"/>
<polyline points="147.7,575.8 163.5,572.7" stroke="#333" stroke-width="1.25"/>
<polyline points="138.1,607.5 130.2,617.0 122.3,625.0 116.0,631.3 111.2,637.7 108.0,647.2 104.9,656.7 100.1,663.0" stroke="#333" stroke-width="1.25"/>
<polyline points="157.2,604.4 149.2,613.9 142.9,623.4 136.6,632.9" stroke="#333" stroke-width="1.25"/>
<polyline points="112.8,648.7 117.5,636.0" stroke="#333" stroke-width="1.25"/>
<polyline points="136.6,669.3 125.5,678.9" stroke="#333" stroke-width="1.25"/>
<polyline points="103.3,637.7 100.1,648.7 99.3,663.0" stroke="#333" stroke-width="1.25"/>
<polyline points="195.0,554.0 185.0,565.0 175.0,575.0" stroke="#333" stroke-width="1.25"/>
<polyline points="146.2,576.2 157.5,570.0 170.0,566.2" stroke="#333" stroke-width="1.25"/>
<polyline points="145.0,590.0 135.0,600.0 130.0,607.5" stroke="#333" stroke-width="1.25"/>
<polyline points="122.5,612.5 112.5,625.0 105.0,635.0" stroke="#333" stroke-width="1.25"/>
<polyline points="156.2,603.8 145.0,615.0 137.5,625.0" stroke="#333" stroke-width="1.25"/>
<polyline points="242.5,571.2 235.0,590.0" stroke="#333" stroke-width="1.25"/>
<polyline points="262.0,552.0 256.0,566.0 250.0,580.0" stroke="#333" stroke-width="1.25"/>
<polyline points="250.0,557.0 245.0,570.0 240.0,582.0" stroke="#333" stroke-width="1.25"/>
<polyline points="228.0,580.0 222.0,594.0 217.0,606.0" stroke="#333" stroke-width="1.25"/>
<polyline points="245.0,640.0 238.0,652.0 232.0,664.0" stroke="#333" stroke-width="1.25"/>
<polyline points="236.0,670.0 242.0,682.0 248.0,694.0" stroke="#333" stroke-width="1.25"/>
<polyline points="258.0,668.0 262.0,680.0 266.0,690.0" stroke="#333" stroke-width="1.25"/>
<polyline points="187.5,690.0 192.0,705.0 195.0,720.0 198.0,735.0" stroke="#333" stroke-width="1.25"/>
<polyline points="162.5,735.0 172.0,722.0 185.0,712.5" stroke="#333" stroke-width="1.25"/>
<polyline points="98.0,736.0 100.0,725.0 102.5,716.0 104.5,710.0" stroke="#333" stroke-width="1.25"/>
<polyline points="103.0,736.0 104.0,729.0 107.0,729.0 108.0,736.0" stroke="#333" stroke-width="1.25"/>
<polyline points="343.5,570.0 349.5,579.0 357.0,586.5 363.0,595.5 366.0,601.5" stroke="#333" stroke-width="1.25"/>
<polyline points="342.0,604.5 351.0,609.0 360.0,613.5 366.0,621.0 375.0,630.0 384.0,639.0 390.0,646.5 394.5,654.0" stroke="#333" stroke-width="1.25"/>
<polyline points="366.0,570.0 369.0,579.0 369.0,588.0 375.0,591.0 384.0,595.5 393.0,603.0 403.5,613.5" stroke="#333" stroke-width="1.25"/>
<polyline points="357.0,570.0 360.0,577.5 364.5,585.0 367.5,592.5" stroke="#333" stroke-width="1.25"/>
<polyline points="375.0,570.0 372.0,579.0 370.5,583.5" stroke="#333" stroke-width="1.25"/>
<polyline points="384.0,573.0 388.5,582.0 387.0,589.5" stroke="#333" stroke-width="1.25"/>
<polyline points="396.0,570.0 400.5,579.0 403.5,589.5 405.0,604.5" stroke="#333" stroke-width="1.25"/>
<polyline points="369.0,606.0 378.0,595.5" stroke="#333" stroke-width="1.25"/>
<polyline points="304.5,649.5 312.0,636.0 319.5,627.0 330.0,618.0 340.5,610.5" stroke="#333" stroke-width="1.25"/>
<polyline points="321.0,654.0 327.0,642.0 333.0,633.0 339.0,627.0 348.0,619.5 354.0,613.5" stroke="#333" stroke-width="1.25"/>
<polyline points="334.5,636.0 342.0,627.0 349.5,618.0" stroke="#333" stroke-width="1.25"/>
<polyline points="322.5,645.0 330.0,637.5 339.0,634.5 348.0,627.0 357.0,622.5" stroke="#333" stroke-width="1.25"/>
<polyline points="336.0,660.0 345.0,651.0 354.0,640.5 358.5,627.0" stroke="#333" stroke-width="1.25"/>
<polyline points="342.0,666.0 351.0,660.0 360.0,654.0 369.0,648.0 378.0,643.5 382.5,642.0" stroke="#333" stroke-width="1.25"/>
<polyline points="349.5,654.0 360.0,645.0 369.0,636.0 375.0,630.0" stroke="#333" stroke-width="1.25"/>
<polyline points="357.0,648.0 366.0,640.5 375.0,636.0" stroke="#333" stroke-width="1.25"/>
<polyline points="358.5,652.5 369.0,643.5 378.0,639.0" stroke="#333" stroke-width="1.25"/>
<polyline points="346.5,669.0 357.0,666.0 366.0,663.0 376.5,658.5 381.0,657.0" stroke="#333" stroke-width="1.25"/>
<polyline points="334.5,675.0 345.0,673.5 357.0,672.0 366.0,669.0 375.0,663.0" stroke="#333" stroke-width="1.25"/>
<polyline points="336.0,684.0 345.0,681.0 357.0,678.0 366.0,675.0 372.0,669.0" stroke="#333" stroke-width="1.25"/>
<polyline points="354.0,688.5 363.0,685.5 372.0,681.0 378.0,675.0" stroke="#333" stroke-width="1.25"/>
<polyline points="319.5,640.5 324.0,651.0 319.5,672.0" stroke="#333" stroke-width="1.25"/>
<polyline points="300.0,630.0 309.0,627.0 315.0,625.5" stroke="#333" stroke-width="1.25"/>
<polyline points="306.0,594.0 322.5,591.0" stroke="#333" stroke-width="1.25"/>
<polyline points="338.0,695.0 348.0,700.0 358.0,704.0" stroke="#333" stroke-width="1.25"/>
<polyline points="320.0,700.0 330.0,708.0 340.0,712.0" stroke="#333" stroke-width="1.25"/>
<polyline points="300.0,690.0 312.0,684.0 325.0,680.0" stroke="#333" stroke-width="1.25"/>
<polyline points="290.0,712.0 300.0,718.0 312.0,722.0" stroke="#333" stroke-width="1.25"/>
<polyline points="260.0,715.0 270.0,712.0 282.0,714.0" stroke="#333" stroke-width="1.25"/>
<polyline points="345.0,700.0 335.0,710.0 325.0,716.0" stroke="#333" stroke-width="1.25"/>
<polyline points="186.9,636.5 183.5,649.0 175.5,660.0" stroke="#333" stroke-width="1.25"/>
<polyline points="124.5,679.5 137.0,669.3" stroke="#333" stroke-width="1.25"/>
<polyline points="560.9,285.2 562.5,283.4 563.2,282.6 566.0,282.2 566.3,281.4" stroke="#858585" stroke-width="0.9"/>
<polyline points="561.2,293.8 561.9,293.6 561.6,291.1 562.1,291.0 562.0,289.3" stroke="#858585" stroke-width="0.9"/>
<polyline points="569.3,282.8 567.0,283.9 566.0,284.6 563.7,283.4 562.7,284.4" stroke="#858585" stroke-width="0.9"/>
<polyline points="570.4,274.6 571.5,273.7 573.2,271.0 574.3,271.1 575.8,269.2" stroke="#858585" stroke-width="0.9"/>
<polyline points="560.8,292.3 561.6,290.7 563.0,290.4 563.8,291.5 564.7,290.4" stroke="#858585" stroke-width="0.9"/>
<polyline points="561.3,285.4 562.3,285.6 562.8,285.2 563.7,285.7 565.1,285.2" stroke="#858585" stroke-width="0.9"/>
<polyline points="564.7,285.4 564.9,283.2 563.1,282.2 564.4,280.7 564.0,278.7" stroke="#858585" stroke-width="0.9"/>
<polyline points="568.9,282.3 568.1,283.2 568.1,284.6 568.4,285.8 569.6,288.8" stroke="#858585" stroke-width="0.9"/>
<polyline points="569.7,283.1 569.6,283.7 569.5,285.5 569.2,287.3 570.1,287.7" stroke="#858585" stroke-width="0.9"/>
<polyline points="562.5,286.7 561.8,288.2 559.9,288.3 560.4,288.5 558.4,289.8" stroke="#858585" stroke-width="0.9"/>
<polyline points="565.4,276.3 567.6,276.3 568.7,276.4 569.5,275.1 570.6,274.0" stroke="#858585" stroke-width="0.9"/>
<polyline points="562.0,283.8 563.5,283.7 562.8,285.8 563.9,286.0 564.3,287.7" stroke="#858585" stroke-width="0.9"/>
<polyline points="565.4,282.3 565.1,280.9 564.6,279.5 564.1,279.1 563.7,277.2" stroke="#858585" stroke-width="0.9"/>
<polyline points="563.1,291.7 563.5,292.8 563.6,294.9 563.5,296.1 565.0,296.9" stroke="#858585" stroke-width="0.9"/>
<polyline points="557.9,297.7 556.7,299.3 557.3,298.4 558.6,300.9 558.4,301.4" stroke="#858585" stroke-width="0.9"/>
<polyline points="563.9,284.7 561.3,283.9 561.3,283.1 558.4,283.1 557.1,283.3" stroke="#858585" stroke-width="0.9"/>
<polyline points="557.6,293.4 558.0,295.4 559.1,296.4 557.7,297.5 559.8,298.6" stroke="#858585" stroke-width="0.9"/>
<polyline points="566.6,287.4 565.3,287.0 564.8,285.4 565.1,282.8 564.6,283.0" stroke="#858585" stroke-width="0.9"/>
<polyline points="569.0,282.9 571.8,283.6 572.1,283.3 572.3,282.7 573.1,283.2" stroke="#858585" stroke-width="0.9"/>
<polyline points="562.4,283.4 562.1,283.6 564.0,283.1 564.5,283.6 565.8,284.4" stroke="#858585" stroke-width="0.9"/>
<polyline points="563.8,280.6 565.7,279.9 567.1,279.3 568.8,277.8 569.9,278.6" stroke="#858585" stroke-width="0.9"/>
<polyline points="563.7,287.0 565.2,287.1 566.9,286.2 567.5,286.5 568.8,286.0" stroke="#858585" stroke-width="0.9"/>
<polyline points="567.8,279.6 567.2,279.4 569.4,280.6 569.8,282.0 569.7,282.7" stroke="#858585" stroke-width="0.9"/>
<polyline points="566.7,282.9 566.9,280.8 567.7,280.2 568.2,277.9 567.2,276.9" stroke="#858585" stroke-width="0.9"/>
<polyline points="563.8,284.9 564.6,282.3 563.5,281.5 563.3,280.5 564.6,278.6" stroke="#858585" stroke-width="0.9"/>
<polyline points="563.4,284.4 562.4,283.9 561.6,283.4 559.8,282.4 559.5,283.1" stroke="#858585" stroke-width="0.9"/>
<polyline points="562.4,286.3 560.0,286.4 558.9,285.3 558.4,286.6 557.9,285.5" stroke="#858585" stroke-width="0.9"/>
<polyline points="564.1,291.0 562.9,290.8 561.8,289.9 561.0,290.0 560.6,291.2" stroke="#858585" stroke-width="0.9"/>
<polyline points="569.0,274.2 567.3,273.2 565.7,274.3 563.5,272.4 562.2,272.7" stroke="#858585" stroke-width="0.9"/>
<polyline points="568.7,281.7 569.2,283.9 568.6,283.9 568.5,285.3 568.3,287.2" stroke="#858585" stroke-width="0.9"/>
<polyline points="576.3,305.1 577.9,306.7 578.3,307.9 577.5,308.9 578.6,308.7" stroke="#858585" stroke-width="0.9"/>
<polyline points="561.4,301.1 561.7,299.1 561.5,299.5 559.0,298.7 559.5,299.2" stroke="#858585" stroke-width="0.9"/>
<polyline points="588.6,301.7 588.4,301.4 589.5,301.1 590.6,299.5 590.5,299.1" stroke="#858585" stroke-width="0.9"/>
<polyline points="567.2,297.9 567.3,296.8 564.8,295.9 563.1,296.3 561.3,296.5" stroke="#858585" stroke-width="0.9"/>
<polyline points="580.9,307.0 581.1,308.4 581.0,308.3 580.3,310.4 578.5,310.3" stroke="#858585" stroke-width="0.9"/>
<polyline points="558.4,300.2 559.5,300.7 558.6,299.3 560.2,298.3 559.1,298.8" stroke="#858585" stroke-width="0.9"/>
<polyline points="591.6,314.1 591.1,313.4 590.2,312.9 589.7,312.7 590.1,311.5" stroke="#858585" stroke-width="0.9"/>
<polyline points="581.1,292.4 581.0,291.3 581.6,288.8 581.3,288.4 581.0,286.4" stroke="#858585" stroke-width="0.9"/>
<polyline points="563.7,302.9 563.0,304.9 562.2,304.2 562.0,306.2 560.3,307.8" stroke="#858585" stroke-width="0.9"/>
<polyline points="577.3,319.2 577.8,320.8 577.9,323.0 576.4,324.0 577.8,325.8" stroke="#858585" stroke-width="0.9"/>
<polyline points="572.5,295.7 572.0,294.7 574.3,292.8 573.8,291.8 574.4,290.0" stroke="#858585" stroke-width="0.9"/>
<polyline points="562.7,307.8 564.8,308.5 565.4,308.2 565.6,309.6 566.1,311.1" stroke="#858585" stroke-width="0.9"/>
<polyline points="575.8,296.8 575.9,297.8 575.4,298.8 575.0,299.6 576.6,300.6" stroke="#858585" stroke-width="0.9"/>
<polyline points="576.7,308.0 577.8,308.6 578.7,309.1 579.9,308.4 581.4,309.1" stroke="#858585" stroke-width="0.9"/>
<polyline points="572.3,306.2 570.5,307.0 570.6,306.3 569.1,307.9 570.1,307.3" stroke="#858585" stroke-width="0.9"/>
<polyline points="573.7,298.9 573.2,299.4 574.6,298.9 575.0,299.1 577.2,301.1" stroke="#858585" stroke-width="0.9"/>
<polyline points="570.8,314.5 570.4,314.2 570.2,315.0 571.2,317.6 570.8,317.6" stroke="#858585" stroke-width="0.9"/>
<polyline points="589.4,304.4 590.5,304.1 591.0,302.7 592.2,302.7 594.4,300.7" stroke="#858585" stroke-width="0.9"/>
<polyline points="588.6,298.6 589.6,296.4 589.5,295.0 591.6,294.3 591.6,294.0" stroke="#858585" stroke-width="0.9"/>
<polyline points="586.2,296.3 584.6,294.3 585.5,293.3 583.9,293.5 583.2,292.1" stroke="#858585" stroke-width="0.9"/>
<polyline points="572.4,320.4 573.5,318.8 575.9,317.9 577.7,317.5 579.4,318.3" stroke="#858585" stroke-width="0.9"/>
<polyline points="583.4,299.0 583.3,299.2 583.1,302.2 583.9,303.4 583.7,304.0" stroke="#858585" stroke-width="0.9"/>
<polyline points="560.1,303.3 559.7,303.6 557.5,304.6 557.1,305.2 555.8,304.5" stroke="#858585" stroke-width="0.9"/>
<polyline points="564.4,308.8 565.4,310.5 563.5,310.3 564.3,311.8 564.1,314.2" stroke="#858585" stroke-width="0.9"/>
<polyline points="559.2,301.8 557.7,300.8 557.5,301.2 557.8,301.8 555.4,300.3" stroke="#858585" stroke-width="0.9"/>
<polyline points="557.2,314.3 557.5,312.7 556.3,312.5 554.9,310.2 554.8,309.1" stroke="#858585" stroke-width="0.9"/>
<polyline points="583.6,321.6 583.6,321.2 583.7,322.8 584.2,323.4 583.0,324.3" stroke="#858585" stroke-width="0.9"/>
<polyline points="567.9,296.5 568.6,294.4 568.6,294.0 569.3,291.8 568.7,290.3" stroke="#858585" stroke-width="0.9"/>
<polyline points="592.8,308.8 594.0,307.7 593.8,310.1 595.1,310.8 595.3,309.9" stroke="#858585" stroke-width="0.9"/>
<polyline points="575.1,319.0 575.0,320.0 575.8,319.3 577.1,321.7 576.5,322.2" stroke="#858585" stroke-width="0.9"/>
<polyline points="555.1,302.6 557.1,302.4 557.6,301.3 559.5,302.4 560.3,301.8" stroke="#858585" stroke-width="0.9"/>
<polyline points="568.6,320.0 568.2,321.0 567.5,321.4 566.1,322.9 566.1,323.9" stroke="#858585" stroke-width="0.9"/>
<polyline points="559.2,300.1 559.9,300.2 561.1,301.9 562.9,303.0 564.9,302.4" stroke="#858585" stroke-width="0.9"/>
<polyline points="584.5,323.3 584.5,324.3 585.7,326.0 586.5,327.3 587.9,327.9" stroke="#858585" stroke-width="0.9"/>
<polyline points="566.8,304.2 566.7,304.4 564.4,306.8 563.7,306.9 563.1,307.9" stroke="#858585" stroke-width="0.9"/>
<polyline points="579.1,311.4 576.7,311.0 574.8,312.1 575.1,311.8 572.1,310.9" stroke="#858585" stroke-width="0.9"/>
<polyline points="592.1,315.6 594.2,315.2 593.6,316.1 595.5,316.7 596.7,315.7" stroke="#858585" stroke-width="0.9"/>
<polyline points="590.2,314.4 590.4,313.7 589.5,311.9 587.5,311.3 587.1,311.6" stroke="#858585" stroke-width="0.9"/>
<polyline points="567.2,301.7 568.6,301.8 568.0,300.4 569.8,300.9 571.2,300.7" stroke="#858585" stroke-width="0.9"/>
<polyline points="578.4,312.1 579.1,313.7 577.5,315.7 578.1,317.1 577.6,317.2" stroke="#858585" stroke-width="0.9"/>
<polyline points="583.1,313.6 582.2,315.1 580.3,317.3 579.8,316.9 577.0,319.3" stroke="#858585" stroke-width="0.9"/>
<polyline points="569.4,292.3 570.5,291.2 571.2,290.9 572.4,292.2 573.9,290.7" stroke="#858585" stroke-width="0.9"/>
<polyline points="582.6,295.3 583.9,295.7 584.3,295.0 586.0,295.4 587.3,294.6" stroke="#858585" stroke-width="0.9"/>
<polyline points="561.9,314.6 563.3,315.6 562.4,316.6 562.5,318.1 563.2,318.2" stroke="#858585" stroke-width="0.9"/>
<polyline points="570.1,314.3 568.8,314.3 568.9,313.8 568.8,311.9 567.1,311.0" stroke="#858585" stroke-width="0.9"/>
<polyline points="562.9,311.9 562.9,312.9 563.7,313.6 565.3,314.6 565.4,314.9" stroke="#858585" stroke-width="0.9"/>
<polyline points="579.9,308.0 580.1,305.5 579.9,303.7 578.6,303.5 578.6,301.4" stroke="#858585" stroke-width="0.9"/>
<polyline points="575.3,298.8 575.9,298.4 574.5,300.6 575.1,301.4 573.2,301.8" stroke="#858585" stroke-width="0.9"/>
<polyline points="564.9,299.9 564.2,301.7 561.6,303.2 559.8,303.8 558.0,304.3" stroke="#858585" stroke-width="0.9"/>
<polyline points="561.3,317.2 562.0,316.9 560.9,315.5 560.9,316.1 559.7,314.4" stroke="#858585" stroke-width="0.9"/>
<polyline points="579.8,309.5 580.4,308.4 581.1,306.7 581.5,304.8 581.3,303.4" stroke="#858585" stroke-width="0.9"/>
<polyline points="589.8,297.1 588.7,297.1 588.4,296.8 586.4,297.0 585.4,297.2" stroke="#858585" stroke-width="0.9"/>
<polyline points="568.4,301.6 568.0,302.8 567.2,302.9 566.0,304.9 567.0,305.3" stroke="#858585" stroke-width="0.9"/>
<polyline points="579.2,315.3 579.3,314.5 578.6,312.0 578.5,311.0 577.6,309.8" stroke="#858585" stroke-width="0.9"/>
<polyline points="586.2,297.3 588.4,297.5 590.2,298.1 591.2,296.2 592.9,295.8" stroke="#858585" stroke-width="0.9"/>
<polyline points="590.1,295.5 590.0,295.7 591.4,298.0 593.4,298.3 594.2,299.6" stroke="#858585" stroke-width="0.9"/>
<polyline points="568.0,300.2 567.6,299.4 566.1,297.4 564.9,297.4 565.1,295.9" stroke="#858585" stroke-width="0.9"/>
<polyline points="571.8,301.0 573.8,301.1 575.1,300.4 574.9,300.3 575.8,299.2" stroke="#858585" stroke-width="0.9"/>
<polyline points="567.4,304.2 566.0,306.3 563.1,306.2 562.0,307.2 560.6,306.3" stroke="#858585" stroke-width="0.9"/>
<polyline points="589.0,303.3 588.1,305.3 586.8,306.3 585.2,308.0 583.9,308.6" stroke="#858585" stroke-width="0.9"/>
<polyline points="586.4,306.2 585.2,304.5 584.8,303.4 584.3,304.0 583.0,302.0" stroke="#858585" stroke-width="0.9"/>
<polyline points="574.1,318.0 574.2,318.4 576.3,318.2 577.3,317.6 578.2,317.1" stroke="#858585" stroke-width="0.9"/>
<polyline points="581.5,302.6 583.1,302.0 584.8,300.7 585.4,299.9 586.7,299.4" stroke="#858585" stroke-width="0.9"/>
<polyline points="568.2,299.9 568.4,300.0 570.1,299.1 569.4,298.2 571.5,296.9" stroke="#858585" stroke-width="0.9"/>
<polyline points="579.4,301.3 578.5,304.3 580.2,304.8 580.5,306.3 580.2,307.9" stroke="#858585" stroke-width="0.9"/>
<polyline points="584.3,308.7 583.4,309.8 582.5,309.3 579.7,310.1 579.2,308.6" stroke="#858585" stroke-width="0.9"/>
<polyline points="563.9,306.7 564.8,304.6 563.5,303.9 564.3,302.3 564.0,301.3" stroke="#858585" stroke-width="0.9"/>
<polyline points="582.6,321.1 582.0,320.4 580.5,320.5 577.7,318.6 577.3,316.9" stroke="#858585" stroke-width="0.9"/>
<polyline points="559.9,319.9 558.9,318.6 557.7,320.0 556.7,320.0 556.7,319.6" stroke="#858585" stroke-width="0.9"/>
<polyline points="579.8,315.5 578.6,315.7 577.2,315.2 575.8,315.2 573.9,314.7" stroke="#858585" stroke-width="0.9"/>
<polyline points="570.5,296.7 571.7,297.0 571.2,298.0 571.3,298.6 572.0,297.8" stroke="#858585" stroke-width="0.9"/>
<polyline points="566.1,313.1 565.6,315.6 566.8,316.1 566.3,318.9 565.6,320.7" stroke="#858585" stroke-width="0.9"/>
<polyline points="591.7,298.1 592.8,296.9 593.7,295.8 591.8,293.8 592.3,291.8" stroke="#858585" stroke-width="0.9"/>
<polyline points="582.1,323.1 581.4,322.4 580.9,320.2 579.2,318.9 578.4,317.9" stroke="#858585" stroke-width="0.9"/>
<polyline points="559.7,308.5 559.0,309.7 561.5,308.0 561.3,309.4 562.2,308.5" stroke="#858585" stroke-width="0.9"/>
<polyline points="560.5,313.0 560.0,313.3 562.5,315.2 562.3,315.5 563.8,317.3" stroke="#858585" stroke-width="0.9"/>
<polyline points="567.9,300.5 565.6,301.8 564.9,300.8 564.4,301.7 563.2,301.0" stroke="#858585" stroke-width="0.9"/>
<polyline points="564.4,310.5 565.3,313.7 566.3,315.1 568.1,315.0 568.2,318.0" stroke="#858585" stroke-width="0.9"/>
<polyline points="581.0,309.2 579.0,311.2 578.2,312.5 578.1,314.2 576.7,314.3" stroke="#858585" stroke-width="0.9"/>
<polyline points="560.3,301.6 563.4,302.1 564.6,302.8 564.8,305.5 566.8,305.8" stroke="#858585" stroke-width="0.9"/>
<polyline points="567.9,311.0 568.4,311.4 568.8,311.8 569.8,310.7 571.2,311.5" stroke="#858585" stroke-width="0.9"/>
<polyline points="584.4,307.7 583.5,307.9 583.9,307.7 581.4,306.8 580.3,306.3" stroke="#858585" stroke-width="0.9"/>
<polyline points="569.2,300.2 569.8,299.8 571.5,299.7 571.7,299.6 572.0,300.1" stroke="#858585" stroke-width="0.9"/>
<polyline points="581.2,301.5 581.3,301.9 581.5,301.0 580.5,300.3 580.4,298.7" stroke="#858585" stroke-width="0.9"/>
<polyline points="568.8,320.2 568.4,317.3 568.5,316.0 569.2,316.2 567.8,313.9" stroke="#858585" stroke-width="0.9"/>
<polyline points="575.5,314.5 576.1,314.7 576.9,315.2 577.1,316.3 577.2,317.1" stroke="#858585" stroke-width="0.9"/>
<polyline points="571.1,322.4 571.3,322.3 572.1,323.1 574.4,322.9 575.2,323.8" stroke="#858585" stroke-width="0.9"/>
<polyline points="557.4,317.0 558.8,315.8 560.4,316.0 561.5,317.0 563.2,315.4" stroke="#858585" stroke-width="0.9"/>
<polyline points="562.7,317.8 562.0,318.1 564.4,316.1 564.2,315.5 566.3,314.5" stroke="#858585" stroke-width="0.9"/>
<polyline points="562.3,305.8 561.8,306.1 564.3,304.5 564.4,303.7 565.8,303.8" stroke="#858585" stroke-width="0.9"/>
<polyline points="586.7,308.0 587.6,308.5 590.3,309.4 591.1,308.3 593.2,309.3" stroke="#858585" stroke-width="0.9"/>
<polyline points="583.8,298.5 583.0,298.7 583.0,298.1 583.5,298.3 581.8,296.9" stroke="#858585" stroke-width="0.9"/>
<polyline points="574.6,315.3 573.6,315.4 573.1,313.5 572.7,312.6 572.7,311.9" stroke="#858585" stroke-width="0.9"/>
<polyline points="591.8,301.9 591.2,301.3 590.5,301.6 589.4,301.5 587.3,300.3" stroke="#858585" stroke-width="0.9"/>
<polyline points="565.8,304.8 564.0,304.1 564.1,303.0 564.6,300.4 564.7,300.9" stroke="#858585" stroke-width="0.9"/>
<polyline points="581.5,294.1 582.3,293.7 582.9,293.2 584.9,293.2 586.2,292.6" stroke="#858585" stroke-width="0.9"/>
<polyline points="558.2,307.4 561.1,307.5 561.7,308.6 563.3,308.6 564.9,309.0" stroke="#858585" stroke-width="0.9"/>
<polyline points="556.2,306.9 555.6,305.0 554.2,304.5 552.0,303.5 552.6,304.3" stroke="#858585" stroke-width="0.9"/>
<polyline points="587.4,308.4 585.9,309.8 585.7,309.5 584.5,309.9 583.7,310.2" stroke="#858585" stroke-width="0.9"/>
<polyline points="588.9,319.8 587.5,318.1 584.6,318.6 584.8,316.9 582.8,315.4" stroke="#858585" stroke-width="0.9"/>
<polyline points="582.7,320.3 583.7,318.5 584.1,319.0 585.8,318.6 586.5,318.9" stroke="#858585" stroke-width="0.9"/>
<polyline points="573.8,321.5 573.3,322.0 571.5,323.7 571.7,324.6 569.4,325.3" stroke="#858585" stroke-width="0.9"/>
<polyline points="558.1,313.5 558.8,314.5 560.0,315.3 560.2,314.9 561.0,315.5" stroke="#858585" stroke-width="0.9"/>
<polyline points="569.6,308.8 569.6,308.6 567.9,310.3 568.3,310.8 567.1,312.7" stroke="#858585" stroke-width="0.9"/>
<polyline points="574.4,322.9 574.5,322.8 573.6,323.4 574.3,325.1 572.3,325.9" stroke="#858585" stroke-width="0.9"/>
<polyline points="566.3,297.3 567.5,296.2 567.5,296.1 568.4,293.7 568.9,294.3" stroke="#858585" stroke-width="0.9"/>
<polyline points="571.5,300.2 569.2,298.6 570.1,296.6 569.7,296.3 569.2,295.0" stroke="#858585" stroke-width="0.9"/>
<polyline points="590.4,299.7 589.5,299.5 589.7,297.2 588.9,296.8 589.8,294.5" stroke="#858585" stroke-width="0.9"/>
<polyline points="572.3,313.2 573.8,313.3 573.7,314.9 576.3,315.1 577.0,316.7" stroke="#858585" stroke-width="0.9"/>
<polyline points="579.5,301.4 579.2,301.8 579.4,300.9 577.0,301.3 576.3,298.8" stroke="#858585" stroke-width="0.9"/>
<polyline points="559.0,301.2 559.0,300.7 560.1,298.1 560.3,297.6 560.7,295.0" stroke="#858585" stroke-width="0.9"/>
<polyline points="582.4,304.4 581.1,303.1 581.1,303.5 580.8,302.2 579.7,302.3" stroke="#858585" stroke-width="0.9"/>
<polyline points="574.8,313.4 576.6,314.6 577.3,314.8 576.0,316.7 576.9,317.2" stroke="#858585" stroke-width="0.9"/>
<polyline points="572.0,293.8 571.6,295.2 572.4,295.6 573.3,297.0 572.0,299.8" stroke="#858585" stroke-width="0.9"/>
<polyline points="584.4,297.9 585.1,296.4 585.2,294.5 585.6,293.8 586.0,293.1" stroke="#858585" stroke-width="0.9"/>
<polyline points="582.0,317.8 581.9,318.4 581.7,321.0 582.1,321.2 580.3,323.4" stroke="#858585" stroke-width="0.9"/>
<polyline points="583.9,292.6 583.1,293.4 581.9,294.6 582.3,295.7 582.0,295.5" stroke="#858585" stroke-width="0.9"/>
<polyline points="594.3,301.7 592.7,302.4 593.3,301.5 591.5,299.7 591.2,299.6" stroke="#858585" stroke-width="0.9"/>
<polyline points="561.1,305.9 562.3,304.2 563.3,303.9 564.3,303.3 564.1,302.6" stroke="#858585" stroke-width="0.9"/>
<polyline points="559.0,313.0 559.9,313.6 559.5,312.4 559.0,310.1 557.0,309.3" stroke="#858585" stroke-width="0.9"/>
<polyline points="583.1,300.2 584.1,300.3 584.3,301.1 584.4,301.3 583.9,302.3" stroke="#858585" stroke-width="0.9"/>
<polyline points="557.3,299.7 555.4,300.2 554.3,300.2 553.9,299.8 553.3,300.3" stroke="#858585" stroke-width="0.9"/>
<polyline points="583.0,324.9 584.1,323.6 584.4,323.0 585.9,323.5 585.2,323.8" stroke="#858585" stroke-width="0.9"/>
<polyline points="571.7,304.7 573.1,306.0 574.8,306.2 575.7,308.4 578.9,308.8" stroke="#858585" stroke-width="0.9"/>
<polyline points="566.5,312.6 565.8,313.4 567.2,314.4 566.1,315.4 566.7,317.3" stroke="#858585" stroke-width="0.9"/>
<polyline points="570.9,319.2 570.5,319.6 570.7,320.5 569.7,322.5 567.3,322.1" stroke="#858585" stroke-width="0.9"/>
<polyline points="593.3,300.0 592.8,299.3 592.2,299.9 591.1,299.6 589.8,299.0" stroke="#858585" stroke-width="0.9"/>
<polyline points="577.5,293.7 578.4,294.4 579.4,296.7 579.9,298.1 579.3,299.3" stroke="#858585" stroke-width="0.9"/>
<polyline points="571.9,310.1 573.4,309.7 573.4,308.8 574.0,308.5 574.6,306.3" stroke="#858585" stroke-width="0.9"/>
<polyline points="575.9,319.0 574.6,318.5 573.1,320.1 572.2,319.0 570.6,318.6" stroke="#858585" stroke-width="0.9"/>
<polyline points="560.1,315.7 562.5,316.6 563.2,314.8 562.9,314.4 565.4,313.6" stroke="#858585" stroke-width="0.9"/>
<polyline points="580.0,306.0 580.2,305.0 580.4,302.6 582.1,301.1 582.6,300.9" stroke="#858585" stroke-width="0.9"/>
<polyline points="583.7,299.2 583.5,300.0 582.6,298.0 583.5,296.8 583.5,295.6" stroke="#858585" stroke-width="0.9"/>
<polyline points="593.0,311.1 591.5,313.6 590.3,314.7 590.4,314.9 589.9,315.8" stroke="#858585" stroke-width="0.9"/>
<polyline points="578.3,296.4 578.4,295.3 577.9,294.8 577.9,293.8 576.9,292.9" stroke="#858585" stroke-width="0.9"/>
<polyline points="564.3,309.7 565.2,309.6 566.8,309.4 568.0,311.3 569.9,310.3" stroke="#858585" stroke-width="0.9"/>
<polyline points="559.0,310.5 558.6,310.2 557.2,309.2 556.3,310.5 554.3,310.3" stroke="#858585" stroke-width="0.9"/>
<polyline points="565.6,309.0 566.2,307.9 566.4,308.9 568.6,307.5 568.1,309.0" stroke="#858585" stroke-width="0.9"/>
<polyline points="567.8,294.3 569.0,294.1 568.3,291.9 569.4,292.1 570.1,290.2" stroke="#858585" stroke-width="0.9"/>
<polyline points="583.9,317.5 585.3,317.7 585.6,317.7 587.1,318.5 588.1,318.4" stroke="#858585" stroke-width="0.9"/>
<polyline points="586.2,299.1 584.4,297.5 582.8,297.8 581.0,296.8 579.4,296.1" stroke="#858585" stroke-width="0.9"/>
<polyline points="558.5,310.3 558.7,308.1 557.0,307.0 556.2,306.6 555.5,305.8" stroke="#858585" stroke-width="0.9"/>
<polyline points="583.1,294.0 582.9,295.3 582.8,296.4 582.2,295.3 581.3,296.4" stroke="#858585" stroke-width="0.9"/>
<polyline points="578.1,318.1 578.7,318.6 579.8,319.5 579.8,321.3 578.7,321.8" stroke="#858585" stroke-width="0.9"/>
<polyline points="565.1,315.5 564.8,315.6 566.4,314.4 568.5,314.0 569.8,314.0" stroke="#858585" stroke-width="0.9"/>
<polyline points="566.5,293.5 569.6,293.3 570.3,293.3 571.6,294.2 574.6,293.1" stroke="#858585" stroke-width="0.9"/>
<polyline points="587.8,293.8 584.9,293.1 584.6,292.5 584.5,291.5 582.6,289.5" stroke="#858585" stroke-width="0.9"/>
<polyline points="566.3,316.6 563.7,317.1 563.5,317.4 563.3,317.9 563.2,318.1" stroke="#858585" stroke-width="0.9"/>
<polyline points="579.5,315.4 581.2,313.7 581.5,313.7 583.6,312.2 585.8,311.9" stroke="#858585" stroke-width="0.9"/>
<polyline points="576.6,291.9 575.4,292.1 574.0,294.1 574.2,294.6 573.5,296.9" stroke="#858585" stroke-width="0.9"/>
<polyline points="583.9,296.5 585.9,296.3 586.2,297.8 587.2,299.9 586.1,299.0" stroke="#858585" stroke-width="0.9"/>
<polyline points="562.2,300.6 561.0,298.9 561.7,298.0 561.8,297.2 561.2,295.0" stroke="#858585" stroke-width="0.9"/>
<polyline points="587.5,301.2 587.9,298.4 585.7,297.4 584.9,297.3 584.0,295.1" stroke="#858585" stroke-width="0.9"/>
<polyline points="589.9,295.1 589.7,295.5 589.2,293.5 588.6,290.7 589.5,289.4" stroke="#858585" stroke-width="0.9"/>
<polyline points="564.7,315.5 566.7,316.5 566.5,317.0 566.6,318.7 567.6,319.4" stroke="#858585" stroke-width="0.9"/>
<polyline points="557.3,296.4 557.6,296.2 558.9,294.6 557.7,294.4 559.6,293.0" stroke="#858585" stroke-width="0.9"/>
<polyline points="573.9,313.4 574.3,314.6 572.6,314.8 571.2,316.0 571.2,315.7" stroke="#858585" stroke-width="0.9"/>
<polyline points="591.1,304.1 590.7,305.0 590.7,304.9 590.4,306.6 590.8,307.6" stroke="#858585" stroke-width="0.9"/>
<polyline points="576.5,296.2 575.4,296.9 574.0,297.6 572.9,297.3 572.0,297.8" stroke="#858585" stroke-width="0.9"/>
<polyline points="570.5,316.6 571.6,316.8 574.5,317.5 576.0,317.0 577.3,317.5" stroke="#858585" stroke-width="0.9"/>
<polyline points="558.7,307.8 558.7,309.0 556.4,309.3 555.1,308.1 555.2,308.0" stroke="#858585" stroke-width="0.9"/>
<polyline points="583.2,312.5 583.7,312.2 584.6,313.4 585.6,315.2 586.4,316.3" stroke="#858585" stroke-width="0.9"/>
<polyline points="562.6,305.6 561.6,306.8 559.6,306.8 558.8,308.0 558.8,309.6" stroke="#858585" stroke-width="0.9"/>
<polyline points="565.1,308.6 566.6,308.1 568.0,307.6 568.8,307.4 569.9,307.3" stroke="#858585" stroke-width="0.9"/>
<polyline points="578.7,299.6 579.9,300.6 580.3,301.6 580.6,302.9 582.8,305.6" stroke="#858585" stroke-width="0.9"/>
<polyline points="586.1,312.4 584.9,314.6 583.5,316.3 581.1,316.3 579.9,316.9" stroke="#858585" stroke-width="0.9"/>
<polyline points="576.0,305.6 577.4,305.7 578.7,307.3 580.0,306.5 581.1,308.0" stroke="#858585" stroke-width="0.9"/>
<polyline points="563.9,294.2 563.5,296.0 561.4,296.8 561.0,296.9 559.5,296.3" stroke="#858585" stroke-width="0.9"/>
<polyline points="580.9,308.9 580.9,309.8 582.3,310.3 583.7,312.3 583.9,313.8" stroke="#858585" stroke-width="0.9"/>
<polyline points="577.0,302.8 578.4,302.2 579.1,304.0 579.2,303.0 580.8,305.2" stroke="#858585" stroke-width="0.9"/>
<polyline points="559.1,319.8 559.0,318.6 560.0,316.4 559.8,315.9 561.3,314.3" stroke="#858585" stroke-width="0.9"/>
<polyline points="570.2,317.9 569.8,315.3 568.9,313.8 569.2,312.6 569.5,312.7" stroke="#858585" stroke-width="0.9"/>
<polyline points="571.3,321.0 572.0,319.2 572.3,318.1 574.3,317.2 575.2,316.6" stroke="#858585" stroke-width="0.9"/>
<polyline points="586.9,299.1 588.1,299.7 588.4,302.2 588.3,303.1 587.5,303.7" stroke="#858585" stroke-width="0.9"/>
<polyline points="570.9,298.8 571.9,297.7 572.8,295.7 573.2,293.7 574.4,293.3" stroke="#858585" stroke-width="0.9"/>
<polyline points="586.9,294.9 587.9,294.3 587.4,294.5 588.0,293.6 589.4,292.3" stroke="#858585" stroke-width="0.9"/>
<polyline points="579.4,309.8 578.8,309.5 578.5,308.1 578.3,306.0 576.9,304.4" stroke="#858585" stroke-width="0.9"/>
<polyline points="581.3,318.9 583.5,319.1 582.5,318.5 583.7,316.1 584.3,317.0" stroke="#858585" stroke-width="0.9"/>
<polyline points="593.0,305.9 594.3,304.6 595.7,307.0 596.1,307.3 598.0,306.7" stroke="#858585" stroke-width="0.9"/>
<polyline points="574.2,307.6 575.2,306.9 576.5,305.1 578.6,304.4 578.6,305.2" stroke="#858585" stroke-width="0.9"/>
<polyline points="571.4,299.5 569.4,300.9 567.6,300.6 566.4,300.5 564.4,299.7" stroke="#858585" stroke-width="0.9"/>
<polyline points="585.8,296.1 587.6,294.1 589.7,294.5 590.1,293.0 592.0,291.9" stroke="#858585" stroke-width="0.9"/>
<polyline points="168.1,616.1 167.3,617.8 166.7,618.2 164.2,621.5 163.6,621.8 164.1,623.9 162.4,625.0 161.5,628.4 160.4,629.9 159.8,630.2 159.1,633.2 158.9,634.3 158.1,636.6 157.7,638.1 156.5,639.3 156.2,641.0 154.8,640.7 156.0,642.5 154.5,643.6 153.6,645.1 152.6,646.9 152.8,649.0 152.8,650.5 151.9,650.0 151.9,653.2 151.5,653.7 150.9,654.6 149.2,654.3 150.0,657.3 147.9,657.8 148.1,657.2 148.9,658.4 148.1,659.7 148.1,661.7 148.3,664.5 147.2,665.9 146.5,664.7 144.7,666.4 144.7,666.7 142.6,669.2 142.3,670.3 141.7,670.3 141.2,671.4 140.1,672.3 140.0,673.0 137.9,674.4 138.9,675.3 137.8,675.5 137.3,678.1 136.2,679.5 137.3,679.6 137.6,681.7 137.9,683.9 136.6,683.8 138.3,687.1 137.6,687.4 138.6,688.4 139.4,690.3 140.0,691.1 141.8,691.7 142.2,694.5 144.3,694.6 144.5,696.3 147.2,696.7 148.0,698.4 150.7,699.9 151.6,701.1 154.8,701.5 155.4,701.6 158.1,702.5 160.7,704.7 163.1,704.3 165.5,703.7 166.4,703.5 170.2,703.5 171.7,703.8 174.9,702.6 174.9,703.8 178.8,703.3 179.9,702.6 182.9,700.4 183.6,700.8 183.9,700.3 185.0,699.4 187.0,699.7 188.7,699.0" stroke="#808080" stroke-width="1.15"/>
<polyline points="159.4,633.4 160.7,633.9 162.0,633.2 161.3,633.5 163.0,632.6 165.4,633.1 166.6,632.7 167.3,633.8 169.1,633.6 170.3,632.3 172.1,633.7 174.3,633.3 175.5,631.1 176.5,632.6 176.6,630.9 178.5,631.1" stroke="#808080" stroke-width="1.15"/>
<polyline points="161.8,625.9 163.6,623.9 163.0,623.2 164.2,622.1 167.0,622.8 166.1,621.0 167.7,620.3 169.2,618.7 169.3,617.6 170.2,617.1 172.5,615.7 172.9,615.8 175.0,614.9 176.3,615.1 176.6,614.1 178.0,614.4 179.0,613.2 180.3,613.9 180.4,613.1 182.2,613.8 184.5,612.4" stroke="#808080" stroke-width="1.15"/>
<polyline points="165.9,620.6 166.1,618.5 167.4,617.8 170.2,616.5 172.0,614.5 173.5,612.8 173.1,611.2 176.0,610.2 175.7,609.6 178.6,609.0 178.0,609.8" stroke="#808080" stroke-width="1.15"/>
<polyline points="155.5,640.8 158.5,640.5 160.9,639.7 162.4,638.2 164.1,639.0 165.8,637.8 166.2,639.0 169.1,640.7 170.2,640.0 172.0,641.6 175.0,641.8 175.0,642.8 175.3,643.9 178.2,644.6 178.6,645.0 179.4,647.3" stroke="#808080" stroke-width="1.15"/>
<polyline points="153.3,646.7 154.4,647.9 156.9,647.7 156.8,649.9 160.1,650.3 160.7,651.7 161.7,650.7 163.6,649.3 166.0,650.2 166.7,648.9 168.5,648.6" stroke="#808080" stroke-width="1.15"/>
<polyline points="150.8,655.2 151.8,655.1 154.2,656.4 155.3,656.8 157.5,658.1 158.9,659.1 161.0,658.5 163.1,657.7 163.7,657.8 165.9,656.9 167.0,657.9" stroke="#808080" stroke-width="1.15"/>
<polyline points="148.2,661.9 149.5,663.4 152.3,664.4 154.5,663.3 154.9,663.8 156.7,665.3 158.9,665.6 161.1,664.6 164.0,663.9 164.7,665.5 167.1,664.5" stroke="#808080" stroke-width="1.15"/>
<polyline points="145.2,669.7 145.7,668.9 148.5,669.3 149.8,669.5 153.2,669.1 154.1,668.5 154.5,670.2 157.6,668.4 159.1,669.0 160.0,669.9 160.4,669.7" stroke="#808080" stroke-width="1.15"/>
<polyline points="138.3,681.3 138.9,680.9 141.8,680.5 142.3,679.1 143.6,679.4 145.5,679.9 146.9,679.3 147.5,679.5 150.1,677.4 152.3,677.0 152.5,677.8" stroke="#808080" stroke-width="1.15"/>
<polyline points="139.5,687.6 142.1,686.7 143.8,685.4 145.8,685.9 149.8,684.8 152.2,683.7 155.0,682.8 156.7,683.0 159.8,683.1 161.3,683.0 164.3,683.6" stroke="#808080" stroke-width="1.15"/>
<polyline points="187.7,599.8 187.7,599.5 188.3,600.1 190.4,602.5 189.7,602.3 190.8,604.5 192.0,604.2 192.3,605.3 193.3,607.2 193.4,607.5 195.4,608.0" stroke="#808080" stroke-width="1.15"/>
<polyline points="175.7,606.9 177.0,604.7 177.1,604.2 178.3,604.0 179.4,601.6 180.8,601.0 179.7,600.6 182.0,599.0 182.5,597.9 182.5,597.1 183.0,596.0" stroke="#808080" stroke-width="1.15"/>
<polyline points="148.3,693.9 149.7,694.2 152.1,691.6 153.4,691.9 153.4,690.5 155.4,689.1 157.6,690.8 160.4,689.2 162.8,690.2 164.9,690.5 166.5,689.7" stroke="#808080" stroke-width="1.15"/>
<polyline points="180.0,601.3 180.1,601.1 181.1,601.7 182.3,602.5" stroke="#808080" stroke-width="1.15"/>
<polyline points="189.3,601.6 191.2,601.0 191.5,601.1 193.5,599.8" stroke="#808080" stroke-width="1.15"/>
<polyline points="164.3,649.0 166.3,648.8 166.7,648.7 167.2,648.6" stroke="#808080" stroke-width="1.15"/>
<polyline points="156.3,656.7 157.6,656.0 157.6,654.4 158.9,653.7" stroke="#808080" stroke-width="1.15"/>
<polyline points="145.6,696.8 146.9,697.4 148.2,698.8 150.3,699.4" stroke="#808080" stroke-width="1.15"/>
<polyline points="174.9,641.9 175.6,642.0 176.6,644.0 177.8,643.4" stroke="#808080" stroke-width="1.15"/>
<polyline points="155.4,656.6 155.6,655.8 156.7,656.3 156.3,655.8" stroke="#808080" stroke-width="1.15"/>
<polyline points="164.9,664.5 167.2,666.1 167.9,665.9 170.4,666.4" stroke="#808080" stroke-width="1.15"/>
<polyline points="163.8,657.9 164.2,658.2 165.2,657.4 166.9,658.0" stroke="#808080" stroke-width="1.15"/>
<polyline points="161.3,665.4 162.3,665.8 162.5,665.0 164.7,666.2" stroke="#808080" stroke-width="1.15"/>
<polyline points="177.2,631.8 177.7,631.4 177.6,630.7 178.5,629.1" stroke="#808080" stroke-width="1.15"/>
<polyline points="152.9,647.1 154.4,645.7 156.6,645.2 157.2,644.3" stroke="#808080" stroke-width="1.15"/>
<polyline points="147.2,685.1 147.0,684.5 147.6,683.9 148.0,683.0" stroke="#808080" stroke-width="1.15"/>
<polyline points="173.5,611.4 175.5,610.3 176.1,608.9 176.2,607.8" stroke="#808080" stroke-width="1.15"/>
<polyline points="152.9,691.6 154.6,691.1 156.6,692.1 158.1,691.8" stroke="#808080" stroke-width="1.15"/>
<polyline points="149.0,669.3 149.3,669.5 151.0,669.4 151.6,669.7" stroke="#808080" stroke-width="1.15"/>
<polyline points="167.7,616.9 168.2,617.5 170.1,618.9 170.8,619.8" stroke="#808080" stroke-width="1.15"/>
<polyline points="153.0,678.0 154.0,677.2 154.9,676.8 156.2,677.3" stroke="#808080" stroke-width="1.15"/>
<polyline points="157.7,639.8 158.9,637.9 159.7,637.1 160.0,636.0" stroke="#808080" stroke-width="1.15"/>
<polyline points="190.0,602.6 190.2,601.8 191.8,602.0 192.7,601.9" stroke="#808080" stroke-width="1.15"/>
<polyline points="163.4,683.8 164.6,683.0 166.1,681.1 167.7,680.9" stroke="#808080" stroke-width="1.15"/>
<polyline points="162.8,690.2 164.0,689.9 166.2,690.4 167.3,692.0" stroke="#808080" stroke-width="1.15"/>
<polyline points="167.9,647.8 168.7,646.5 169.3,645.8 169.3,645.2" stroke="#808080" stroke-width="1.15"/>
<polyline points="181.6,599.1 182.4,599.0 183.2,597.6 182.7,597.8" stroke="#808080" stroke-width="1.15"/>
<polyline points="181.7,598.0 182.5,599.0 184.9,599.7 185.5,599.8" stroke="#808080" stroke-width="1.15"/>
<polyline points="159.1,689.5 161.1,689.4 162.0,689.8 162.3,689.5" stroke="#808080" stroke-width="1.15"/>
<polyline points="175.0,643.2 176.5,642.6 177.2,640.7 178.1,640.7" stroke="#808080" stroke-width="1.15"/>
<polyline points="150.3,663.4 152.2,663.3 154.5,664.0 155.8,663.1" stroke="#808080" stroke-width="1.15"/>
<polyline points="157.4,649.2 158.4,649.9 160.1,650.7 160.2,651.0" stroke="#808080" stroke-width="1.15"/>
<polyline points="155.4,656.3 156.5,657.0 158.0,658.8 159.4,659.6" stroke="#808080" stroke-width="1.15"/>
<polyline points="189.0,601.2 189.8,601.7 190.7,601.9 192.4,603.3" stroke="#808080" stroke-width="1.15"/>
<polyline points="164.4,664.3 164.0,664.7 165.4,663.0 165.9,663.1" stroke="#808080" stroke-width="1.15"/>
<polyline points="154.0,656.2 154.7,656.0 156.0,655.8 156.5,654.4" stroke="#808080" stroke-width="1.15"/>
<polyline points="161.3,651.1 161.7,650.1 161.5,649.5 163.2,649.4" stroke="#808080" stroke-width="1.15"/>
<polyline points="148.7,678.9 149.3,678.4 151.4,678.5 151.5,678.4" stroke="#808080" stroke-width="1.15"/>
<polyline points="150.7,692.1 151.5,692.5 152.2,692.7 152.3,693.3" stroke="#808080" stroke-width="1.15"/>
<polyline points="149.2,678.3 149.4,678.6 150.4,678.6 151.2,678.5" stroke="#808080" stroke-width="1.15"/>
<polyline points="168.3,647.9 168.0,648.6 169.8,648.6 170.5,648.8" stroke="#808080" stroke-width="1.15"/>
<polyline points="166.0,639.3 167.7,639.0 168.3,637.4 170.2,636.8" stroke="#808080" stroke-width="1.15"/>
<polyline points="157.8,639.7 158.6,639.3 159.4,639.2 160.6,638.5" stroke="#808080" stroke-width="1.15"/>
<polyline points="208.8,709.9 213.3,711.9 215.9,712.3 218.5,712.1 218.9,713.3 221.6,715.8 224.2,716.8" stroke="#808080" stroke-width="1.15"/>
<polyline points="230.1,717.1 231.7,718.3 233.6,719.9 235.6,719.1 237.8,719.8 237.5,721.4 239.2,721.8" stroke="#808080" stroke-width="1.15"/>
<polyline points="249.7,726.1 251.7,727.0 253.6,727.9 257.0,727.8 258.8,729.7 259.6,731.0 261.1,731.0" stroke="#808080" stroke-width="1.15"/>
<polyline points="190.1,699.4 192.1,700.9 192.9,702.9 196.2,703.4 196.4,705.5 198.4,706.7 199.5,707.0" stroke="#808080" stroke-width="1.15"/>
<polyline points="301.1,728.1 301.1,729.2 304.4,729.7 306.7,729.1 307.9,729.6 310.5,731.6 311.3,731.4" stroke="#808080" stroke-width="1.15"/>
<polyline points="319.6,726.6 321.6,726.4 323.6,727.7 325.1,726.9 326.9,729.6 330.1,730.3 332.4,728.9" stroke="#808080" stroke-width="1.15"/>
<polyline points="198.0,587.2 199.4,590.2 200.5,592.5 201.2,593.9 201.2,596.1" stroke="#808080" stroke-width="1.15"/>
<polyline points="204.8,582.3 206.0,584.2 205.2,587.1 206.1,589.4 206.5,590.7" stroke="#808080" stroke-width="1.15"/>
<polyline points="217.6,578.9 218.0,580.9 219.4,582.0 220.5,582.7 222.6,584.2" stroke="#808080" stroke-width="1.15"/>
<polyline points="191.3,596.9 191.8,599.7 192.6,601.5 194.3,604.6 194.4,607.7" stroke="#808080" stroke-width="1.15"/>
<polyline points="211.7,581.2 211.1,583.1 211.4,584.7 213.2,586.1 212.3,587.4" stroke="#808080" stroke-width="1.15"/>
<polyline points="185.5,599.4 186.5,602.2 186.6,604.2 187.5,606.1 187.7,608.6" stroke="#808080" stroke-width="1.15"/>
<polyline points="181.8,603.8 182.1,606.4 181.7,607.6 180.2,609.7 179.9,611.3" stroke="#808080" stroke-width="1.15"/>
<polyline points="177.1,607.7 177.1,610.2 175.9,611.6 175.9,613.7 174.4,615.5" stroke="#808080" stroke-width="1.15"/>
<polyline points="500.5,499.7 502.4,500.5 503.6,501.0 506.2,501.4 507.5,502.8 509.4,503.6" stroke="#808080" stroke-width="1.15"/>
<polyline points="512.0,523.0 512.5,521.4 512.8,518.4 511.8,517.1 512.1,514.6 512.4,512.7" stroke="#808080" stroke-width="1.15"/>
<polyline points="504.9,500.0 505.5,502.0 506.3,503.0 507.3,504.5" stroke="#808080" stroke-width="1.15"/>
<polyline points="757.5,48.0 755.6,54.0 755.0,60.0" stroke="#123de3" stroke-width="3.0"/>
<polyline points="755.0,60.0 755.0,65.0" stroke="#1e54c0" stroke-width="3.0"/>
<polyline points="755.0,65.0 756.2,71.0 755.0,77.5 755.0,84.0 755.6,90.0 755.0,96.0" stroke="#227b8d" stroke-width="3.0"/>
<polyline points="755.0,96.0 753.8,102.5 751.9,110.0 749.4,117.5" stroke="#2d8476" stroke-width="3.0"/>
<polyline points="749.4,117.5 745.0,125.0 741.2,130.0" stroke="#3d9350" stroke-width="3.0"/>
<polyline points="741.2,130.0 737.5,137.5 733.8,145.0 730.0,151.2 725.0,158.8 721.2,166.2 717.5,173.8 713.8,182.5 710.0,191.2 706.2,200.0 702.5,208.8 697.5,217.5 692.5,226.2 690.6,230.0 683.8,240.0 680.0,245.0 676.2,251.2 671.2,258.8 666.2,266.2 662.5,273.8" stroke="#52a52f" stroke-width="3.0"/>
<polyline points="748.8,90.0 748.8,96.0 748.0,102.5 746.2,110.0" stroke="#1643da" stroke-width="3.0"/>
<polyline points="746.2,110.0 743.8,115.0 740.0,121.0 736.2,128.8 733.8,135.0" stroke="#1f7498" stroke-width="3.0"/>
<polyline points="740.6,104.4 738.8,110.0 737.5,116.2" stroke="#1643da" stroke-width="3.0"/>
<polyline points="737.5,116.2 735.0,125.0 732.5,132.5 730.0,138.8" stroke="#1f7498" stroke-width="3.0"/>
<polyline points="733.8,130.0 730.0,137.5 725.0,143.8 721.2,151.2 717.5,160.0 715.6,167.5 713.8,176.2" stroke="#268082" stroke-width="3.0"/>
<polyline points="713.8,176.2 710.0,185.0 705.0,195.0" stroke="#33886a" stroke-width="3.0"/>
<polyline points="705.0,195.0 700.0,205.0 695.0,215.0 690.0,225.0 685.0,234.0 680.0,243.0 677.0,249.0" stroke="#3d9350" stroke-width="3.0"/>
<polyline points="658.0,272.5 653.8,280.0 648.8,286.2 643.8,292.5 640.0,297.5 633.8,302.5 627.5,306.2 622.5,310.0 617.5,316.2 612.5,322.5" stroke="#82b61a" stroke-width="3.0"/>
<polyline points="612.5,322.5 607.5,327.5 602.5,330.0 597.5,332.5 592.5,333.8 585.0,335.0" stroke="#c0c21f" stroke-width="3.0"/>
<polyline points="664.4,250.6 660.0,258.0 655.6,266.9" stroke="#123de3" stroke-width="3.0"/>
<polyline points="667.5,255.6 662.0,262.0 658.0,268.0" stroke="#268082" stroke-width="3.0"/>
<polyline points="655.6,268.0 648.8,272.5 642.5,277.5 638.8,281.2 636.2,286.2 632.5,292.5 628.8,298.8 625.0,305.0 620.0,311.2 615.0,317.5 610.0,322.5" stroke="#4ca038" stroke-width="3.0"/>
<polyline points="626.2,298.0 620.0,306.0" stroke="#2d8476" stroke-width="3.0"/>
<polyline points="688.8,260.0 685.0,265.0 680.0,272.5 676.2,277.5 672.5,278.8" stroke="#c0c21f" stroke-width="3.0"/>
<polyline points="697.5,249.5 693.0,255.0 688.8,260.0" stroke="#e5c624" stroke-width="3.0"/>
<polyline points="672.5,278.8 667.5,285.0 662.5,292.5 657.5,298.8 652.5,303.8 647.5,308.8 642.5,313.8 637.5,317.5 632.5,322.5 627.5,328.8 621.2,335.0 616.2,340.0 607.5,347.5 597.5,350.0" stroke="#f8ad20" stroke-width="3.0"/>
<polyline points="634.4,308.0 626.2,326.2" stroke="#5eac23" stroke-width="3.0"/>
<polyline points="620.6,317.5 618.8,325.0" stroke="#52a52f" stroke-width="3.0"/>
<polyline points="633.8,328.8 627.5,338.8 620.0,344.0" stroke="#5eac23" stroke-width="3.0"/>
<polyline points="663.8,304.4 661.2,311.2 655.0,316.2 647.5,322.5 642.5,330.0 638.8,337.5" stroke="#a5bc1c" stroke-width="3.0"/>
<polyline points="588.0,326.2 602.5,326.2" stroke="#edc324" stroke-width="3.0"/>
<polyline points="590.0,338.8 601.0,339.4" stroke="#268082" stroke-width="3.0"/>
<polyline points="725.0,319.0 733.8,319.5" stroke="#268082" stroke-width="3.0"/>
<polyline points="733.8,321.2 742.5,315.0 748.8,305.0 752.5,295.0 756.2,282.5" stroke="#cec421" stroke-width="3.0"/>
<polyline points="756.2,282.5 761.2,267.5" stroke="#98ba1a" stroke-width="3.0"/>
<polyline points="727.5,320.0 715.0,327.5 705.0,334.0 695.0,341.0 680.0,347.5 662.5,352.5" stroke="#f59020" stroke-width="3.0"/>
<polyline points="662.5,352.5 655.0,355.0 640.0,360.0 631.2,368.8" stroke="#f5c024" stroke-width="3.0"/>
<polyline points="587.5,350.0 583.8,360.0 580.0,367.5" stroke="#b3bf1d" stroke-width="3.0"/>
<polyline points="596.2,360.0 590.0,367.5 582.5,372.5" stroke="#98ba1a" stroke-width="3.0"/>
<polyline points="572.5,365.0 562.5,370.0 552.5,377.5 540.0,382.5" stroke="#f8ad20" stroke-width="3.0"/>
<polyline points="540.0,420.0 552.5,412.5" stroke="#edc324" stroke-width="3.0"/>
<polyline points="600.0,348.8 617.5,342.5" stroke="#f8ad20" stroke-width="3.0"/>
<polyline points="460.0,424.0 472.0,420.0 484.0,416.0 500.0,408.0 512.0,402.0 524.0,396.0 536.0,390.0 550.0,386.0 560.0,382.0 568.0,378.0 576.0,372.0 584.0,366.0 592.0,358.0 597.5,351.2 610.0,350.0 627.5,350.0 645.0,350.0 662.5,352.0" stroke="#ef671a" stroke-width="3.0"/>
<polyline points="460.0,428.0 480.0,424.0 500.0,418.0 516.0,412.0 532.0,406.0 548.0,400.0 560.0,396.0 572.0,390.0 585.0,383.0 600.0,376.0 615.0,369.0 632.5,362.0" stroke="#f59020" stroke-width="3.0"/>
<polyline points="468.0,404.0 480.0,400.0 500.0,392.0 508.0,387.0 520.0,384.0 536.0,378.0 548.0,370.0 560.0,362.0 572.0,352.0 580.0,346.0 590.0,337.0 600.0,332.0 610.0,327.5" stroke="#f3801e" stroke-width="3.0"/>
<polyline points="512.0,406.0 520.0,404.0 530.0,398.0 540.0,390.0 548.0,382.0 556.0,376.0 564.0,370.0 574.0,365.0" stroke="#f7b622" stroke-width="3.0"/>
<polyline points="468.0,406.0 486.0,400.0 500.0,398.0 512.0,394.0 520.0,390.0" stroke="#f7a71f" stroke-width="3.0"/>
<polyline points="508.0,360.0 516.0,356.0 528.0,351.0 540.0,347.0 552.0,343.0 565.0,337.0 580.0,331.0 592.0,327.0 600.0,325.5" stroke="#ed601d" stroke-width="3.0"/>
<polyline points="506.0,360.0 511.0,354.0 513.0,346.0 516.0,340.0 522.0,330.0 535.0,320.0 542.0,312.0 548.0,305.0 551.0,300.0 557.0,290.0 562.5,282.5 566.0,272.5" stroke="#ec5a24" stroke-width="3.0"/>
<polyline points="566.0,272.5 570.0,265.0 577.0,261.0" stroke="#f2781c" stroke-width="3.0"/>
<polyline points="478.8,377.5 487.5,362.5 497.5,347.5 507.5,332.5 515.0,320.0 520.0,311.2 530.0,307.5 540.0,300.0 543.8,290.0 542.5,277.5" stroke="#f48820" stroke-width="3.0"/>
<polyline points="542.5,277.5 539.5,267.5 543.8,258.8 547.5,248.8" stroke="#f5c024" stroke-width="3.0"/>
<polyline points="496.0,366.0 506.0,354.0 511.0,344.0 513.0,336.0" stroke="#e5c624" stroke-width="3.0"/>
<polyline points="526.0,386.0 523.0,393.0" stroke="#6cb21a" stroke-width="3.0"/>
<polyline points="564.0,384.0 560.0,386.0 558.0,394.0 556.0,398.0" stroke="#5eac23" stroke-width="3.0"/>
<polyline points="564.0,384.0 568.0,392.0" stroke="#6cb21a" stroke-width="3.0"/>
<polyline points="588.0,350.0 582.0,360.0 580.0,366.0" stroke="#a5bc1c" stroke-width="3.0"/>
<polyline points="596.0,360.0 592.0,368.0 582.0,372.0" stroke="#a5bc1c" stroke-width="3.0"/>
<polyline points="530.0,412.0 532.0,420.0 526.0,426.0" stroke="#5eac23" stroke-width="3.0"/>
<polyline points="552.0,412.0 544.0,418.0 536.0,426.0 532.0,430.0" stroke="#dcc723" stroke-width="3.0"/>
<polyline points="490.0,424.0 488.0,432.0 484.0,438.0" stroke="#a5bc1c" stroke-width="3.0"/>
<polyline points="490.0,438.0 500.0,432.0 512.0,428.0 524.0,424.0 532.0,420.0" stroke="#f6981f" stroke-width="3.0"/>
<polyline points="85.0,687.5 92.5,682.5 100.0,677.5 110.0,667.5 120.0,657.5" stroke="#f3801e" stroke-width="3.0"/>
<polyline points="120.0,657.5 130.0,650.0 137.5,642.5 145.0,635.0 152.5,627.5" stroke="#f06f1b" stroke-width="3.0"/>
<polyline points="152.5,627.5 160.0,620.0 167.5,612.5 175.0,607.5 185.0,597.5" stroke="#ed601d" stroke-width="3.0"/>
<polyline points="185.0,597.5 195.0,587.5 210.0,577.5 225.0,567.5" stroke="#ef5b34" stroke-width="3.0"/>
<polyline points="225.0,567.5 245.0,552.5 256.0,545.5" stroke="#f65f51" stroke-width="3.0"/>
<polyline points="256.0,545.5 270.0,536.0 282.5,528.8 295.0,521.0" stroke="#f96364" stroke-width="3.0"/>
<polyline points="295.0,521.0 307.5,513.8 320.0,506.0 330.0,500.0" stroke="#fc6c7e" stroke-width="3.0"/>
<polyline points="330.0,500.0 345.0,490.0 360.0,478.0 375.0,468.0 390.0,458.5 406.5,446.5" stroke="#ff77a6" stroke-width="3.0"/>
<polyline points="406.5,446.5 410.0,442.0 415.0,438.0 421.0,435.0 425.0,433.0" stroke="#f59020" stroke-width="3.0"/>
<polyline points="425.0,433.0 430.0,430.0 435.0,427.0 439.0,425.0" stroke="#f8ad20" stroke-width="3.0"/>
<polyline points="425.0,433.0 433.0,434.0 441.0,434.0" stroke="#f59020" stroke-width="3.0"/>
<polyline points="439.0,424.5 446.0,419.3" stroke="#fc6c7e" stroke-width="3.0"/>
<polyline points="446.0,419.3 455.0,414.0 464.0,407.3 471.5,402.8" stroke="#fd6f88" stroke-width="3.0"/>
<polyline points="471.5,402.8 476.8,397.5 479.0,392.3 479.8,386.3 481.2,381.8 485.0,377.2 491.0,372.0 497.0,367.5 502.0,363.0 508.0,360.0" stroke="#fa666d" stroke-width="3.0"/>
<polyline points="450.0,432.6 460.0,430.0 470.0,427.0 478.0,424.5" stroke="#fa666d" stroke-width="3.0"/>
<polyline points="478.0,424.5 492.0,420.0 504.0,415.5" stroke="#ed601d" stroke-width="3.0"/>
<polyline points="452.0,436.0 464.0,434.0" stroke="#edc324" stroke-width="3.0"/>
<polyline points="452.0,439.0 456.0,437.0" stroke="#6cb21a" stroke-width="3.0"/>
<polyline points="415.0,454.0 425.0,447.0" stroke="#f5c024" stroke-width="3.0"/>
<polyline points="471.9,293.8 471.9,300.0" stroke="#c0c21f" stroke-width="3.0"/>
<polyline points="471.9,300.0 471.9,310.0 471.2,317.5 470.0,323.8 471.9,326.2 470.6,332.5 471.2,340.0 470.0,345.0 466.0,352.0 463.0,360.0 459.0,370.0 454.0,378.0 448.0,388.0 444.0,396.0" stroke="#edc324" stroke-width="3.0"/>
<polyline points="444.0,396.0 436.0,403.0" stroke="#b3bf1d" stroke-width="3.0"/>
<polyline points="470.0,325.0 465.0,335.0" stroke="#c0c21f" stroke-width="3.0"/>
<polyline points="471.0,340.0 470.0,350.0 469.0,358.0 468.0,363.0 466.5,370.0 464.0,378.0 460.0,386.0 454.0,394.0 450.0,402.0 446.0,409.0 443.0,412.0" stroke="#f59020" stroke-width="3.0"/>
<polyline points="478.0,378.0 484.0,370.0" stroke="#f48820" stroke-width="3.0"/>
<polyline points="280.0,546.0 276.0,556.0 272.5,565.0 270.0,572.5 267.5,580.0 260.0,600.0 257.5,615.0 247.5,627.5 240.0,640.0" stroke="#ed601d" stroke-width="3.0"/>
<polyline points="306.0,533.0 301.0,542.5 296.0,552.5 293.0,561.0 293.8,560.0 290.0,575.0 280.0,587.5" stroke="#ed601d" stroke-width="3.0"/>
<polyline points="292.5,570.0 291.0,576.0 287.5,582.5 279.0,589.0" stroke="#ed601d" stroke-width="3.0"/>
<polyline points="319.0,538.0 316.0,546.0 312.5,552.5 307.5,561.0 302.5,572.5 295.0,585.0 288.8,595.0 285.0,607.5 286.2,617.5 282.5,627.5 277.5,635.0 272.5,645.0 267.5,652.5" stroke="#f48820" stroke-width="3.0"/>
<polyline points="303.0,569.0 301.0,577.5 297.5,584.0 291.0,590.0 286.0,596.0 284.0,600.0" stroke="#f59020" stroke-width="3.0"/>
<polyline points="322.5,544.0 319.0,550.0 315.0,557.5 312.5,565.0 310.0,570.0 305.0,580.0 300.0,597.5 295.0,605.0 293.8,615.0 297.5,625.0 300.0,635.0 301.2,647.5 305.0,660.0 310.0,670.0 311.2,673.8" stroke="#ef671a" stroke-width="3.0"/>
<polyline points="341.0,515.0 335.0,520.0 330.0,525.0 327.0,530.0" stroke="#f3801e" stroke-width="3.0"/>
<polyline points="342.0,518.0 337.5,525.0 332.5,531.0 327.5,536.0 325.0,541.0 323.0,546.0" stroke="#ef5b34" stroke-width="3.0"/>
<polyline points="342.5,520.0 340.0,529.0 335.0,536.0 330.0,542.5 326.0,549.0 322.5,556.0 324.0,565.0 325.0,572.5 324.0,581.0 323.0,586.0" stroke="#f7b622" stroke-width="3.0"/>
<polyline points="349.0,523.0 350.0,531.0 347.5,540.0 345.0,549.0 344.0,557.5 340.0,565.0 335.0,571.0 332.5,574.0" stroke="#f7b622" stroke-width="3.0"/>
<polyline points="332.5,574.0 337.5,580.0 339.0,587.5" stroke="#e5c624" stroke-width="3.0"/>
<polyline points="319.0,565.0 316.0,570.0 312.5,574.0 307.5,576.0 304.0,579.0" stroke="#dcc723" stroke-width="3.0"/>
<polyline points="319.0,571.0 316.0,577.5 312.5,582.5 307.5,586.0 306.0,590.0" stroke="#6cb21a" stroke-width="3.0"/>
<polyline points="306.0,586.0 312.0,585.0 320.0,585.6" stroke="#52a52f" stroke-width="3.0"/>
<polyline points="328.0,577.5 329.0,585.0 331.0,592.5 332.5,600.0" stroke="#a5bc1c" stroke-width="3.0"/>
<polyline points="335.0,580.0 332.5,587.5 334.0,595.0" stroke="#a5bc1c" stroke-width="3.0"/>
<polyline points="342.5,560.0 335.0,572.5 337.5,587.5" stroke="#edc324" stroke-width="3.0"/>
<polyline points="327.5,580.0 330.0,590.0 332.5,600.0" stroke="#a5bc1c" stroke-width="3.0"/>
<polyline points="330.0,597.5 322.5,607.5 312.5,615.0 302.5,627.5" stroke="#f7b622" stroke-width="3.0"/>
<polyline points="342.5,600.0 335.0,605.0 327.5,615.0 320.0,625.0" stroke="#469b41" stroke-width="3.0"/>
<polyline points="287.5,625.0 280.0,635.0 272.5,645.0 267.5,652.5" stroke="#f6981f" stroke-width="3.0"/>
<polyline points="287.5,630.0 280.0,640.0 272.5,652.5 267.5,662.5" stroke="#c0c21f" stroke-width="3.0"/>
<polyline points="265.0,647.5 255.0,652.5 251.2,660.0 250.0,665.0" stroke="#a5bc1c" stroke-width="3.0"/>
<polyline points="250.0,642.5 245.0,652.5 240.0,660.0" stroke="#b3bf1d" stroke-width="3.0"/>
<polyline points="293.8,642.5 285.0,655.0 280.0,665.0 276.2,677.5 273.8,687.5" stroke="#f7a01f" stroke-width="3.0"/>
<polyline points="290.0,655.0 285.0,665.0 285.0,675.0 283.8,682.5" stroke="#e5c624" stroke-width="3.0"/>
<polyline points="310.0,670.0 297.5,672.5 290.0,675.0 282.5,682.5 280.0,690.0" stroke="#89b71a" stroke-width="3.0"/>
<polyline points="312.5,672.5 325.0,680.0 330.0,687.5 337.5,697.5" stroke="#cec421" stroke-width="3.0"/>
<polyline points="253.8,705.0 265.0,702.5 275.0,695.0 280.0,691.0 290.0,695.0 302.5,700.0 312.5,705.0 322.5,712.5" stroke="#e5c624" stroke-width="3.0"/>
<polyline points="322.5,712.5 331.2,720.0" stroke="#a5bc1c" stroke-width="3.0"/>
<polyline points="243.8,585.0 247.5,600.0 251.2,617.5" stroke="#e5c624" stroke-width="3.0"/>
<polyline points="77.5,678.8 85.0,670.0" stroke="#469b41" stroke-width="3.0"/>
<polyline points="117.5,623.8 124.0,617.0" stroke="#5eac23" stroke-width="3.0"/>
<polyline points="124.0,617.0 136.2,606.2" stroke="#b3bf1d" stroke-width="3.0"/>
<polyline points="115.0,650.0 122.5,640.0 125.0,632.5 131.2,625.0 141.2,617.5" stroke="#cec421" stroke-width="3.0"/>
<polyline points="147.5,603.8 152.5,590.0 160.0,580.0 171.2,571.2" stroke="#cec421" stroke-width="3.0"/>
<polyline points="137.5,637.5 145.0,627.5 153.8,620.0" stroke="#5eac23" stroke-width="3.0"/>
<polyline points="160.0,617.5 166.2,611.2" stroke="#f59020" stroke-width="3.0"/>
<polyline points="137.5,667.5 145.0,655.0" stroke="#5eac23" stroke-width="3.0"/>
<polyline points="205.0,646.2 212.5,635.0 217.5,617.5 222.5,607.5 230.0,597.5 235.0,592.5" stroke="#f5c024" stroke-width="3.0"/>
<polyline points="230.0,565.0 232.5,577.5 235.0,592.5" stroke="#f8ad20" stroke-width="3.0"/>
<polyline points="235.0,592.5 233.8,605.0 233.8,616.2" stroke="#7bb51a" stroke-width="3.0"/>
<polyline points="236.2,565.0 241.2,562.5" stroke="#a5bc1c" stroke-width="3.0"/>
<polyline points="241.2,562.5 237.5,572.5 235.0,582.5" stroke="#a5bc1c" stroke-width="3.0"/>
<polyline points="243.8,585.0 247.5,600.0 252.5,617.5" stroke="#e5c624" stroke-width="3.0"/>
<polyline points="270.0,570.0 265.0,587.5 260.0,605.0 256.2,617.5 247.5,627.5 240.0,637.5 230.0,645.0 220.0,652.5 211.0,657.0" stroke="#f2781c" stroke-width="3.0"/>
<polyline points="211.2,657.5 212.5,670.0 217.5,680.0" stroke="#edc324" stroke-width="3.0"/>
<polyline points="227.5,657.5 225.0,677.5" stroke="#e5c624" stroke-width="3.0"/>
<polyline points="222.5,665.0 235.0,665.0 245.0,660.0 250.0,645.0" stroke="#e5c624" stroke-width="3.0"/>
<polyline points="250.0,665.0 252.5,657.5 260.0,650.0 267.5,647.5" stroke="#b3bf1d" stroke-width="3.0"/>
<polyline points="211.2,656.2 202.5,665.0 195.0,675.0 187.5,690.0" stroke="#b3bf1d" stroke-width="3.0"/>
<polyline points="209.5,660.0 205.5,668.0 200.0,677.0 194.0,684.0" stroke="#2d8476" stroke-width="3.0"/>
<polyline points="187.5,690.0 170.0,702.5 157.5,712.5 152.5,717.5" stroke="#52a52f" stroke-width="3.0"/>
<polyline points="152.5,717.5 142.5,727.5" stroke="#268082" stroke-width="3.0"/>
<polyline points="253.8,705.0 265.0,701.2" stroke="#e5c624" stroke-width="3.0"/>
<polyline points="408.0,445.6 420.0,443.5 432.0,438.4 444.0,435.4 450.0,432.4" stroke="#000" stroke-width="5.2" stroke-linecap="butt"/>
</g>
<rect x="72.5" y="41.5" width="695" height="694.5" fill="none" stroke="#a0a0a0" stroke-width="1.1"/>
<text x="66" y="70.0" font-size="18" text-anchor="end">-38</text>
<text x="66" y="226.0" font-size="18" text-anchor="end">-40</text>
<text x="66" y="382.0" font-size="18" text-anchor="end">-42</text>
<text x="66" y="538.0" font-size="18" text-anchor="end">-44</text>
<text x="66" y="694.0" font-size="18" text-anchor="end">-46</text>
<text x="112.2" y="759.3" font-size="18" text-anchor="middle">166</text>
<text x="227.8" y="759.3" font-size="18" text-anchor="middle">168</text>
<text x="343.3" y="759.3" font-size="18" text-anchor="middle">170</text>
<text x="458.9" y="759.3" font-size="18" text-anchor="middle">172</text>
<text x="574.4" y="759.3" font-size="18" text-anchor="middle">174</text>
<text x="690.0" y="759.3" font-size="18" text-anchor="middle">176</text>
<text x="419.5" y="789" font-size="24" text-anchor="middle">Longitude</text>
<text transform="translate(26.2,388.7) rotate(-90)" font-size="24" text-anchor="middle">Latitude</text>
<rect x="50" y="803" width="700" height="15" fill="url(#cb)"/>
<rect x="50" y="803" width="700" height="15" fill="none" stroke="#b0b0b0" stroke-width="0.8"/>
<text x="50.0" y="839.4" font-size="16" text-anchor="middle">0</text>
<text x="120.0" y="839.4" font-size="16" text-anchor="middle">0.5</text>
<text x="190.0" y="839.4" font-size="16" text-anchor="middle">1</text>
<text x="260.0" y="839.4" font-size="16" text-anchor="middle">1.5</text>
<text x="330.0" y="839.4" font-size="16" text-anchor="middle">2</text>
<text x="400.0" y="839.4" font-size="16" text-anchor="middle">2.5</text>
<text x="470.0" y="839.4" font-size="16" text-anchor="middle">3</text>
<text x="540.0" y="839.4" font-size="16" text-anchor="middle">3.5</text>
<text x="610.0" y="839.4" font-size="16" text-anchor="middle">4</text>
<text x="680.0" y="839.4" font-size="16" text-anchor="middle">4.5</text>
<text x="750.0" y="839.4" font-size="16" text-anchor="middle">5</text>
<path d="M50.0 818V821.5M120.0 818V821.5M190.0 818V821.5M260.0 818V821.5M330.0 818V821.5M400.0 818V821.5M470.0 818V821.5M540.0 818V821.5M610.0 818V821.5M680.0 818V821.5M750.0 818V821.5" stroke="#b0b0b0" stroke-width="0.8"/>
<text x="400" y="869.2" font-size="24" text-anchor="middle">Log10 Co-rupture Count</text>
</svg></body></html>
